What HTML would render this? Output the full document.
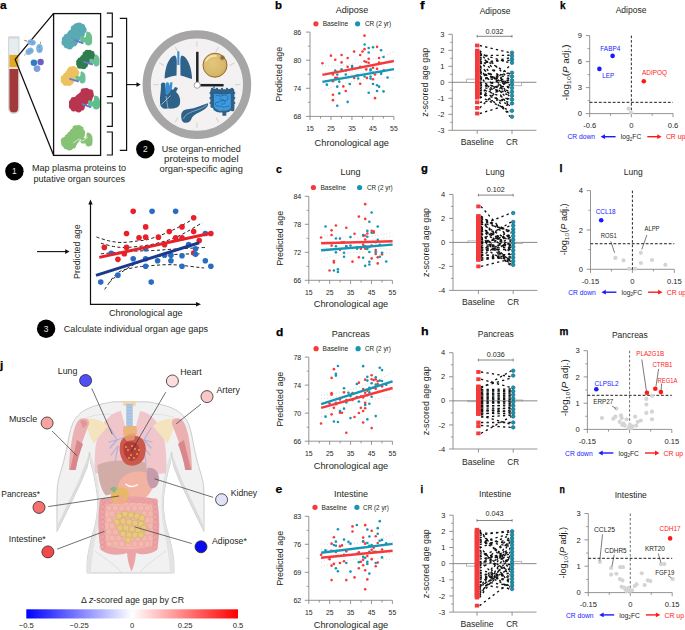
<!DOCTYPE html>
<html><head><meta charset="utf-8"><style>
html,body{margin:0;padding:0;background:#fff;}
svg{display:block;}
text{font-family:"Liberation Sans", sans-serif;}
</style></head><body>
<svg width="685" height="630" viewBox="0 0 685 630">
<rect width="685" height="630" fill="#fff"/>
<text x="275.00" y="9.00" font-size="11" font-weight="bold" fill="#000" stroke="#000" stroke-width="0.25" textLength="7" lengthAdjust="spacingAndGlyphs">b</text>
<text x="351.90" y="12.90" font-size="9" fill="#231f20" text-anchor="middle">Adipose</text>
<circle cx="315.90" cy="23.80" r="2.6" fill="#f63a3b"/>
<text x="322.70" y="26.20" font-size="7" fill="#231f20" textLength="25.40" lengthAdjust="spacingAndGlyphs">Baseline</text>
<circle cx="357.60" cy="23.80" r="2.6" fill="#1596b4"/>
<text x="364.90" y="26.20" font-size="7" fill="#231f20" textLength="26.30" lengthAdjust="spacingAndGlyphs">CR (2 yr)</text>
<line x1="310.00" y1="32.10" x2="310.00" y2="116.40" stroke="#7a7a7a" stroke-width="0.8"/>
<line x1="310.00" y1="116.40" x2="393.90" y2="116.40" stroke="#7a7a7a" stroke-width="0.8"/>
<line x1="306.00" y1="116.40" x2="310.00" y2="116.40" stroke="#7a7a7a" stroke-width="0.8"/>
<text x="301.30" y="119.20" font-size="7.8" fill="#231f20" text-anchor="end" textLength="7.90" lengthAdjust="spacingAndGlyphs">68</text>
<line x1="306.00" y1="88.30" x2="310.00" y2="88.30" stroke="#7a7a7a" stroke-width="0.8"/>
<text x="301.30" y="91.10" font-size="7.8" fill="#231f20" text-anchor="end" textLength="7.90" lengthAdjust="spacingAndGlyphs">74</text>
<line x1="306.00" y1="60.20" x2="310.00" y2="60.20" stroke="#7a7a7a" stroke-width="0.8"/>
<text x="301.30" y="63.00" font-size="7.8" fill="#231f20" text-anchor="end" textLength="7.90" lengthAdjust="spacingAndGlyphs">80</text>
<line x1="306.00" y1="32.10" x2="310.00" y2="32.10" stroke="#7a7a7a" stroke-width="0.8"/>
<text x="301.30" y="34.90" font-size="7.8" fill="#231f20" text-anchor="end" textLength="7.90" lengthAdjust="spacingAndGlyphs">86</text>
<line x1="307.80" y1="102.35" x2="310.00" y2="102.35" stroke="#7a7a7a" stroke-width="0.7"/>
<line x1="307.80" y1="74.25" x2="310.00" y2="74.25" stroke="#7a7a7a" stroke-width="0.7"/>
<line x1="307.80" y1="46.15" x2="310.00" y2="46.15" stroke="#7a7a7a" stroke-width="0.7"/>
<line x1="310.00" y1="116.40" x2="310.00" y2="120.00" stroke="#7a7a7a" stroke-width="0.8"/>
<text x="310.00" y="130.80" font-size="7.8" fill="#231f20" text-anchor="middle" textLength="7.60" lengthAdjust="spacingAndGlyphs">15</text>
<line x1="320.49" y1="116.40" x2="320.49" y2="118.60" stroke="#7a7a7a" stroke-width="0.8"/>
<line x1="330.98" y1="116.40" x2="330.98" y2="120.00" stroke="#7a7a7a" stroke-width="0.8"/>
<text x="330.98" y="130.80" font-size="7.8" fill="#231f20" text-anchor="middle" textLength="7.60" lengthAdjust="spacingAndGlyphs">25</text>
<line x1="341.46" y1="116.40" x2="341.46" y2="118.60" stroke="#7a7a7a" stroke-width="0.8"/>
<line x1="351.95" y1="116.40" x2="351.95" y2="120.00" stroke="#7a7a7a" stroke-width="0.8"/>
<text x="351.95" y="130.80" font-size="7.8" fill="#231f20" text-anchor="middle" textLength="7.60" lengthAdjust="spacingAndGlyphs">35</text>
<line x1="362.44" y1="116.40" x2="362.44" y2="118.60" stroke="#7a7a7a" stroke-width="0.8"/>
<line x1="372.92" y1="116.40" x2="372.92" y2="120.00" stroke="#7a7a7a" stroke-width="0.8"/>
<text x="372.92" y="130.80" font-size="7.8" fill="#231f20" text-anchor="middle" textLength="7.60" lengthAdjust="spacingAndGlyphs">45</text>
<line x1="383.41" y1="116.40" x2="383.41" y2="118.60" stroke="#7a7a7a" stroke-width="0.8"/>
<line x1="393.90" y1="116.40" x2="393.90" y2="120.00" stroke="#7a7a7a" stroke-width="0.8"/>
<text x="393.90" y="130.80" font-size="7.8" fill="#231f20" text-anchor="middle" textLength="7.60" lengthAdjust="spacingAndGlyphs">55</text>
<text x="351.80" y="145.50" font-size="9" fill="#231f20" text-anchor="middle" textLength="74.40" lengthAdjust="spacingAndGlyphs">Chronological age</text>
<text x="281.60" y="74.25" font-size="8.7" fill="#231f20" text-anchor="middle" textLength="55.00" lengthAdjust="spacingAndGlyphs" transform="rotate(-90 281.60 74.25)">Predicted age</text>
<path d="M322.4,65.9 Q358.1,67.0 393.9,52.0" fill="none" stroke="#b8b8b8" stroke-width="0.7" stroke-dasharray="0.8 2.2"/>
<path d="M322.4,83.9 Q358.1,69.0 393.9,70.0" fill="none" stroke="#b8b8b8" stroke-width="0.7" stroke-dasharray="0.8 2.2"/>
<path d="M322.4,72.9 Q358.1,74.5 393.9,60.1" fill="none" stroke="#b8b8b8" stroke-width="0.7" stroke-dasharray="0.8 2.2"/>
<path d="M322.4,90.9 Q358.1,76.5 393.9,78.1" fill="none" stroke="#b8b8b8" stroke-width="0.7" stroke-dasharray="0.8 2.2"/>
<circle cx="322.42" cy="63.32" r="1.3" fill="#f63a3b"/>
<circle cx="330.92" cy="55.63" r="1.3" fill="#f63a3b"/>
<circle cx="335.24" cy="59.68" r="1.3" fill="#f63a3b"/>
<circle cx="341.58" cy="54.96" r="1.3" fill="#f63a3b"/>
<circle cx="341.58" cy="62.38" r="1.3" fill="#f63a3b"/>
<circle cx="347.65" cy="57.93" r="1.3" fill="#f63a3b"/>
<circle cx="347.65" cy="66.83" r="1.3" fill="#f63a3b"/>
<circle cx="354.12" cy="51.59" r="1.3" fill="#f63a3b"/>
<circle cx="360.19" cy="54.96" r="1.3" fill="#f63a3b"/>
<circle cx="362.49" cy="51.59" r="1.3" fill="#f63a3b"/>
<circle cx="364.51" cy="49.16" r="1.3" fill="#f63a3b"/>
<circle cx="364.51" cy="35.67" r="1.3" fill="#f63a3b"/>
<circle cx="364.51" cy="61.30" r="1.3" fill="#f63a3b"/>
<circle cx="366.26" cy="61.97" r="1.3" fill="#f63a3b"/>
<circle cx="368.69" cy="58.74" r="1.3" fill="#f63a3b"/>
<circle cx="368.69" cy="62.78" r="1.3" fill="#f63a3b"/>
<circle cx="377.06" cy="46.86" r="1.3" fill="#f63a3b"/>
<circle cx="379.08" cy="57.93" r="1.3" fill="#f63a3b"/>
<circle cx="379.08" cy="62.65" r="1.3" fill="#f63a3b"/>
<circle cx="377.06" cy="68.85" r="1.3" fill="#f63a3b"/>
<circle cx="373.01" cy="67.77" r="1.3" fill="#f63a3b"/>
<circle cx="366.26" cy="69.39" r="1.3" fill="#f63a3b"/>
<circle cx="366.94" cy="77.89" r="1.3" fill="#f63a3b"/>
<circle cx="360.19" cy="83.69" r="1.3" fill="#f63a3b"/>
<circle cx="354.12" cy="77.89" r="1.3" fill="#f63a3b"/>
<circle cx="343.33" cy="86.39" r="1.3" fill="#f63a3b"/>
<circle cx="345.76" cy="90.98" r="1.3" fill="#f63a3b"/>
<circle cx="332.94" cy="81.26" r="1.3" fill="#f63a3b"/>
<circle cx="332.94" cy="94.76" r="1.3" fill="#f63a3b"/>
<circle cx="332.94" cy="100.15" r="1.3" fill="#f63a3b"/>
<circle cx="335.24" cy="77.89" r="1.3" fill="#f63a3b"/>
<circle cx="337.26" cy="77.89" r="1.3" fill="#f63a3b"/>
<circle cx="332.94" cy="74.52" r="1.3" fill="#f63a3b"/>
<circle cx="375.03" cy="98.13" r="1.3" fill="#f63a3b"/>
<circle cx="383.80" cy="70.20" r="1.3" fill="#f63a3b"/>
<circle cx="373.01" cy="79.24" r="1.3" fill="#f63a3b"/>
<circle cx="375.03" cy="74.52" r="1.3" fill="#f63a3b"/>
<circle cx="356.15" cy="75.87" r="1.3" fill="#f63a3b"/>
<circle cx="364.65" cy="44.44" r="1.3" fill="#1596b4"/>
<circle cx="368.69" cy="47.94" r="1.3" fill="#1596b4"/>
<circle cx="373.01" cy="47.27" r="1.3" fill="#1596b4"/>
<circle cx="368.69" cy="52.53" r="1.3" fill="#1596b4"/>
<circle cx="381.10" cy="50.24" r="1.3" fill="#1596b4"/>
<circle cx="383.53" cy="56.98" r="1.3" fill="#1596b4"/>
<circle cx="335.24" cy="70.47" r="1.3" fill="#1596b4"/>
<circle cx="337.26" cy="74.52" r="1.3" fill="#1596b4"/>
<circle cx="341.58" cy="69.39" r="1.3" fill="#1596b4"/>
<circle cx="345.76" cy="70.47" r="1.3" fill="#1596b4"/>
<circle cx="345.76" cy="74.52" r="1.3" fill="#1596b4"/>
<circle cx="352.10" cy="66.02" r="1.3" fill="#1596b4"/>
<circle cx="352.10" cy="67.10" r="1.3" fill="#1596b4"/>
<circle cx="360.19" cy="66.69" r="1.3" fill="#1596b4"/>
<circle cx="358.17" cy="75.19" r="1.3" fill="#1596b4"/>
<circle cx="358.17" cy="78.57" r="1.3" fill="#1596b4"/>
<circle cx="364.65" cy="76.54" r="1.3" fill="#1596b4"/>
<circle cx="370.58" cy="69.39" r="1.3" fill="#1596b4"/>
<circle cx="370.58" cy="70.47" r="1.3" fill="#1596b4"/>
<circle cx="370.58" cy="76.54" r="1.3" fill="#1596b4"/>
<circle cx="370.58" cy="78.57" r="1.3" fill="#1596b4"/>
<circle cx="373.01" cy="72.90" r="1.3" fill="#1596b4"/>
<circle cx="381.10" cy="72.50" r="1.3" fill="#1596b4"/>
<circle cx="381.10" cy="73.84" r="1.3" fill="#1596b4"/>
<circle cx="387.58" cy="77.49" r="1.3" fill="#1596b4"/>
<circle cx="326.87" cy="84.64" r="1.3" fill="#1596b4"/>
<circle cx="339.28" cy="81.67" r="1.3" fill="#1596b4"/>
<circle cx="337.26" cy="86.66" r="1.3" fill="#1596b4"/>
<circle cx="339.28" cy="93.41" r="1.3" fill="#1596b4"/>
<circle cx="349.81" cy="83.96" r="1.3" fill="#1596b4"/>
<circle cx="347.65" cy="101.91" r="1.3" fill="#1596b4"/>
<circle cx="337.26" cy="105.82" r="1.3" fill="#1596b4"/>
<circle cx="368.69" cy="92.73" r="1.3" fill="#1596b4"/>
<circle cx="373.01" cy="83.96" r="1.3" fill="#1596b4"/>
<circle cx="377.06" cy="85.31" r="1.3" fill="#1596b4"/>
<circle cx="379.08" cy="86.66" r="1.3" fill="#1596b4"/>
<circle cx="377.06" cy="90.98" r="1.3" fill="#1596b4"/>
<circle cx="383.53" cy="91.38" r="1.3" fill="#1596b4"/>
<line x1="322.40" y1="74.90" x2="393.90" y2="61.00" stroke="#f63a3b" stroke-width="2.4"/>
<line x1="322.40" y1="81.90" x2="393.90" y2="69.10" stroke="#1596b4" stroke-width="2.4"/>
<text x="276.00" y="173.00" font-size="11" font-weight="bold" fill="#000" stroke="#000" stroke-width="0.25" textLength="5.8" lengthAdjust="spacingAndGlyphs">c</text>
<text x="350.40" y="175.00" font-size="9" fill="#231f20" text-anchor="middle">Lung</text>
<circle cx="313.40" cy="187.50" r="2.6" fill="#f63a3b"/>
<text x="320.40" y="189.90" font-size="7" fill="#231f20" textLength="25.60" lengthAdjust="spacingAndGlyphs">Baseline</text>
<circle cx="359.60" cy="187.50" r="2.6" fill="#1596b4"/>
<text x="366.90" y="189.90" font-size="7" fill="#231f20" textLength="25.80" lengthAdjust="spacingAndGlyphs">CR (2 yr)</text>
<line x1="308.80" y1="196.30" x2="308.80" y2="280.30" stroke="#7a7a7a" stroke-width="0.8"/>
<line x1="308.80" y1="280.30" x2="392.40" y2="280.30" stroke="#7a7a7a" stroke-width="0.8"/>
<line x1="304.80" y1="280.30" x2="308.80" y2="280.30" stroke="#7a7a7a" stroke-width="0.8"/>
<text x="301.30" y="283.10" font-size="7.8" fill="#231f20" text-anchor="end" textLength="7.90" lengthAdjust="spacingAndGlyphs">66</text>
<line x1="304.80" y1="252.30" x2="308.80" y2="252.30" stroke="#7a7a7a" stroke-width="0.8"/>
<text x="301.30" y="255.10" font-size="7.8" fill="#231f20" text-anchor="end" textLength="7.90" lengthAdjust="spacingAndGlyphs">72</text>
<line x1="304.80" y1="224.30" x2="308.80" y2="224.30" stroke="#7a7a7a" stroke-width="0.8"/>
<text x="301.30" y="227.10" font-size="7.8" fill="#231f20" text-anchor="end" textLength="7.90" lengthAdjust="spacingAndGlyphs">78</text>
<line x1="304.80" y1="196.30" x2="308.80" y2="196.30" stroke="#7a7a7a" stroke-width="0.8"/>
<text x="301.30" y="199.10" font-size="7.8" fill="#231f20" text-anchor="end" textLength="7.90" lengthAdjust="spacingAndGlyphs">84</text>
<line x1="306.60" y1="266.30" x2="308.80" y2="266.30" stroke="#7a7a7a" stroke-width="0.7"/>
<line x1="306.60" y1="238.30" x2="308.80" y2="238.30" stroke="#7a7a7a" stroke-width="0.7"/>
<line x1="306.60" y1="210.30" x2="308.80" y2="210.30" stroke="#7a7a7a" stroke-width="0.7"/>
<line x1="308.80" y1="280.30" x2="308.80" y2="283.90" stroke="#7a7a7a" stroke-width="0.8"/>
<text x="308.80" y="294.70" font-size="7.8" fill="#231f20" text-anchor="middle" textLength="7.60" lengthAdjust="spacingAndGlyphs">15</text>
<line x1="319.25" y1="280.30" x2="319.25" y2="282.50" stroke="#7a7a7a" stroke-width="0.8"/>
<line x1="329.70" y1="280.30" x2="329.70" y2="283.90" stroke="#7a7a7a" stroke-width="0.8"/>
<text x="329.70" y="294.70" font-size="7.8" fill="#231f20" text-anchor="middle" textLength="7.60" lengthAdjust="spacingAndGlyphs">25</text>
<line x1="340.15" y1="280.30" x2="340.15" y2="282.50" stroke="#7a7a7a" stroke-width="0.8"/>
<line x1="350.60" y1="280.30" x2="350.60" y2="283.90" stroke="#7a7a7a" stroke-width="0.8"/>
<text x="350.60" y="294.70" font-size="7.8" fill="#231f20" text-anchor="middle" textLength="7.60" lengthAdjust="spacingAndGlyphs">35</text>
<line x1="361.05" y1="280.30" x2="361.05" y2="282.50" stroke="#7a7a7a" stroke-width="0.8"/>
<line x1="371.50" y1="280.30" x2="371.50" y2="283.90" stroke="#7a7a7a" stroke-width="0.8"/>
<text x="371.50" y="294.70" font-size="7.8" fill="#231f20" text-anchor="middle" textLength="7.60" lengthAdjust="spacingAndGlyphs">45</text>
<line x1="381.95" y1="280.30" x2="381.95" y2="282.50" stroke="#7a7a7a" stroke-width="0.8"/>
<line x1="392.40" y1="280.30" x2="392.40" y2="283.90" stroke="#7a7a7a" stroke-width="0.8"/>
<text x="392.40" y="294.70" font-size="7.8" fill="#231f20" text-anchor="middle" textLength="7.60" lengthAdjust="spacingAndGlyphs">55</text>
<text x="351.00" y="307.00" font-size="9" fill="#231f20" text-anchor="middle" textLength="74.40" lengthAdjust="spacingAndGlyphs">Chronological age</text>
<text x="283.20" y="238.30" font-size="8.7" fill="#231f20" text-anchor="middle" textLength="55.00" lengthAdjust="spacingAndGlyphs" transform="rotate(-90 283.20 238.30)">Predicted age</text>
<path d="M321.1,234.3 Q356.9,241.3 392.6,232.3" fill="none" stroke="#b8b8b8" stroke-width="0.7" stroke-dasharray="0.8 2.2"/>
<path d="M321.1,252.3 Q356.9,243.3 392.6,250.3" fill="none" stroke="#b8b8b8" stroke-width="0.7" stroke-dasharray="0.8 2.2"/>
<path d="M321.1,241.3 Q356.9,246.4 392.6,235.6" fill="none" stroke="#b8b8b8" stroke-width="0.7" stroke-dasharray="0.8 2.2"/>
<path d="M321.1,259.3 Q356.9,248.4 392.6,253.6" fill="none" stroke="#b8b8b8" stroke-width="0.7" stroke-dasharray="0.8 2.2"/>
<circle cx="365.19" cy="204.17" r="1.3" fill="#f63a3b"/>
<circle cx="358.84" cy="216.59" r="1.3" fill="#f63a3b"/>
<circle cx="365.19" cy="218.88" r="1.3" fill="#f63a3b"/>
<circle cx="335.91" cy="225.49" r="1.3" fill="#f63a3b"/>
<circle cx="346.30" cy="227.78" r="1.3" fill="#f63a3b"/>
<circle cx="331.59" cy="230.35" r="1.3" fill="#f63a3b"/>
<circle cx="331.59" cy="235.07" r="1.3" fill="#f63a3b"/>
<circle cx="321.07" cy="237.50" r="1.3" fill="#f63a3b"/>
<circle cx="354.53" cy="233.72" r="1.3" fill="#f63a3b"/>
<circle cx="363.16" cy="235.74" r="1.3" fill="#f63a3b"/>
<circle cx="365.19" cy="235.47" r="1.3" fill="#f63a3b"/>
<circle cx="367.34" cy="233.45" r="1.3" fill="#f63a3b"/>
<circle cx="371.66" cy="230.75" r="1.3" fill="#f63a3b"/>
<circle cx="373.68" cy="231.42" r="1.3" fill="#f63a3b"/>
<circle cx="373.68" cy="232.77" r="1.3" fill="#f63a3b"/>
<circle cx="365.19" cy="239.52" r="1.3" fill="#f63a3b"/>
<circle cx="341.98" cy="242.22" r="1.3" fill="#f63a3b"/>
<circle cx="344.01" cy="242.22" r="1.3" fill="#f63a3b"/>
<circle cx="331.59" cy="245.59" r="1.3" fill="#f63a3b"/>
<circle cx="339.96" cy="249.64" r="1.3" fill="#f63a3b"/>
<circle cx="346.30" cy="246.26" r="1.3" fill="#f63a3b"/>
<circle cx="360.87" cy="248.69" r="1.3" fill="#f63a3b"/>
<circle cx="363.16" cy="244.65" r="1.3" fill="#f63a3b"/>
<circle cx="365.19" cy="248.69" r="1.3" fill="#f63a3b"/>
<circle cx="371.66" cy="245.59" r="1.3" fill="#f63a3b"/>
<circle cx="375.71" cy="250.04" r="1.3" fill="#f63a3b"/>
<circle cx="375.71" cy="253.95" r="1.3" fill="#f63a3b"/>
<circle cx="377.73" cy="257.33" r="1.3" fill="#f63a3b"/>
<circle cx="382.05" cy="254.36" r="1.3" fill="#f63a3b"/>
<circle cx="358.84" cy="257.33" r="1.3" fill="#f63a3b"/>
<circle cx="371.66" cy="258.41" r="1.3" fill="#f63a3b"/>
<circle cx="352.50" cy="261.64" r="1.3" fill="#f63a3b"/>
<circle cx="333.89" cy="261.10" r="1.3" fill="#f63a3b"/>
<circle cx="333.89" cy="262.45" r="1.3" fill="#f63a3b"/>
<circle cx="329.57" cy="270.55" r="1.3" fill="#f63a3b"/>
<circle cx="377.73" cy="263.40" r="1.3" fill="#f63a3b"/>
<circle cx="371.66" cy="212.54" r="1.3" fill="#1596b4"/>
<circle cx="369.37" cy="221.71" r="1.3" fill="#1596b4"/>
<circle cx="325.52" cy="226.57" r="1.3" fill="#1596b4"/>
<circle cx="377.73" cy="226.43" r="1.3" fill="#1596b4"/>
<circle cx="367.34" cy="230.89" r="1.3" fill="#1596b4"/>
<circle cx="371.66" cy="232.77" r="1.3" fill="#1596b4"/>
<circle cx="335.91" cy="238.44" r="1.3" fill="#1596b4"/>
<circle cx="339.96" cy="238.58" r="1.3" fill="#1596b4"/>
<circle cx="350.48" cy="237.09" r="1.3" fill="#1596b4"/>
<circle cx="363.16" cy="235.07" r="1.3" fill="#1596b4"/>
<circle cx="367.34" cy="236.82" r="1.3" fill="#1596b4"/>
<circle cx="377.73" cy="239.92" r="1.3" fill="#1596b4"/>
<circle cx="375.71" cy="242.22" r="1.3" fill="#1596b4"/>
<circle cx="379.76" cy="244.92" r="1.3" fill="#1596b4"/>
<circle cx="335.91" cy="246.26" r="1.3" fill="#1596b4"/>
<circle cx="346.30" cy="246.26" r="1.3" fill="#1596b4"/>
<circle cx="350.48" cy="245.59" r="1.3" fill="#1596b4"/>
<circle cx="357.09" cy="246.94" r="1.3" fill="#1596b4"/>
<circle cx="357.09" cy="248.69" r="1.3" fill="#1596b4"/>
<circle cx="365.19" cy="246.26" r="1.3" fill="#1596b4"/>
<circle cx="367.34" cy="246.94" r="1.3" fill="#1596b4"/>
<circle cx="369.37" cy="246.94" r="1.3" fill="#1596b4"/>
<circle cx="367.34" cy="248.96" r="1.3" fill="#1596b4"/>
<circle cx="335.91" cy="252.34" r="1.3" fill="#1596b4"/>
<circle cx="344.01" cy="252.74" r="1.3" fill="#1596b4"/>
<circle cx="344.01" cy="256.79" r="1.3" fill="#1596b4"/>
<circle cx="369.37" cy="252.07" r="1.3" fill="#1596b4"/>
<circle cx="375.71" cy="252.07" r="1.3" fill="#1596b4"/>
<circle cx="382.05" cy="252.74" r="1.3" fill="#1596b4"/>
<circle cx="363.16" cy="257.73" r="1.3" fill="#1596b4"/>
<circle cx="379.76" cy="256.79" r="1.3" fill="#1596b4"/>
<circle cx="369.37" cy="261.78" r="1.3" fill="#1596b4"/>
<circle cx="369.37" cy="264.48" r="1.3" fill="#1596b4"/>
<circle cx="365.19" cy="265.83" r="1.3" fill="#1596b4"/>
<circle cx="386.23" cy="261.51" r="1.3" fill="#1596b4"/>
<circle cx="333.89" cy="270.55" r="1.3" fill="#1596b4"/>
<circle cx="337.93" cy="269.20" r="1.3" fill="#1596b4"/>
<circle cx="337.93" cy="271.90" r="1.3" fill="#1596b4"/>
<line x1="321.10" y1="243.30" x2="392.60" y2="241.30" stroke="#f63a3b" stroke-width="2.4"/>
<line x1="321.10" y1="250.30" x2="392.60" y2="244.60" stroke="#1596b4" stroke-width="2.4"/>
<text x="276.00" y="335.50" font-size="11" font-weight="bold" fill="#000" stroke="#000" stroke-width="0.25" textLength="7.3" lengthAdjust="spacingAndGlyphs">d</text>
<text x="350.70" y="337.20" font-size="9" fill="#231f20" text-anchor="middle">Pancreas</text>
<circle cx="316.10" cy="348.70" r="2.6" fill="#f63a3b"/>
<text x="322.60" y="351.10" font-size="7" fill="#231f20" textLength="25.60" lengthAdjust="spacingAndGlyphs">Baseline</text>
<circle cx="358.10" cy="348.70" r="2.6" fill="#1596b4"/>
<text x="365.00" y="351.10" font-size="7" fill="#231f20" textLength="25.80" lengthAdjust="spacingAndGlyphs">CR (2 yr)</text>
<line x1="308.80" y1="357.10" x2="308.80" y2="441.20" stroke="#7a7a7a" stroke-width="0.8"/>
<line x1="308.80" y1="441.20" x2="392.40" y2="441.20" stroke="#7a7a7a" stroke-width="0.8"/>
<line x1="304.80" y1="441.20" x2="308.80" y2="441.20" stroke="#7a7a7a" stroke-width="0.8"/>
<text x="301.30" y="444.00" font-size="7.8" fill="#231f20" text-anchor="end" textLength="7.90" lengthAdjust="spacingAndGlyphs">66</text>
<line x1="304.80" y1="413.17" x2="308.80" y2="413.17" stroke="#7a7a7a" stroke-width="0.8"/>
<text x="301.30" y="415.97" font-size="7.8" fill="#231f20" text-anchor="end" textLength="7.90" lengthAdjust="spacingAndGlyphs">70</text>
<line x1="304.80" y1="385.13" x2="308.80" y2="385.13" stroke="#7a7a7a" stroke-width="0.8"/>
<text x="301.30" y="387.93" font-size="7.8" fill="#231f20" text-anchor="end" textLength="7.90" lengthAdjust="spacingAndGlyphs">74</text>
<line x1="304.80" y1="357.10" x2="308.80" y2="357.10" stroke="#7a7a7a" stroke-width="0.8"/>
<text x="301.30" y="359.90" font-size="7.8" fill="#231f20" text-anchor="end" textLength="7.90" lengthAdjust="spacingAndGlyphs">78</text>
<line x1="306.60" y1="427.18" x2="308.80" y2="427.18" stroke="#7a7a7a" stroke-width="0.7"/>
<line x1="306.60" y1="399.15" x2="308.80" y2="399.15" stroke="#7a7a7a" stroke-width="0.7"/>
<line x1="306.60" y1="371.12" x2="308.80" y2="371.12" stroke="#7a7a7a" stroke-width="0.7"/>
<line x1="308.80" y1="441.20" x2="308.80" y2="444.80" stroke="#7a7a7a" stroke-width="0.8"/>
<text x="308.80" y="455.60" font-size="7.8" fill="#231f20" text-anchor="middle" textLength="7.60" lengthAdjust="spacingAndGlyphs">15</text>
<line x1="319.25" y1="441.20" x2="319.25" y2="443.40" stroke="#7a7a7a" stroke-width="0.8"/>
<line x1="329.70" y1="441.20" x2="329.70" y2="444.80" stroke="#7a7a7a" stroke-width="0.8"/>
<text x="329.70" y="455.60" font-size="7.8" fill="#231f20" text-anchor="middle" textLength="7.60" lengthAdjust="spacingAndGlyphs">25</text>
<line x1="340.15" y1="441.20" x2="340.15" y2="443.40" stroke="#7a7a7a" stroke-width="0.8"/>
<line x1="350.60" y1="441.20" x2="350.60" y2="444.80" stroke="#7a7a7a" stroke-width="0.8"/>
<text x="350.60" y="455.60" font-size="7.8" fill="#231f20" text-anchor="middle" textLength="7.60" lengthAdjust="spacingAndGlyphs">35</text>
<line x1="361.05" y1="441.20" x2="361.05" y2="443.40" stroke="#7a7a7a" stroke-width="0.8"/>
<line x1="371.50" y1="441.20" x2="371.50" y2="444.80" stroke="#7a7a7a" stroke-width="0.8"/>
<text x="371.50" y="455.60" font-size="7.8" fill="#231f20" text-anchor="middle" textLength="7.60" lengthAdjust="spacingAndGlyphs">45</text>
<line x1="381.95" y1="441.20" x2="381.95" y2="443.40" stroke="#7a7a7a" stroke-width="0.8"/>
<line x1="392.40" y1="441.20" x2="392.40" y2="444.80" stroke="#7a7a7a" stroke-width="0.8"/>
<text x="392.40" y="455.60" font-size="7.8" fill="#231f20" text-anchor="middle" textLength="7.60" lengthAdjust="spacingAndGlyphs">55</text>
<text x="351.00" y="468.70" font-size="9" fill="#231f20" text-anchor="middle" textLength="74.40" lengthAdjust="spacingAndGlyphs">Chronological age</text>
<text x="283.20" y="399.15" font-size="8.7" fill="#231f20" text-anchor="middle" textLength="55.00" lengthAdjust="spacingAndGlyphs" transform="rotate(-90 283.20 399.15)">Predicted age</text>
<path d="M321.1,398.9 Q356.9,396.9 392.6,379.0" fill="none" stroke="#b8b8b8" stroke-width="0.7" stroke-dasharray="0.8 2.2"/>
<path d="M321.1,416.9 Q356.9,398.9 392.6,397.0" fill="none" stroke="#b8b8b8" stroke-width="0.7" stroke-dasharray="0.8 2.2"/>
<path d="M321.1,395.2 Q356.9,391.8 392.6,372.3" fill="none" stroke="#b8b8b8" stroke-width="0.7" stroke-dasharray="0.8 2.2"/>
<path d="M321.1,413.2 Q356.9,393.8 392.6,390.3" fill="none" stroke="#b8b8b8" stroke-width="0.7" stroke-dasharray="0.8 2.2"/>
<circle cx="333.89" cy="369.14" r="1.3" fill="#f63a3b"/>
<circle cx="331.59" cy="377.91" r="1.3" fill="#f63a3b"/>
<circle cx="331.59" cy="393.16" r="1.3" fill="#f63a3b"/>
<circle cx="331.59" cy="394.77" r="1.3" fill="#f63a3b"/>
<circle cx="344.01" cy="392.35" r="1.3" fill="#f63a3b"/>
<circle cx="352.50" cy="393.16" r="1.3" fill="#f63a3b"/>
<circle cx="358.84" cy="382.63" r="1.3" fill="#f63a3b"/>
<circle cx="365.19" cy="379.66" r="1.3" fill="#f63a3b"/>
<circle cx="371.66" cy="375.21" r="1.3" fill="#f63a3b"/>
<circle cx="371.66" cy="379.26" r="1.3" fill="#f63a3b"/>
<circle cx="373.68" cy="379.93" r="1.3" fill="#f63a3b"/>
<circle cx="375.71" cy="379.26" r="1.3" fill="#f63a3b"/>
<circle cx="377.73" cy="381.28" r="1.3" fill="#f63a3b"/>
<circle cx="377.73" cy="383.98" r="1.3" fill="#f63a3b"/>
<circle cx="373.68" cy="387.76" r="1.3" fill="#f63a3b"/>
<circle cx="375.71" cy="388.70" r="1.3" fill="#f63a3b"/>
<circle cx="382.05" cy="386.41" r="1.3" fill="#f63a3b"/>
<circle cx="363.16" cy="388.97" r="1.3" fill="#f63a3b"/>
<circle cx="365.19" cy="392.75" r="1.3" fill="#f63a3b"/>
<circle cx="367.34" cy="390.73" r="1.3" fill="#f63a3b"/>
<circle cx="367.34" cy="395.18" r="1.3" fill="#f63a3b"/>
<circle cx="363.16" cy="397.47" r="1.3" fill="#f63a3b"/>
<circle cx="360.87" cy="396.53" r="1.3" fill="#f63a3b"/>
<circle cx="352.50" cy="399.90" r="1.3" fill="#f63a3b"/>
<circle cx="346.30" cy="400.17" r="1.3" fill="#f63a3b"/>
<circle cx="339.96" cy="399.50" r="1.3" fill="#f63a3b"/>
<circle cx="329.57" cy="403.54" r="1.3" fill="#f63a3b"/>
<circle cx="333.89" cy="407.86" r="1.3" fill="#f63a3b"/>
<circle cx="335.91" cy="404.22" r="1.3" fill="#f63a3b"/>
<circle cx="339.96" cy="412.72" r="1.3" fill="#f63a3b"/>
<circle cx="341.98" cy="412.72" r="1.3" fill="#f63a3b"/>
<circle cx="331.59" cy="414.34" r="1.3" fill="#f63a3b"/>
<circle cx="321.07" cy="423.51" r="1.3" fill="#f63a3b"/>
<circle cx="354.53" cy="417.03" r="1.3" fill="#f63a3b"/>
<circle cx="358.84" cy="412.99" r="1.3" fill="#f63a3b"/>
<circle cx="363.16" cy="410.96" r="1.3" fill="#f63a3b"/>
<circle cx="365.19" cy="408.26" r="1.3" fill="#f63a3b"/>
<circle cx="360.87" cy="407.86" r="1.3" fill="#f63a3b"/>
<circle cx="365.19" cy="402.87" r="1.3" fill="#f63a3b"/>
<circle cx="363.16" cy="422.43" r="1.3" fill="#f63a3b"/>
<circle cx="371.66" cy="428.10" r="1.3" fill="#f63a3b"/>
<circle cx="346.30" cy="432.82" r="1.3" fill="#f63a3b"/>
<circle cx="337.93" cy="366.04" r="1.3" fill="#1596b4"/>
<circle cx="363.16" cy="366.17" r="1.3" fill="#1596b4"/>
<circle cx="335.91" cy="373.86" r="1.3" fill="#1596b4"/>
<circle cx="335.91" cy="375.62" r="1.3" fill="#1596b4"/>
<circle cx="379.76" cy="367.79" r="1.3" fill="#1596b4"/>
<circle cx="382.05" cy="370.09" r="1.3" fill="#1596b4"/>
<circle cx="367.34" cy="376.83" r="1.3" fill="#1596b4"/>
<circle cx="375.71" cy="377.24" r="1.3" fill="#1596b4"/>
<circle cx="367.34" cy="380.61" r="1.3" fill="#1596b4"/>
<circle cx="379.76" cy="380.61" r="1.3" fill="#1596b4"/>
<circle cx="382.05" cy="381.01" r="1.3" fill="#1596b4"/>
<circle cx="356.82" cy="383.98" r="1.3" fill="#1596b4"/>
<circle cx="371.66" cy="383.31" r="1.3" fill="#1596b4"/>
<circle cx="375.71" cy="384.66" r="1.3" fill="#1596b4"/>
<circle cx="386.23" cy="384.66" r="1.3" fill="#1596b4"/>
<circle cx="344.01" cy="388.30" r="1.3" fill="#1596b4"/>
<circle cx="348.46" cy="392.75" r="1.3" fill="#1596b4"/>
<circle cx="350.48" cy="394.77" r="1.3" fill="#1596b4"/>
<circle cx="350.48" cy="396.12" r="1.3" fill="#1596b4"/>
<circle cx="356.82" cy="397.07" r="1.3" fill="#1596b4"/>
<circle cx="369.37" cy="387.76" r="1.3" fill="#1596b4"/>
<circle cx="369.37" cy="389.38" r="1.3" fill="#1596b4"/>
<circle cx="369.37" cy="392.35" r="1.3" fill="#1596b4"/>
<circle cx="371.66" cy="396.80" r="1.3" fill="#1596b4"/>
<circle cx="358.84" cy="401.52" r="1.3" fill="#1596b4"/>
<circle cx="346.30" cy="402.46" r="1.3" fill="#1596b4"/>
<circle cx="335.91" cy="402.87" r="1.3" fill="#1596b4"/>
<circle cx="365.19" cy="404.89" r="1.3" fill="#1596b4"/>
<circle cx="369.37" cy="403.81" r="1.3" fill="#1596b4"/>
<circle cx="339.96" cy="410.96" r="1.3" fill="#1596b4"/>
<circle cx="344.01" cy="408.67" r="1.3" fill="#1596b4"/>
<circle cx="325.52" cy="416.63" r="1.3" fill="#1596b4"/>
<circle cx="333.89" cy="421.49" r="1.3" fill="#1596b4"/>
<circle cx="337.93" cy="422.03" r="1.3" fill="#1596b4"/>
<circle cx="350.48" cy="418.11" r="1.3" fill="#1596b4"/>
<circle cx="367.34" cy="419.33" r="1.3" fill="#1596b4"/>
<circle cx="375.71" cy="416.09" r="1.3" fill="#1596b4"/>
<line x1="321.10" y1="407.90" x2="392.60" y2="388.00" stroke="#f63a3b" stroke-width="2.4"/>
<line x1="321.10" y1="404.20" x2="392.60" y2="381.30" stroke="#1596b4" stroke-width="2.4"/>
<text x="275.50" y="493.20" font-size="11" font-weight="bold" fill="#000" stroke="#000" stroke-width="0.25" textLength="6.8" lengthAdjust="spacingAndGlyphs">e</text>
<text x="350.90" y="496.80" font-size="9" fill="#231f20" text-anchor="middle">Intestine</text>
<circle cx="315.00" cy="507.40" r="2.6" fill="#f63a3b"/>
<text x="321.60" y="509.80" font-size="7" fill="#231f20" textLength="25.40" lengthAdjust="spacingAndGlyphs">Baseline</text>
<circle cx="356.90" cy="507.40" r="2.6" fill="#1596b4"/>
<text x="363.10" y="509.80" font-size="7" fill="#231f20" textLength="25.70" lengthAdjust="spacingAndGlyphs">CR (2 yr)</text>
<line x1="308.80" y1="516.30" x2="308.80" y2="600.30" stroke="#7a7a7a" stroke-width="0.8"/>
<line x1="308.80" y1="600.30" x2="392.40" y2="600.30" stroke="#7a7a7a" stroke-width="0.8"/>
<line x1="304.80" y1="600.30" x2="308.80" y2="600.30" stroke="#7a7a7a" stroke-width="0.8"/>
<text x="301.30" y="603.10" font-size="7.8" fill="#231f20" text-anchor="end" textLength="7.90" lengthAdjust="spacingAndGlyphs">62</text>
<line x1="304.80" y1="572.30" x2="308.80" y2="572.30" stroke="#7a7a7a" stroke-width="0.8"/>
<text x="301.30" y="575.10" font-size="7.8" fill="#231f20" text-anchor="end" textLength="7.90" lengthAdjust="spacingAndGlyphs">69</text>
<line x1="304.80" y1="544.30" x2="308.80" y2="544.30" stroke="#7a7a7a" stroke-width="0.8"/>
<text x="301.30" y="547.10" font-size="7.8" fill="#231f20" text-anchor="end" textLength="7.90" lengthAdjust="spacingAndGlyphs">76</text>
<line x1="304.80" y1="516.30" x2="308.80" y2="516.30" stroke="#7a7a7a" stroke-width="0.8"/>
<text x="301.30" y="519.10" font-size="7.8" fill="#231f20" text-anchor="end" textLength="7.90" lengthAdjust="spacingAndGlyphs">83</text>
<line x1="306.60" y1="586.30" x2="308.80" y2="586.30" stroke="#7a7a7a" stroke-width="0.7"/>
<line x1="306.60" y1="558.30" x2="308.80" y2="558.30" stroke="#7a7a7a" stroke-width="0.7"/>
<line x1="306.60" y1="530.30" x2="308.80" y2="530.30" stroke="#7a7a7a" stroke-width="0.7"/>
<line x1="308.80" y1="600.30" x2="308.80" y2="603.90" stroke="#7a7a7a" stroke-width="0.8"/>
<text x="308.80" y="614.70" font-size="7.8" fill="#231f20" text-anchor="middle" textLength="7.60" lengthAdjust="spacingAndGlyphs">15</text>
<line x1="319.25" y1="600.30" x2="319.25" y2="602.50" stroke="#7a7a7a" stroke-width="0.8"/>
<line x1="329.70" y1="600.30" x2="329.70" y2="603.90" stroke="#7a7a7a" stroke-width="0.8"/>
<text x="329.70" y="614.70" font-size="7.8" fill="#231f20" text-anchor="middle" textLength="7.60" lengthAdjust="spacingAndGlyphs">25</text>
<line x1="340.15" y1="600.30" x2="340.15" y2="602.50" stroke="#7a7a7a" stroke-width="0.8"/>
<line x1="350.60" y1="600.30" x2="350.60" y2="603.90" stroke="#7a7a7a" stroke-width="0.8"/>
<text x="350.60" y="614.70" font-size="7.8" fill="#231f20" text-anchor="middle" textLength="7.60" lengthAdjust="spacingAndGlyphs">35</text>
<line x1="361.05" y1="600.30" x2="361.05" y2="602.50" stroke="#7a7a7a" stroke-width="0.8"/>
<line x1="371.50" y1="600.30" x2="371.50" y2="603.90" stroke="#7a7a7a" stroke-width="0.8"/>
<text x="371.50" y="614.70" font-size="7.8" fill="#231f20" text-anchor="middle" textLength="7.60" lengthAdjust="spacingAndGlyphs">45</text>
<line x1="381.95" y1="600.30" x2="381.95" y2="602.50" stroke="#7a7a7a" stroke-width="0.8"/>
<line x1="392.40" y1="600.30" x2="392.40" y2="603.90" stroke="#7a7a7a" stroke-width="0.8"/>
<text x="392.40" y="614.70" font-size="7.8" fill="#231f20" text-anchor="middle" textLength="7.60" lengthAdjust="spacingAndGlyphs">55</text>
<text x="351.00" y="628.00" font-size="9" fill="#231f20" text-anchor="middle" textLength="74.40" lengthAdjust="spacingAndGlyphs">Chronological age</text>
<text x="283.20" y="558.30" font-size="8.7" fill="#231f20" text-anchor="middle" textLength="55.00" lengthAdjust="spacingAndGlyphs" transform="rotate(-90 283.20 558.30)">Predicted age</text>
<path d="M321.1,548.8 Q356.9,553.3 392.6,541.8" fill="none" stroke="#b8b8b8" stroke-width="0.7" stroke-dasharray="0.8 2.2"/>
<path d="M321.1,566.8 Q356.9,555.3 392.6,559.8" fill="none" stroke="#b8b8b8" stroke-width="0.7" stroke-dasharray="0.8 2.2"/>
<path d="M321.1,543.8 Q356.9,547.3 392.6,534.9" fill="none" stroke="#b8b8b8" stroke-width="0.7" stroke-dasharray="0.8 2.2"/>
<path d="M321.1,561.8 Q356.9,549.3 392.6,552.9" fill="none" stroke="#b8b8b8" stroke-width="0.7" stroke-dasharray="0.8 2.2"/>
<circle cx="352.50" cy="526.39" r="1.3" fill="#f63a3b"/>
<circle cx="352.50" cy="531.51" r="1.3" fill="#f63a3b"/>
<circle cx="365.19" cy="525.17" r="1.3" fill="#f63a3b"/>
<circle cx="371.66" cy="530.84" r="1.3" fill="#f63a3b"/>
<circle cx="333.89" cy="537.32" r="1.3" fill="#f63a3b"/>
<circle cx="331.59" cy="543.66" r="1.3" fill="#f63a3b"/>
<circle cx="339.96" cy="546.35" r="1.3" fill="#f63a3b"/>
<circle cx="341.98" cy="545.41" r="1.3" fill="#f63a3b"/>
<circle cx="363.16" cy="537.59" r="1.3" fill="#f63a3b"/>
<circle cx="363.16" cy="541.63" r="1.3" fill="#f63a3b"/>
<circle cx="365.19" cy="543.66" r="1.3" fill="#f63a3b"/>
<circle cx="375.71" cy="536.24" r="1.3" fill="#f63a3b"/>
<circle cx="377.73" cy="542.98" r="1.3" fill="#f63a3b"/>
<circle cx="321.07" cy="554.72" r="1.3" fill="#f63a3b"/>
<circle cx="331.59" cy="550.81" r="1.3" fill="#f63a3b"/>
<circle cx="335.91" cy="552.02" r="1.3" fill="#f63a3b"/>
<circle cx="346.30" cy="551.35" r="1.3" fill="#f63a3b"/>
<circle cx="358.84" cy="552.42" r="1.3" fill="#f63a3b"/>
<circle cx="371.66" cy="549.73" r="1.3" fill="#f63a3b"/>
<circle cx="373.68" cy="547.70" r="1.3" fill="#f63a3b"/>
<circle cx="373.68" cy="551.75" r="1.3" fill="#f63a3b"/>
<circle cx="382.05" cy="549.46" r="1.3" fill="#f63a3b"/>
<circle cx="367.34" cy="556.07" r="1.3" fill="#f63a3b"/>
<circle cx="371.66" cy="559.17" r="1.3" fill="#f63a3b"/>
<circle cx="329.57" cy="559.17" r="1.3" fill="#f63a3b"/>
<circle cx="331.59" cy="565.65" r="1.3" fill="#f63a3b"/>
<circle cx="333.89" cy="563.89" r="1.3" fill="#f63a3b"/>
<circle cx="339.96" cy="562.95" r="1.3" fill="#f63a3b"/>
<circle cx="344.01" cy="561.19" r="1.3" fill="#f63a3b"/>
<circle cx="360.87" cy="561.87" r="1.3" fill="#f63a3b"/>
<circle cx="363.16" cy="559.84" r="1.3" fill="#f63a3b"/>
<circle cx="363.16" cy="565.24" r="1.3" fill="#f63a3b"/>
<circle cx="358.84" cy="568.21" r="1.3" fill="#f63a3b"/>
<circle cx="365.19" cy="570.23" r="1.3" fill="#f63a3b"/>
<circle cx="375.71" cy="566.32" r="1.3" fill="#f63a3b"/>
<circle cx="377.73" cy="562.54" r="1.3" fill="#f63a3b"/>
<circle cx="331.59" cy="580.08" r="1.3" fill="#f63a3b"/>
<circle cx="346.30" cy="580.08" r="1.3" fill="#f63a3b"/>
<circle cx="354.53" cy="577.38" r="1.3" fill="#f63a3b"/>
<circle cx="367.34" cy="579.41" r="1.3" fill="#f63a3b"/>
<circle cx="365.19" cy="589.25" r="1.3" fill="#f63a3b"/>
<circle cx="337.93" cy="529.22" r="1.3" fill="#1596b4"/>
<circle cx="356.82" cy="525.04" r="1.3" fill="#1596b4"/>
<circle cx="367.34" cy="529.49" r="1.3" fill="#1596b4"/>
<circle cx="377.73" cy="528.14" r="1.3" fill="#1596b4"/>
<circle cx="379.76" cy="521.13" r="1.3" fill="#1596b4"/>
<circle cx="377.73" cy="533.81" r="1.3" fill="#1596b4"/>
<circle cx="369.37" cy="536.51" r="1.3" fill="#1596b4"/>
<circle cx="335.91" cy="541.63" r="1.3" fill="#1596b4"/>
<circle cx="333.89" cy="545.01" r="1.3" fill="#1596b4"/>
<circle cx="335.91" cy="545.68" r="1.3" fill="#1596b4"/>
<circle cx="344.01" cy="539.61" r="1.3" fill="#1596b4"/>
<circle cx="348.46" cy="541.90" r="1.3" fill="#1596b4"/>
<circle cx="350.48" cy="543.66" r="1.3" fill="#1596b4"/>
<circle cx="363.16" cy="541.23" r="1.3" fill="#1596b4"/>
<circle cx="367.34" cy="542.98" r="1.3" fill="#1596b4"/>
<circle cx="369.37" cy="545.68" r="1.3" fill="#1596b4"/>
<circle cx="371.66" cy="545.01" r="1.3" fill="#1596b4"/>
<circle cx="379.76" cy="540.69" r="1.3" fill="#1596b4"/>
<circle cx="382.05" cy="539.88" r="1.3" fill="#1596b4"/>
<circle cx="386.23" cy="543.39" r="1.3" fill="#1596b4"/>
<circle cx="325.52" cy="550.40" r="1.3" fill="#1596b4"/>
<circle cx="344.01" cy="554.72" r="1.3" fill="#1596b4"/>
<circle cx="356.82" cy="553.77" r="1.3" fill="#1596b4"/>
<circle cx="369.37" cy="551.75" r="1.3" fill="#1596b4"/>
<circle cx="375.71" cy="551.75" r="1.3" fill="#1596b4"/>
<circle cx="382.05" cy="557.42" r="1.3" fill="#1596b4"/>
<circle cx="363.16" cy="556.88" r="1.3" fill="#1596b4"/>
<circle cx="365.19" cy="557.82" r="1.3" fill="#1596b4"/>
<circle cx="346.30" cy="562.95" r="1.3" fill="#1596b4"/>
<circle cx="358.84" cy="562.14" r="1.3" fill="#1596b4"/>
<circle cx="367.34" cy="561.87" r="1.3" fill="#1596b4"/>
<circle cx="367.34" cy="563.89" r="1.3" fill="#1596b4"/>
<circle cx="375.71" cy="562.95" r="1.3" fill="#1596b4"/>
<circle cx="335.91" cy="568.34" r="1.3" fill="#1596b4"/>
<circle cx="337.93" cy="571.31" r="1.3" fill="#1596b4"/>
<circle cx="350.48" cy="571.58" r="1.3" fill="#1596b4"/>
<circle cx="369.37" cy="573.61" r="1.3" fill="#1596b4"/>
<line x1="321.10" y1="557.80" x2="392.60" y2="550.80" stroke="#f63a3b" stroke-width="2.4"/>
<line x1="321.10" y1="552.80" x2="392.60" y2="543.90" stroke="#1596b4" stroke-width="2.4"/>
<text x="420.00" y="9.00" font-size="11" font-weight="bold" fill="#000" stroke="#000" stroke-width="0.25" textLength="4.6" lengthAdjust="spacingAndGlyphs">f</text>
<text x="495.00" y="13.60" font-size="8.5" fill="#231f20" text-anchor="middle">Adipose</text>
<line x1="452.30" y1="34.30" x2="452.30" y2="130.30" stroke="#7a7a7a" stroke-width="0.8"/>
<line x1="452.30" y1="130.30" x2="536.40" y2="130.30" stroke="#7a7a7a" stroke-width="0.8"/>
<line x1="448.30" y1="130.30" x2="452.30" y2="130.30" stroke="#7a7a7a" stroke-width="0.8"/>
<text x="444.40" y="132.90" font-size="7.5" fill="#231f20" text-anchor="end">-3</text>
<line x1="448.30" y1="114.30" x2="452.30" y2="114.30" stroke="#7a7a7a" stroke-width="0.8"/>
<text x="444.40" y="116.90" font-size="7.5" fill="#231f20" text-anchor="end">-2</text>
<line x1="448.30" y1="98.30" x2="452.30" y2="98.30" stroke="#7a7a7a" stroke-width="0.8"/>
<text x="444.40" y="100.90" font-size="7.5" fill="#231f20" text-anchor="end">-1</text>
<line x1="448.30" y1="82.30" x2="452.30" y2="82.30" stroke="#7a7a7a" stroke-width="0.8"/>
<text x="444.40" y="84.90" font-size="7.5" fill="#231f20" text-anchor="end">0</text>
<line x1="448.30" y1="66.30" x2="452.30" y2="66.30" stroke="#7a7a7a" stroke-width="0.8"/>
<text x="444.40" y="68.90" font-size="7.5" fill="#231f20" text-anchor="end">1</text>
<line x1="448.30" y1="50.30" x2="452.30" y2="50.30" stroke="#7a7a7a" stroke-width="0.8"/>
<text x="444.40" y="52.90" font-size="7.5" fill="#231f20" text-anchor="end">2</text>
<line x1="448.30" y1="34.30" x2="452.30" y2="34.30" stroke="#7a7a7a" stroke-width="0.8"/>
<text x="444.40" y="36.90" font-size="7.5" fill="#231f20" text-anchor="end">3</text>
<line x1="450.10" y1="122.30" x2="452.30" y2="122.30" stroke="#7a7a7a" stroke-width="0.7"/>
<line x1="450.10" y1="106.30" x2="452.30" y2="106.30" stroke="#7a7a7a" stroke-width="0.7"/>
<line x1="450.10" y1="90.30" x2="452.30" y2="90.30" stroke="#7a7a7a" stroke-width="0.7"/>
<line x1="450.10" y1="74.30" x2="452.30" y2="74.30" stroke="#7a7a7a" stroke-width="0.7"/>
<line x1="450.10" y1="58.30" x2="452.30" y2="58.30" stroke="#7a7a7a" stroke-width="0.7"/>
<line x1="450.10" y1="42.30" x2="452.30" y2="42.30" stroke="#7a7a7a" stroke-width="0.7"/>
<line x1="477.20" y1="130.30" x2="477.20" y2="133.90" stroke="#7a7a7a" stroke-width="0.8"/>
<line x1="512.00" y1="130.30" x2="512.00" y2="133.90" stroke="#7a7a7a" stroke-width="0.8"/>
<text x="477.20" y="145.30" font-size="8.2" fill="#231f20" text-anchor="middle" textLength="33.00" lengthAdjust="spacingAndGlyphs">Baseline</text>
<text x="512.00" y="145.30" font-size="8.2" fill="#231f20" text-anchor="middle">CR</text>
<text x="428.20" y="82.30" font-size="8.8" fill="#231f20" text-anchor="middle" textLength="69.00" lengthAdjust="spacingAndGlyphs" transform="rotate(-90 428.20 82.30)">z-scored age gap</text>
<line x1="452.30" y1="82.30" x2="536.40" y2="82.30" stroke="#6a6a6a" stroke-width="0.8"/>
<rect x="466.70" y="79.10" width="10.50" height="3.20" fill="#fff" stroke="#8a8a8a" stroke-width="0.6"/>
<rect x="512.00" y="82.30" width="9.50" height="3.52" fill="#fff" stroke="#8a8a8a" stroke-width="0.6"/>
<line x1="479.80" y1="45.50" x2="510.00" y2="52.70" stroke="#111" stroke-width="1.35" stroke-dasharray="2.3 3.2"/>
<line x1="479.80" y1="55.55" x2="510.00" y2="55.26" stroke="#111" stroke-width="1.35" stroke-dasharray="2.3 3.2"/>
<line x1="479.80" y1="63.77" x2="510.00" y2="57.82" stroke="#111" stroke-width="1.35" stroke-dasharray="2.3 3.2"/>
<line x1="479.80" y1="62.13" x2="510.00" y2="60.38" stroke="#111" stroke-width="1.35" stroke-dasharray="2.3 3.2"/>
<line x1="479.80" y1="53.91" x2="510.00" y2="62.94" stroke="#111" stroke-width="1.35" stroke-dasharray="2.3 3.2"/>
<line x1="479.80" y1="95.01" x2="510.00" y2="65.50" stroke="#111" stroke-width="1.35" stroke-dasharray="2.3 3.2"/>
<line x1="479.80" y1="80.21" x2="510.00" y2="72.70" stroke="#111" stroke-width="1.35" stroke-dasharray="2.3 3.2"/>
<line x1="479.80" y1="57.20" x2="510.00" y2="74.13" stroke="#111" stroke-width="1.35" stroke-dasharray="2.3 3.2"/>
<line x1="479.80" y1="78.57" x2="510.00" y2="75.57" stroke="#111" stroke-width="1.35" stroke-dasharray="2.3 3.2"/>
<line x1="479.80" y1="98.30" x2="510.00" y2="77.00" stroke="#111" stroke-width="1.35" stroke-dasharray="2.3 3.2"/>
<line x1="479.80" y1="107.90" x2="510.00" y2="78.43" stroke="#111" stroke-width="1.35" stroke-dasharray="2.3 3.2"/>
<line x1="479.80" y1="50.62" x2="510.00" y2="79.87" stroke="#111" stroke-width="1.35" stroke-dasharray="2.3 3.2"/>
<line x1="479.80" y1="73.64" x2="510.00" y2="81.30" stroke="#111" stroke-width="1.35" stroke-dasharray="2.3 3.2"/>
<line x1="479.80" y1="76.93" x2="510.00" y2="82.73" stroke="#111" stroke-width="1.35" stroke-dasharray="2.3 3.2"/>
<line x1="479.80" y1="71.99" x2="510.00" y2="84.17" stroke="#111" stroke-width="1.35" stroke-dasharray="2.3 3.2"/>
<line x1="479.80" y1="58.84" x2="510.00" y2="85.60" stroke="#111" stroke-width="1.35" stroke-dasharray="2.3 3.2"/>
<line x1="479.80" y1="85.15" x2="510.00" y2="87.03" stroke="#111" stroke-width="1.35" stroke-dasharray="2.3 3.2"/>
<line x1="479.80" y1="67.06" x2="510.00" y2="88.47" stroke="#111" stroke-width="1.35" stroke-dasharray="2.3 3.2"/>
<line x1="479.80" y1="52.26" x2="510.00" y2="89.90" stroke="#111" stroke-width="1.35" stroke-dasharray="2.3 3.2"/>
<line x1="479.80" y1="81.86" x2="510.00" y2="91.33" stroke="#111" stroke-width="1.35" stroke-dasharray="2.3 3.2"/>
<line x1="479.80" y1="86.79" x2="510.00" y2="92.77" stroke="#111" stroke-width="1.35" stroke-dasharray="2.3 3.2"/>
<line x1="479.80" y1="65.42" x2="510.00" y2="94.20" stroke="#111" stroke-width="1.35" stroke-dasharray="2.3 3.2"/>
<line x1="479.80" y1="83.50" x2="510.00" y2="95.63" stroke="#111" stroke-width="1.35" stroke-dasharray="2.3 3.2"/>
<line x1="479.80" y1="60.48" x2="510.00" y2="97.07" stroke="#111" stroke-width="1.35" stroke-dasharray="2.3 3.2"/>
<line x1="479.80" y1="102.30" x2="510.00" y2="98.50" stroke="#111" stroke-width="1.35" stroke-dasharray="2.3 3.2"/>
<line x1="479.80" y1="88.44" x2="510.00" y2="99.93" stroke="#111" stroke-width="1.35" stroke-dasharray="2.3 3.2"/>
<line x1="479.80" y1="70.35" x2="510.00" y2="101.37" stroke="#111" stroke-width="1.35" stroke-dasharray="2.3 3.2"/>
<line x1="479.80" y1="93.37" x2="510.00" y2="102.80" stroke="#111" stroke-width="1.35" stroke-dasharray="2.3 3.2"/>
<line x1="479.80" y1="113.50" x2="510.00" y2="104.23" stroke="#111" stroke-width="1.35" stroke-dasharray="2.3 3.2"/>
<line x1="479.80" y1="90.08" x2="510.00" y2="105.67" stroke="#111" stroke-width="1.35" stroke-dasharray="2.3 3.2"/>
<line x1="479.80" y1="68.71" x2="510.00" y2="107.10" stroke="#111" stroke-width="1.35" stroke-dasharray="2.3 3.2"/>
<line x1="479.80" y1="96.66" x2="510.00" y2="110.78" stroke="#111" stroke-width="1.35" stroke-dasharray="2.3 3.2"/>
<line x1="479.80" y1="91.72" x2="510.00" y2="113.50" stroke="#111" stroke-width="1.35" stroke-dasharray="2.3 3.2"/>
<line x1="479.80" y1="75.28" x2="510.00" y2="116.70" stroke="#111" stroke-width="1.35" stroke-dasharray="2.3 3.2"/>
<rect x="475.05" y="43.60" width="4.30" height="3.80" fill="#f63a3b"/>
<rect x="475.05" y="48.72" width="4.30" height="3.80" fill="#f63a3b"/>
<rect x="475.05" y="49.68" width="4.30" height="3.80" fill="#f63a3b"/>
<rect x="475.05" y="50.64" width="4.30" height="3.80" fill="#f63a3b"/>
<rect x="475.05" y="51.60" width="4.30" height="3.80" fill="#f63a3b"/>
<rect x="475.05" y="52.56" width="4.30" height="3.80" fill="#f63a3b"/>
<rect x="475.05" y="53.52" width="4.30" height="3.80" fill="#f63a3b"/>
<rect x="475.05" y="54.48" width="4.30" height="3.80" fill="#f63a3b"/>
<rect x="475.05" y="55.44" width="4.30" height="3.80" fill="#f63a3b"/>
<rect x="475.05" y="56.40" width="4.30" height="3.80" fill="#f63a3b"/>
<rect x="475.05" y="57.36" width="4.30" height="3.80" fill="#f63a3b"/>
<rect x="475.05" y="58.32" width="4.30" height="3.80" fill="#f63a3b"/>
<rect x="475.05" y="59.28" width="4.30" height="3.80" fill="#f63a3b"/>
<rect x="475.05" y="60.24" width="4.30" height="3.80" fill="#f63a3b"/>
<rect x="475.05" y="61.20" width="4.30" height="3.80" fill="#f63a3b"/>
<rect x="475.05" y="62.16" width="4.30" height="3.80" fill="#f63a3b"/>
<rect x="475.05" y="63.12" width="4.30" height="3.80" fill="#f63a3b"/>
<rect x="475.05" y="64.08" width="4.30" height="3.80" fill="#f63a3b"/>
<rect x="475.05" y="65.04" width="4.30" height="3.80" fill="#f63a3b"/>
<rect x="475.05" y="66.00" width="4.30" height="3.80" fill="#f63a3b"/>
<rect x="475.05" y="66.96" width="4.30" height="3.80" fill="#f63a3b"/>
<rect x="475.05" y="67.92" width="4.30" height="3.80" fill="#f63a3b"/>
<rect x="475.05" y="68.88" width="4.30" height="3.80" fill="#f63a3b"/>
<rect x="475.05" y="69.84" width="4.30" height="3.80" fill="#f63a3b"/>
<rect x="475.05" y="70.80" width="4.30" height="3.80" fill="#f63a3b"/>
<rect x="475.05" y="71.76" width="4.30" height="3.80" fill="#f63a3b"/>
<rect x="475.05" y="72.72" width="4.30" height="3.80" fill="#f63a3b"/>
<rect x="475.05" y="73.68" width="4.30" height="3.80" fill="#f63a3b"/>
<rect x="475.05" y="74.64" width="4.30" height="3.80" fill="#f63a3b"/>
<rect x="475.05" y="75.60" width="4.30" height="3.80" fill="#f63a3b"/>
<rect x="475.05" y="76.56" width="4.30" height="3.80" fill="#f63a3b"/>
<rect x="475.05" y="77.52" width="4.30" height="3.80" fill="#f63a3b"/>
<rect x="475.05" y="78.48" width="4.30" height="3.80" fill="#f63a3b"/>
<rect x="475.05" y="79.44" width="4.30" height="3.80" fill="#f63a3b"/>
<rect x="475.05" y="80.40" width="4.30" height="3.80" fill="#f63a3b"/>
<rect x="475.05" y="81.36" width="4.30" height="3.80" fill="#f63a3b"/>
<rect x="475.05" y="82.32" width="4.30" height="3.80" fill="#f63a3b"/>
<rect x="475.05" y="83.28" width="4.30" height="3.80" fill="#f63a3b"/>
<rect x="475.05" y="84.24" width="4.30" height="3.80" fill="#f63a3b"/>
<rect x="475.05" y="85.20" width="4.30" height="3.80" fill="#f63a3b"/>
<rect x="475.05" y="86.16" width="4.30" height="3.80" fill="#f63a3b"/>
<rect x="475.05" y="87.12" width="4.30" height="3.80" fill="#f63a3b"/>
<rect x="475.05" y="88.08" width="4.30" height="3.80" fill="#f63a3b"/>
<rect x="475.05" y="89.04" width="4.30" height="3.80" fill="#f63a3b"/>
<rect x="475.05" y="90.00" width="4.30" height="3.80" fill="#f63a3b"/>
<rect x="475.05" y="90.96" width="4.30" height="3.80" fill="#f63a3b"/>
<rect x="475.05" y="91.92" width="4.30" height="3.80" fill="#f63a3b"/>
<rect x="475.05" y="92.88" width="4.30" height="3.80" fill="#f63a3b"/>
<rect x="475.05" y="93.84" width="4.30" height="3.80" fill="#f63a3b"/>
<rect x="475.05" y="94.80" width="4.30" height="3.80" fill="#f63a3b"/>
<rect x="475.05" y="95.76" width="4.30" height="3.80" fill="#f63a3b"/>
<rect x="475.05" y="100.40" width="4.30" height="3.80" fill="#f63a3b"/>
<rect x="475.05" y="106.00" width="4.30" height="3.80" fill="#f63a3b"/>
<rect x="475.05" y="111.60" width="4.30" height="3.80" fill="#f63a3b"/>
<circle cx="512.00" cy="52.70" r="1.8" fill="#1596b4" stroke="#0e5a6e" stroke-width="0.6"/>
<circle cx="512.00" cy="56.06" r="1.8" fill="#1596b4" stroke="#0e5a6e" stroke-width="0.6"/>
<circle cx="512.00" cy="59.42" r="1.8" fill="#1596b4" stroke="#0e5a6e" stroke-width="0.6"/>
<circle cx="512.00" cy="62.78" r="1.8" fill="#1596b4" stroke="#0e5a6e" stroke-width="0.6"/>
<circle cx="512.00" cy="72.70" r="1.8" fill="#1596b4" stroke="#0e5a6e" stroke-width="0.6"/>
<circle cx="512.00" cy="76.54" r="1.8" fill="#1596b4" stroke="#0e5a6e" stroke-width="0.6"/>
<circle cx="512.00" cy="80.38" r="1.8" fill="#1596b4" stroke="#0e5a6e" stroke-width="0.6"/>
<circle cx="512.00" cy="84.22" r="1.8" fill="#1596b4" stroke="#0e5a6e" stroke-width="0.6"/>
<circle cx="512.00" cy="88.06" r="1.8" fill="#1596b4" stroke="#0e5a6e" stroke-width="0.6"/>
<circle cx="512.00" cy="91.90" r="1.8" fill="#1596b4" stroke="#0e5a6e" stroke-width="0.6"/>
<circle cx="512.00" cy="95.74" r="1.8" fill="#1596b4" stroke="#0e5a6e" stroke-width="0.6"/>
<circle cx="512.00" cy="99.58" r="1.8" fill="#1596b4" stroke="#0e5a6e" stroke-width="0.6"/>
<circle cx="512.00" cy="103.42" r="1.8" fill="#1596b4" stroke="#0e5a6e" stroke-width="0.6"/>
<circle cx="512.00" cy="110.78" r="1.8" fill="#1596b4" stroke="#0e5a6e" stroke-width="0.6"/>
<circle cx="512.00" cy="116.70" r="1.8" fill="#1596b4" stroke="#0e5a6e" stroke-width="0.6"/>
<line x1="477.20" y1="36.30" x2="512.00" y2="36.30" stroke="#555" stroke-width="0.7"/>
<line x1="477.20" y1="35.00" x2="477.20" y2="37.60" stroke="#555" stroke-width="0.7"/>
<line x1="512.00" y1="35.00" x2="512.00" y2="37.60" stroke="#555" stroke-width="0.7"/>
<text x="494.60" y="33.50" font-size="6.6" fill="#231f20" text-anchor="middle" textLength="18.00" lengthAdjust="spacingAndGlyphs">0.032</text>
<text x="421.00" y="172.00" font-size="11" font-weight="bold" fill="#000" stroke="#000" stroke-width="0.25" textLength="6.9" lengthAdjust="spacingAndGlyphs">g</text>
<text x="495.00" y="175.00" font-size="8.5" fill="#231f20" text-anchor="middle">Lung</text>
<line x1="453.00" y1="194.40" x2="453.00" y2="290.40" stroke="#7a7a7a" stroke-width="0.8"/>
<line x1="453.00" y1="290.40" x2="537.40" y2="290.40" stroke="#7a7a7a" stroke-width="0.8"/>
<line x1="449.00" y1="290.40" x2="453.00" y2="290.40" stroke="#7a7a7a" stroke-width="0.8"/>
<text x="445.10" y="293.00" font-size="7.5" fill="#231f20" text-anchor="end">-4</text>
<line x1="449.00" y1="266.40" x2="453.00" y2="266.40" stroke="#7a7a7a" stroke-width="0.8"/>
<text x="445.10" y="269.00" font-size="7.5" fill="#231f20" text-anchor="end">-2</text>
<line x1="449.00" y1="242.40" x2="453.00" y2="242.40" stroke="#7a7a7a" stroke-width="0.8"/>
<text x="445.10" y="245.00" font-size="7.5" fill="#231f20" text-anchor="end">0</text>
<line x1="449.00" y1="218.40" x2="453.00" y2="218.40" stroke="#7a7a7a" stroke-width="0.8"/>
<text x="445.10" y="221.00" font-size="7.5" fill="#231f20" text-anchor="end">2</text>
<line x1="449.00" y1="194.40" x2="453.00" y2="194.40" stroke="#7a7a7a" stroke-width="0.8"/>
<text x="445.10" y="197.00" font-size="7.5" fill="#231f20" text-anchor="end">4</text>
<line x1="450.80" y1="278.40" x2="453.00" y2="278.40" stroke="#7a7a7a" stroke-width="0.7"/>
<line x1="450.80" y1="254.40" x2="453.00" y2="254.40" stroke="#7a7a7a" stroke-width="0.7"/>
<line x1="450.80" y1="230.40" x2="453.00" y2="230.40" stroke="#7a7a7a" stroke-width="0.7"/>
<line x1="450.80" y1="206.40" x2="453.00" y2="206.40" stroke="#7a7a7a" stroke-width="0.7"/>
<line x1="478.40" y1="290.40" x2="478.40" y2="294.00" stroke="#7a7a7a" stroke-width="0.8"/>
<line x1="513.20" y1="290.40" x2="513.20" y2="294.00" stroke="#7a7a7a" stroke-width="0.8"/>
<text x="478.40" y="305.40" font-size="8.2" fill="#231f20" text-anchor="middle" textLength="33.00" lengthAdjust="spacingAndGlyphs">Baseline</text>
<text x="513.20" y="305.40" font-size="8.2" fill="#231f20" text-anchor="middle">CR</text>
<text x="428.90" y="242.40" font-size="8.8" fill="#231f20" text-anchor="middle" textLength="69.00" lengthAdjust="spacingAndGlyphs" transform="rotate(-90 428.90 242.40)">z-scored age gap</text>
<line x1="453.00" y1="242.40" x2="537.40" y2="242.40" stroke="#6a6a6a" stroke-width="0.8"/>
<rect x="467.90" y="240.96" width="10.50" height="1.44" fill="#fff" stroke="#8a8a8a" stroke-width="0.6"/>
<rect x="513.20" y="242.40" width="9.50" height="1.20" fill="#fff" stroke="#8a8a8a" stroke-width="0.6"/>
<line x1="481.00" y1="224.88" x2="511.20" y2="213.00" stroke="#111" stroke-width="1.35" stroke-dasharray="2.3 3.2"/>
<line x1="481.00" y1="240.10" x2="511.20" y2="222.00" stroke="#111" stroke-width="1.35" stroke-dasharray="2.3 3.2"/>
<line x1="481.00" y1="235.03" x2="511.20" y2="225.60" stroke="#111" stroke-width="1.35" stroke-dasharray="2.3 3.2"/>
<line x1="481.00" y1="251.52" x2="511.20" y2="229.20" stroke="#111" stroke-width="1.35" stroke-dasharray="2.3 3.2"/>
<line x1="481.00" y1="222.34" x2="511.20" y2="231.00" stroke="#111" stroke-width="1.35" stroke-dasharray="2.3 3.2"/>
<line x1="481.00" y1="217.27" x2="511.20" y2="232.07" stroke="#111" stroke-width="1.35" stroke-dasharray="2.3 3.2"/>
<line x1="481.00" y1="218.54" x2="511.20" y2="233.15" stroke="#111" stroke-width="1.35" stroke-dasharray="2.3 3.2"/>
<line x1="481.00" y1="243.91" x2="511.20" y2="234.22" stroke="#111" stroke-width="1.35" stroke-dasharray="2.3 3.2"/>
<line x1="481.00" y1="242.64" x2="511.20" y2="235.29" stroke="#111" stroke-width="1.35" stroke-dasharray="2.3 3.2"/>
<line x1="481.00" y1="256.59" x2="511.20" y2="236.36" stroke="#111" stroke-width="1.35" stroke-dasharray="2.3 3.2"/>
<line x1="481.00" y1="241.37" x2="511.20" y2="237.44" stroke="#111" stroke-width="1.35" stroke-dasharray="2.3 3.2"/>
<line x1="481.00" y1="216.00" x2="511.20" y2="238.51" stroke="#111" stroke-width="1.35" stroke-dasharray="2.3 3.2"/>
<line x1="481.00" y1="231.22" x2="511.20" y2="239.58" stroke="#111" stroke-width="1.35" stroke-dasharray="2.3 3.2"/>
<line x1="481.00" y1="206.40" x2="511.20" y2="240.65" stroke="#111" stroke-width="1.35" stroke-dasharray="2.3 3.2"/>
<line x1="481.00" y1="223.61" x2="511.20" y2="241.73" stroke="#111" stroke-width="1.35" stroke-dasharray="2.3 3.2"/>
<line x1="481.00" y1="252.79" x2="511.20" y2="242.80" stroke="#111" stroke-width="1.35" stroke-dasharray="2.3 3.2"/>
<line x1="481.00" y1="247.71" x2="511.20" y2="243.87" stroke="#111" stroke-width="1.35" stroke-dasharray="2.3 3.2"/>
<line x1="481.00" y1="245.18" x2="511.20" y2="244.95" stroke="#111" stroke-width="1.35" stroke-dasharray="2.3 3.2"/>
<line x1="481.00" y1="227.42" x2="511.20" y2="246.02" stroke="#111" stroke-width="1.35" stroke-dasharray="2.3 3.2"/>
<line x1="481.00" y1="248.98" x2="511.20" y2="247.09" stroke="#111" stroke-width="1.35" stroke-dasharray="2.3 3.2"/>
<line x1="481.00" y1="228.69" x2="511.20" y2="248.16" stroke="#111" stroke-width="1.35" stroke-dasharray="2.3 3.2"/>
<line x1="481.00" y1="250.25" x2="511.20" y2="249.24" stroke="#111" stroke-width="1.35" stroke-dasharray="2.3 3.2"/>
<line x1="481.00" y1="219.81" x2="511.20" y2="250.31" stroke="#111" stroke-width="1.35" stroke-dasharray="2.3 3.2"/>
<line x1="481.00" y1="221.07" x2="511.20" y2="251.38" stroke="#111" stroke-width="1.35" stroke-dasharray="2.3 3.2"/>
<line x1="481.00" y1="229.95" x2="511.20" y2="252.45" stroke="#111" stroke-width="1.35" stroke-dasharray="2.3 3.2"/>
<line x1="481.00" y1="260.40" x2="511.20" y2="253.53" stroke="#111" stroke-width="1.35" stroke-dasharray="2.3 3.2"/>
<line x1="481.00" y1="255.33" x2="511.20" y2="254.60" stroke="#111" stroke-width="1.35" stroke-dasharray="2.3 3.2"/>
<line x1="481.00" y1="226.15" x2="511.20" y2="255.67" stroke="#111" stroke-width="1.35" stroke-dasharray="2.3 3.2"/>
<line x1="481.00" y1="257.86" x2="511.20" y2="256.75" stroke="#111" stroke-width="1.35" stroke-dasharray="2.3 3.2"/>
<line x1="481.00" y1="259.13" x2="511.20" y2="257.82" stroke="#111" stroke-width="1.35" stroke-dasharray="2.3 3.2"/>
<line x1="481.00" y1="266.40" x2="511.20" y2="258.89" stroke="#111" stroke-width="1.35" stroke-dasharray="2.3 3.2"/>
<line x1="481.00" y1="254.06" x2="511.20" y2="259.96" stroke="#111" stroke-width="1.35" stroke-dasharray="2.3 3.2"/>
<line x1="481.00" y1="237.57" x2="511.20" y2="261.04" stroke="#111" stroke-width="1.35" stroke-dasharray="2.3 3.2"/>
<line x1="481.00" y1="233.76" x2="511.20" y2="262.11" stroke="#111" stroke-width="1.35" stroke-dasharray="2.3 3.2"/>
<line x1="481.00" y1="238.83" x2="511.20" y2="263.18" stroke="#111" stroke-width="1.35" stroke-dasharray="2.3 3.2"/>
<line x1="481.00" y1="246.45" x2="511.20" y2="264.25" stroke="#111" stroke-width="1.35" stroke-dasharray="2.3 3.2"/>
<line x1="481.00" y1="232.49" x2="511.20" y2="265.33" stroke="#111" stroke-width="1.35" stroke-dasharray="2.3 3.2"/>
<line x1="481.00" y1="236.30" x2="511.20" y2="266.40" stroke="#111" stroke-width="1.35" stroke-dasharray="2.3 3.2"/>
<rect x="476.25" y="204.50" width="4.30" height="3.80" fill="#f63a3b"/>
<rect x="476.25" y="214.10" width="4.30" height="3.80" fill="#f63a3b"/>
<rect x="476.25" y="214.82" width="4.30" height="3.80" fill="#f63a3b"/>
<rect x="476.25" y="215.54" width="4.30" height="3.80" fill="#f63a3b"/>
<rect x="476.25" y="216.26" width="4.30" height="3.80" fill="#f63a3b"/>
<rect x="476.25" y="216.98" width="4.30" height="3.80" fill="#f63a3b"/>
<rect x="476.25" y="217.70" width="4.30" height="3.80" fill="#f63a3b"/>
<rect x="476.25" y="218.42" width="4.30" height="3.80" fill="#f63a3b"/>
<rect x="476.25" y="219.14" width="4.30" height="3.80" fill="#f63a3b"/>
<rect x="476.25" y="219.86" width="4.30" height="3.80" fill="#f63a3b"/>
<rect x="476.25" y="220.58" width="4.30" height="3.80" fill="#f63a3b"/>
<rect x="476.25" y="221.30" width="4.30" height="3.80" fill="#f63a3b"/>
<rect x="476.25" y="222.02" width="4.30" height="3.80" fill="#f63a3b"/>
<rect x="476.25" y="222.74" width="4.30" height="3.80" fill="#f63a3b"/>
<rect x="476.25" y="223.46" width="4.30" height="3.80" fill="#f63a3b"/>
<rect x="476.25" y="224.18" width="4.30" height="3.80" fill="#f63a3b"/>
<rect x="476.25" y="224.90" width="4.30" height="3.80" fill="#f63a3b"/>
<rect x="476.25" y="225.62" width="4.30" height="3.80" fill="#f63a3b"/>
<rect x="476.25" y="226.34" width="4.30" height="3.80" fill="#f63a3b"/>
<rect x="476.25" y="227.06" width="4.30" height="3.80" fill="#f63a3b"/>
<rect x="476.25" y="227.78" width="4.30" height="3.80" fill="#f63a3b"/>
<rect x="476.25" y="228.50" width="4.30" height="3.80" fill="#f63a3b"/>
<rect x="476.25" y="229.22" width="4.30" height="3.80" fill="#f63a3b"/>
<rect x="476.25" y="229.94" width="4.30" height="3.80" fill="#f63a3b"/>
<rect x="476.25" y="230.66" width="4.30" height="3.80" fill="#f63a3b"/>
<rect x="476.25" y="231.38" width="4.30" height="3.80" fill="#f63a3b"/>
<rect x="476.25" y="232.10" width="4.30" height="3.80" fill="#f63a3b"/>
<rect x="476.25" y="232.82" width="4.30" height="3.80" fill="#f63a3b"/>
<rect x="476.25" y="233.54" width="4.30" height="3.80" fill="#f63a3b"/>
<rect x="476.25" y="234.26" width="4.30" height="3.80" fill="#f63a3b"/>
<rect x="476.25" y="234.98" width="4.30" height="3.80" fill="#f63a3b"/>
<rect x="476.25" y="235.70" width="4.30" height="3.80" fill="#f63a3b"/>
<rect x="476.25" y="236.42" width="4.30" height="3.80" fill="#f63a3b"/>
<rect x="476.25" y="237.14" width="4.30" height="3.80" fill="#f63a3b"/>
<rect x="476.25" y="237.86" width="4.30" height="3.80" fill="#f63a3b"/>
<rect x="476.25" y="238.58" width="4.30" height="3.80" fill="#f63a3b"/>
<rect x="476.25" y="239.30" width="4.30" height="3.80" fill="#f63a3b"/>
<rect x="476.25" y="240.02" width="4.30" height="3.80" fill="#f63a3b"/>
<rect x="476.25" y="240.74" width="4.30" height="3.80" fill="#f63a3b"/>
<rect x="476.25" y="241.46" width="4.30" height="3.80" fill="#f63a3b"/>
<rect x="476.25" y="242.18" width="4.30" height="3.80" fill="#f63a3b"/>
<rect x="476.25" y="242.90" width="4.30" height="3.80" fill="#f63a3b"/>
<rect x="476.25" y="243.62" width="4.30" height="3.80" fill="#f63a3b"/>
<rect x="476.25" y="244.34" width="4.30" height="3.80" fill="#f63a3b"/>
<rect x="476.25" y="245.06" width="4.30" height="3.80" fill="#f63a3b"/>
<rect x="476.25" y="245.78" width="4.30" height="3.80" fill="#f63a3b"/>
<rect x="476.25" y="246.50" width="4.30" height="3.80" fill="#f63a3b"/>
<rect x="476.25" y="247.22" width="4.30" height="3.80" fill="#f63a3b"/>
<rect x="476.25" y="247.94" width="4.30" height="3.80" fill="#f63a3b"/>
<rect x="476.25" y="248.66" width="4.30" height="3.80" fill="#f63a3b"/>
<rect x="476.25" y="249.38" width="4.30" height="3.80" fill="#f63a3b"/>
<rect x="476.25" y="250.10" width="4.30" height="3.80" fill="#f63a3b"/>
<rect x="476.25" y="250.82" width="4.30" height="3.80" fill="#f63a3b"/>
<rect x="476.25" y="251.54" width="4.30" height="3.80" fill="#f63a3b"/>
<rect x="476.25" y="252.26" width="4.30" height="3.80" fill="#f63a3b"/>
<rect x="476.25" y="252.98" width="4.30" height="3.80" fill="#f63a3b"/>
<rect x="476.25" y="253.70" width="4.30" height="3.80" fill="#f63a3b"/>
<rect x="476.25" y="254.42" width="4.30" height="3.80" fill="#f63a3b"/>
<rect x="476.25" y="255.14" width="4.30" height="3.80" fill="#f63a3b"/>
<rect x="476.25" y="255.86" width="4.30" height="3.80" fill="#f63a3b"/>
<rect x="476.25" y="256.58" width="4.30" height="3.80" fill="#f63a3b"/>
<rect x="476.25" y="257.30" width="4.30" height="3.80" fill="#f63a3b"/>
<rect x="476.25" y="258.02" width="4.30" height="3.80" fill="#f63a3b"/>
<rect x="476.25" y="264.50" width="4.30" height="3.80" fill="#f63a3b"/>
<circle cx="513.20" cy="213.00" r="1.8" fill="#1596b4" stroke="#0e5a6e" stroke-width="0.6"/>
<circle cx="513.20" cy="222.00" r="1.8" fill="#1596b4" stroke="#0e5a6e" stroke-width="0.6"/>
<circle cx="513.20" cy="225.60" r="1.8" fill="#1596b4" stroke="#0e5a6e" stroke-width="0.6"/>
<circle cx="513.20" cy="229.20" r="1.8" fill="#1596b4" stroke="#0e5a6e" stroke-width="0.6"/>
<circle cx="513.20" cy="232.44" r="1.8" fill="#1596b4" stroke="#0e5a6e" stroke-width="0.6"/>
<circle cx="513.20" cy="236.04" r="1.8" fill="#1596b4" stroke="#0e5a6e" stroke-width="0.6"/>
<circle cx="513.20" cy="239.64" r="1.8" fill="#1596b4" stroke="#0e5a6e" stroke-width="0.6"/>
<circle cx="513.20" cy="243.24" r="1.8" fill="#1596b4" stroke="#0e5a6e" stroke-width="0.6"/>
<circle cx="513.20" cy="246.84" r="1.8" fill="#1596b4" stroke="#0e5a6e" stroke-width="0.6"/>
<circle cx="513.20" cy="250.44" r="1.8" fill="#1596b4" stroke="#0e5a6e" stroke-width="0.6"/>
<circle cx="513.20" cy="254.04" r="1.8" fill="#1596b4" stroke="#0e5a6e" stroke-width="0.6"/>
<circle cx="513.20" cy="257.64" r="1.8" fill="#1596b4" stroke="#0e5a6e" stroke-width="0.6"/>
<circle cx="513.20" cy="261.24" r="1.8" fill="#1596b4" stroke="#0e5a6e" stroke-width="0.6"/>
<circle cx="513.20" cy="264.84" r="1.8" fill="#1596b4" stroke="#0e5a6e" stroke-width="0.6"/>
<line x1="478.40" y1="195.10" x2="513.20" y2="195.10" stroke="#555" stroke-width="0.7"/>
<line x1="478.40" y1="193.80" x2="478.40" y2="196.40" stroke="#555" stroke-width="0.7"/>
<line x1="513.20" y1="193.80" x2="513.20" y2="196.40" stroke="#555" stroke-width="0.7"/>
<text x="495.80" y="191.80" font-size="6.6" fill="#231f20" text-anchor="middle" textLength="18.00" lengthAdjust="spacingAndGlyphs">0.102</text>
<text x="421.00" y="334.50" font-size="11" font-weight="bold" fill="#000" stroke="#000" stroke-width="0.25" textLength="7.6" lengthAdjust="spacingAndGlyphs">h</text>
<text x="495.70" y="337.40" font-size="8.5" fill="#231f20" text-anchor="middle">Pancreas</text>
<line x1="453.00" y1="352.70" x2="453.00" y2="449.00" stroke="#7a7a7a" stroke-width="0.8"/>
<line x1="453.00" y1="449.00" x2="537.40" y2="449.00" stroke="#7a7a7a" stroke-width="0.8"/>
<line x1="449.00" y1="449.00" x2="453.00" y2="449.00" stroke="#7a7a7a" stroke-width="0.8"/>
<text x="445.10" y="451.60" font-size="7.5" fill="#231f20" text-anchor="end">-4</text>
<line x1="449.00" y1="424.93" x2="453.00" y2="424.93" stroke="#7a7a7a" stroke-width="0.8"/>
<text x="445.10" y="427.53" font-size="7.5" fill="#231f20" text-anchor="end">-2</text>
<line x1="449.00" y1="400.85" x2="453.00" y2="400.85" stroke="#7a7a7a" stroke-width="0.8"/>
<text x="445.10" y="403.45" font-size="7.5" fill="#231f20" text-anchor="end">0</text>
<line x1="449.00" y1="376.77" x2="453.00" y2="376.77" stroke="#7a7a7a" stroke-width="0.8"/>
<text x="445.10" y="379.38" font-size="7.5" fill="#231f20" text-anchor="end">2</text>
<line x1="449.00" y1="352.70" x2="453.00" y2="352.70" stroke="#7a7a7a" stroke-width="0.8"/>
<text x="445.10" y="355.30" font-size="7.5" fill="#231f20" text-anchor="end">4</text>
<line x1="450.80" y1="436.96" x2="453.00" y2="436.96" stroke="#7a7a7a" stroke-width="0.7"/>
<line x1="450.80" y1="412.89" x2="453.00" y2="412.89" stroke="#7a7a7a" stroke-width="0.7"/>
<line x1="450.80" y1="388.81" x2="453.00" y2="388.81" stroke="#7a7a7a" stroke-width="0.7"/>
<line x1="450.80" y1="364.74" x2="453.00" y2="364.74" stroke="#7a7a7a" stroke-width="0.7"/>
<line x1="478.40" y1="449.00" x2="478.40" y2="452.60" stroke="#7a7a7a" stroke-width="0.8"/>
<line x1="513.20" y1="449.00" x2="513.20" y2="452.60" stroke="#7a7a7a" stroke-width="0.8"/>
<text x="478.40" y="464.50" font-size="8.2" fill="#231f20" text-anchor="middle" textLength="33.00" lengthAdjust="spacingAndGlyphs">Baseline</text>
<text x="513.20" y="464.50" font-size="8.2" fill="#231f20" text-anchor="middle">CR</text>
<text x="428.90" y="400.85" font-size="8.8" fill="#231f20" text-anchor="middle" textLength="69.00" lengthAdjust="spacingAndGlyphs" transform="rotate(-90 428.90 400.85)">z-scored age gap</text>
<line x1="453.00" y1="400.85" x2="537.40" y2="400.85" stroke="#6a6a6a" stroke-width="0.8"/>
<rect x="467.90" y="400.85" width="10.50" height="0.96" fill="#fff" stroke="#8a8a8a" stroke-width="0.6"/>
<rect x="513.20" y="400.01" width="9.50" height="0.84" fill="#fff" stroke="#8a8a8a" stroke-width="0.6"/>
<line x1="481.00" y1="388.32" x2="511.20" y2="370.76" stroke="#111" stroke-width="1.35" stroke-dasharray="2.3 3.2"/>
<line x1="481.00" y1="371.96" x2="511.20" y2="376.77" stroke="#111" stroke-width="1.35" stroke-dasharray="2.3 3.2"/>
<line x1="481.00" y1="387.01" x2="511.20" y2="377.98" stroke="#111" stroke-width="1.35" stroke-dasharray="2.3 3.2"/>
<line x1="481.00" y1="379.18" x2="511.20" y2="387.61" stroke="#111" stroke-width="1.35" stroke-dasharray="2.3 3.2"/>
<line x1="481.00" y1="389.62" x2="511.20" y2="388.92" stroke="#111" stroke-width="1.35" stroke-dasharray="2.3 3.2"/>
<line x1="481.00" y1="390.93" x2="511.20" y2="390.24" stroke="#111" stroke-width="1.35" stroke-dasharray="2.3 3.2"/>
<line x1="481.00" y1="392.24" x2="511.20" y2="391.55" stroke="#111" stroke-width="1.35" stroke-dasharray="2.3 3.2"/>
<line x1="481.00" y1="394.86" x2="511.20" y2="392.86" stroke="#111" stroke-width="1.35" stroke-dasharray="2.3 3.2"/>
<line x1="481.00" y1="393.55" x2="511.20" y2="394.17" stroke="#111" stroke-width="1.35" stroke-dasharray="2.3 3.2"/>
<line x1="481.00" y1="396.17" x2="511.20" y2="395.49" stroke="#111" stroke-width="1.35" stroke-dasharray="2.3 3.2"/>
<line x1="481.00" y1="397.47" x2="511.20" y2="396.80" stroke="#111" stroke-width="1.35" stroke-dasharray="2.3 3.2"/>
<line x1="481.00" y1="398.78" x2="511.20" y2="398.11" stroke="#111" stroke-width="1.35" stroke-dasharray="2.3 3.2"/>
<line x1="481.00" y1="400.09" x2="511.20" y2="399.43" stroke="#111" stroke-width="1.35" stroke-dasharray="2.3 3.2"/>
<line x1="481.00" y1="404.02" x2="511.20" y2="400.74" stroke="#111" stroke-width="1.35" stroke-dasharray="2.3 3.2"/>
<line x1="481.00" y1="401.40" x2="511.20" y2="402.05" stroke="#111" stroke-width="1.35" stroke-dasharray="2.3 3.2"/>
<line x1="481.00" y1="402.71" x2="511.20" y2="403.37" stroke="#111" stroke-width="1.35" stroke-dasharray="2.3 3.2"/>
<line x1="481.00" y1="406.63" x2="511.20" y2="404.68" stroke="#111" stroke-width="1.35" stroke-dasharray="2.3 3.2"/>
<line x1="481.00" y1="405.32" x2="511.20" y2="405.99" stroke="#111" stroke-width="1.35" stroke-dasharray="2.3 3.2"/>
<line x1="481.00" y1="411.87" x2="511.20" y2="407.31" stroke="#111" stroke-width="1.35" stroke-dasharray="2.3 3.2"/>
<line x1="481.00" y1="407.94" x2="511.20" y2="408.62" stroke="#111" stroke-width="1.35" stroke-dasharray="2.3 3.2"/>
<line x1="481.00" y1="414.48" x2="511.20" y2="409.93" stroke="#111" stroke-width="1.35" stroke-dasharray="2.3 3.2"/>
<line x1="481.00" y1="410.56" x2="511.20" y2="411.25" stroke="#111" stroke-width="1.35" stroke-dasharray="2.3 3.2"/>
<line x1="481.00" y1="409.25" x2="511.20" y2="412.56" stroke="#111" stroke-width="1.35" stroke-dasharray="2.3 3.2"/>
<line x1="481.00" y1="413.18" x2="511.20" y2="413.87" stroke="#111" stroke-width="1.35" stroke-dasharray="2.3 3.2"/>
<line x1="481.00" y1="417.10" x2="511.20" y2="415.19" stroke="#111" stroke-width="1.35" stroke-dasharray="2.3 3.2"/>
<line x1="481.00" y1="433.35" x2="511.20" y2="416.50" stroke="#111" stroke-width="1.35" stroke-dasharray="2.3 3.2"/>
<line x1="481.00" y1="422.52" x2="511.20" y2="422.52" stroke="#111" stroke-width="1.35" stroke-dasharray="2.3 3.2"/>
<line x1="481.00" y1="415.79" x2="511.20" y2="424.32" stroke="#111" stroke-width="1.35" stroke-dasharray="2.3 3.2"/>
<line x1="481.00" y1="425.53" x2="511.20" y2="427.33" stroke="#111" stroke-width="1.35" stroke-dasharray="2.3 3.2"/>
<rect x="476.25" y="370.06" width="4.30" height="3.80" fill="#f63a3b"/>
<rect x="476.25" y="377.28" width="4.30" height="3.80" fill="#f63a3b"/>
<rect x="476.25" y="384.50" width="4.30" height="3.80" fill="#f63a3b"/>
<rect x="476.25" y="385.11" width="4.30" height="3.80" fill="#f63a3b"/>
<rect x="476.25" y="385.71" width="4.30" height="3.80" fill="#f63a3b"/>
<rect x="476.25" y="386.31" width="4.30" height="3.80" fill="#f63a3b"/>
<rect x="476.25" y="386.91" width="4.30" height="3.80" fill="#f63a3b"/>
<rect x="476.25" y="387.51" width="4.30" height="3.80" fill="#f63a3b"/>
<rect x="476.25" y="388.12" width="4.30" height="3.80" fill="#f63a3b"/>
<rect x="476.25" y="388.72" width="4.30" height="3.80" fill="#f63a3b"/>
<rect x="476.25" y="389.32" width="4.30" height="3.80" fill="#f63a3b"/>
<rect x="476.25" y="389.92" width="4.30" height="3.80" fill="#f63a3b"/>
<rect x="476.25" y="390.52" width="4.30" height="3.80" fill="#f63a3b"/>
<rect x="476.25" y="391.13" width="4.30" height="3.80" fill="#f63a3b"/>
<rect x="476.25" y="391.73" width="4.30" height="3.80" fill="#f63a3b"/>
<rect x="476.25" y="392.33" width="4.30" height="3.80" fill="#f63a3b"/>
<rect x="476.25" y="392.93" width="4.30" height="3.80" fill="#f63a3b"/>
<rect x="476.25" y="393.53" width="4.30" height="3.80" fill="#f63a3b"/>
<rect x="476.25" y="394.14" width="4.30" height="3.80" fill="#f63a3b"/>
<rect x="476.25" y="394.74" width="4.30" height="3.80" fill="#f63a3b"/>
<rect x="476.25" y="395.34" width="4.30" height="3.80" fill="#f63a3b"/>
<rect x="476.25" y="395.94" width="4.30" height="3.80" fill="#f63a3b"/>
<rect x="476.25" y="396.54" width="4.30" height="3.80" fill="#f63a3b"/>
<rect x="476.25" y="397.14" width="4.30" height="3.80" fill="#f63a3b"/>
<rect x="476.25" y="397.75" width="4.30" height="3.80" fill="#f63a3b"/>
<rect x="476.25" y="398.35" width="4.30" height="3.80" fill="#f63a3b"/>
<rect x="476.25" y="398.95" width="4.30" height="3.80" fill="#f63a3b"/>
<rect x="476.25" y="399.55" width="4.30" height="3.80" fill="#f63a3b"/>
<rect x="476.25" y="400.15" width="4.30" height="3.80" fill="#f63a3b"/>
<rect x="476.25" y="400.76" width="4.30" height="3.80" fill="#f63a3b"/>
<rect x="476.25" y="401.36" width="4.30" height="3.80" fill="#f63a3b"/>
<rect x="476.25" y="401.96" width="4.30" height="3.80" fill="#f63a3b"/>
<rect x="476.25" y="402.56" width="4.30" height="3.80" fill="#f63a3b"/>
<rect x="476.25" y="403.16" width="4.30" height="3.80" fill="#f63a3b"/>
<rect x="476.25" y="403.77" width="4.30" height="3.80" fill="#f63a3b"/>
<rect x="476.25" y="404.37" width="4.30" height="3.80" fill="#f63a3b"/>
<rect x="476.25" y="404.97" width="4.30" height="3.80" fill="#f63a3b"/>
<rect x="476.25" y="405.57" width="4.30" height="3.80" fill="#f63a3b"/>
<rect x="476.25" y="406.17" width="4.30" height="3.80" fill="#f63a3b"/>
<rect x="476.25" y="406.77" width="4.30" height="3.80" fill="#f63a3b"/>
<rect x="476.25" y="407.38" width="4.30" height="3.80" fill="#f63a3b"/>
<rect x="476.25" y="407.98" width="4.30" height="3.80" fill="#f63a3b"/>
<rect x="476.25" y="408.58" width="4.30" height="3.80" fill="#f63a3b"/>
<rect x="476.25" y="409.18" width="4.30" height="3.80" fill="#f63a3b"/>
<rect x="476.25" y="409.78" width="4.30" height="3.80" fill="#f63a3b"/>
<rect x="476.25" y="410.39" width="4.30" height="3.80" fill="#f63a3b"/>
<rect x="476.25" y="410.99" width="4.30" height="3.80" fill="#f63a3b"/>
<rect x="476.25" y="411.59" width="4.30" height="3.80" fill="#f63a3b"/>
<rect x="476.25" y="412.19" width="4.30" height="3.80" fill="#f63a3b"/>
<rect x="476.25" y="420.62" width="4.30" height="3.80" fill="#f63a3b"/>
<rect x="476.25" y="424.23" width="4.30" height="3.80" fill="#f63a3b"/>
<rect x="476.25" y="431.45" width="4.30" height="3.80" fill="#f63a3b"/>
<circle cx="513.20" cy="370.76" r="1.8" fill="#1596b4" stroke="#0e5a6e" stroke-width="0.6"/>
<circle cx="513.20" cy="375.57" r="1.8" fill="#1596b4" stroke="#0e5a6e" stroke-width="0.6"/>
<circle cx="513.20" cy="387.61" r="1.8" fill="#1596b4" stroke="#0e5a6e" stroke-width="0.6"/>
<circle cx="513.20" cy="391.22" r="1.8" fill="#1596b4" stroke="#0e5a6e" stroke-width="0.6"/>
<circle cx="513.20" cy="394.83" r="1.8" fill="#1596b4" stroke="#0e5a6e" stroke-width="0.6"/>
<circle cx="513.20" cy="398.44" r="1.8" fill="#1596b4" stroke="#0e5a6e" stroke-width="0.6"/>
<circle cx="513.20" cy="402.05" r="1.8" fill="#1596b4" stroke="#0e5a6e" stroke-width="0.6"/>
<circle cx="513.20" cy="405.67" r="1.8" fill="#1596b4" stroke="#0e5a6e" stroke-width="0.6"/>
<circle cx="513.20" cy="409.28" r="1.8" fill="#1596b4" stroke="#0e5a6e" stroke-width="0.6"/>
<circle cx="513.20" cy="412.89" r="1.8" fill="#1596b4" stroke="#0e5a6e" stroke-width="0.6"/>
<circle cx="513.20" cy="416.50" r="1.8" fill="#1596b4" stroke="#0e5a6e" stroke-width="0.6"/>
<circle cx="513.20" cy="422.52" r="1.8" fill="#1596b4" stroke="#0e5a6e" stroke-width="0.6"/>
<circle cx="513.20" cy="427.33" r="1.8" fill="#1596b4" stroke="#0e5a6e" stroke-width="0.6"/>
<line x1="478.40" y1="360.00" x2="513.20" y2="360.00" stroke="#555" stroke-width="0.7"/>
<line x1="478.40" y1="358.70" x2="478.40" y2="361.30" stroke="#555" stroke-width="0.7"/>
<line x1="513.20" y1="358.70" x2="513.20" y2="361.30" stroke="#555" stroke-width="0.7"/>
<text x="495.80" y="357.20" font-size="6.6" fill="#231f20" text-anchor="middle" textLength="18.00" lengthAdjust="spacingAndGlyphs">0.036</text>
<text x="420.50" y="492.50" font-size="11" font-weight="bold" fill="#000" stroke="#000" stroke-width="0.25" textLength="2.7" lengthAdjust="spacingAndGlyphs">i</text>
<text x="495.10" y="496.60" font-size="8.5" fill="#231f20" text-anchor="middle">Intestine</text>
<line x1="453.20" y1="515.20" x2="453.20" y2="612.10" stroke="#7a7a7a" stroke-width="0.8"/>
<line x1="453.20" y1="612.10" x2="536.50" y2="612.10" stroke="#7a7a7a" stroke-width="0.8"/>
<line x1="449.20" y1="612.10" x2="453.20" y2="612.10" stroke="#7a7a7a" stroke-width="0.8"/>
<text x="445.30" y="614.70" font-size="7.5" fill="#231f20" text-anchor="end">-3</text>
<line x1="449.20" y1="595.95" x2="453.20" y2="595.95" stroke="#7a7a7a" stroke-width="0.8"/>
<text x="445.30" y="598.55" font-size="7.5" fill="#231f20" text-anchor="end">-2</text>
<line x1="449.20" y1="579.80" x2="453.20" y2="579.80" stroke="#7a7a7a" stroke-width="0.8"/>
<text x="445.30" y="582.40" font-size="7.5" fill="#231f20" text-anchor="end">-1</text>
<line x1="449.20" y1="563.65" x2="453.20" y2="563.65" stroke="#7a7a7a" stroke-width="0.8"/>
<text x="445.30" y="566.25" font-size="7.5" fill="#231f20" text-anchor="end">0</text>
<line x1="449.20" y1="547.50" x2="453.20" y2="547.50" stroke="#7a7a7a" stroke-width="0.8"/>
<text x="445.30" y="550.10" font-size="7.5" fill="#231f20" text-anchor="end">1</text>
<line x1="449.20" y1="531.35" x2="453.20" y2="531.35" stroke="#7a7a7a" stroke-width="0.8"/>
<text x="445.30" y="533.95" font-size="7.5" fill="#231f20" text-anchor="end">2</text>
<line x1="449.20" y1="515.20" x2="453.20" y2="515.20" stroke="#7a7a7a" stroke-width="0.8"/>
<text x="445.30" y="517.80" font-size="7.5" fill="#231f20" text-anchor="end">3</text>
<line x1="451.00" y1="604.02" x2="453.20" y2="604.02" stroke="#7a7a7a" stroke-width="0.7"/>
<line x1="451.00" y1="587.88" x2="453.20" y2="587.88" stroke="#7a7a7a" stroke-width="0.7"/>
<line x1="451.00" y1="571.73" x2="453.20" y2="571.73" stroke="#7a7a7a" stroke-width="0.7"/>
<line x1="451.00" y1="555.58" x2="453.20" y2="555.58" stroke="#7a7a7a" stroke-width="0.7"/>
<line x1="451.00" y1="539.43" x2="453.20" y2="539.43" stroke="#7a7a7a" stroke-width="0.7"/>
<line x1="451.00" y1="523.28" x2="453.20" y2="523.28" stroke="#7a7a7a" stroke-width="0.7"/>
<line x1="477.00" y1="612.10" x2="477.00" y2="615.70" stroke="#7a7a7a" stroke-width="0.8"/>
<line x1="512.10" y1="612.10" x2="512.10" y2="615.70" stroke="#7a7a7a" stroke-width="0.8"/>
<text x="477.00" y="627.00" font-size="8.2" fill="#231f20" text-anchor="middle" textLength="33.00" lengthAdjust="spacingAndGlyphs">Baseline</text>
<text x="512.10" y="627.00" font-size="8.2" fill="#231f20" text-anchor="middle">CR</text>
<text x="429.10" y="563.65" font-size="8.8" fill="#231f20" text-anchor="middle" textLength="69.00" lengthAdjust="spacingAndGlyphs" transform="rotate(-90 429.10 563.65)">z-scored age gap</text>
<line x1="453.20" y1="563.65" x2="536.50" y2="563.65" stroke="#6a6a6a" stroke-width="0.8"/>
<rect x="466.50" y="563.65" width="10.50" height="2.42" fill="#fff" stroke="#8a8a8a" stroke-width="0.6"/>
<rect x="512.10" y="561.23" width="9.50" height="2.42" fill="#fff" stroke="#8a8a8a" stroke-width="0.6"/>
<line x1="479.60" y1="535.23" x2="510.10" y2="530.54" stroke="#111" stroke-width="1.35" stroke-dasharray="2.3 3.2"/>
<line x1="479.60" y1="533.40" x2="510.10" y2="532.12" stroke="#111" stroke-width="1.35" stroke-dasharray="2.3 3.2"/>
<line x1="479.60" y1="542.57" x2="510.10" y2="533.69" stroke="#111" stroke-width="1.35" stroke-dasharray="2.3 3.2"/>
<line x1="479.60" y1="548.07" x2="510.10" y2="535.26" stroke="#111" stroke-width="1.35" stroke-dasharray="2.3 3.2"/>
<line x1="479.60" y1="566.40" x2="510.10" y2="536.83" stroke="#111" stroke-width="1.35" stroke-dasharray="2.3 3.2"/>
<line x1="479.60" y1="588.40" x2="510.10" y2="538.41" stroke="#111" stroke-width="1.35" stroke-dasharray="2.3 3.2"/>
<line x1="479.60" y1="544.40" x2="510.10" y2="539.98" stroke="#111" stroke-width="1.35" stroke-dasharray="2.3 3.2"/>
<line x1="479.60" y1="590.23" x2="510.10" y2="541.55" stroke="#111" stroke-width="1.35" stroke-dasharray="2.3 3.2"/>
<line x1="479.60" y1="557.23" x2="510.10" y2="543.12" stroke="#111" stroke-width="1.35" stroke-dasharray="2.3 3.2"/>
<line x1="479.60" y1="537.07" x2="510.10" y2="544.70" stroke="#111" stroke-width="1.35" stroke-dasharray="2.3 3.2"/>
<line x1="479.60" y1="540.73" x2="510.10" y2="546.27" stroke="#111" stroke-width="1.35" stroke-dasharray="2.3 3.2"/>
<line x1="479.60" y1="595.73" x2="510.10" y2="547.84" stroke="#111" stroke-width="1.35" stroke-dasharray="2.3 3.2"/>
<line x1="479.60" y1="562.73" x2="510.10" y2="549.41" stroke="#111" stroke-width="1.35" stroke-dasharray="2.3 3.2"/>
<line x1="479.60" y1="564.57" x2="510.10" y2="550.99" stroke="#111" stroke-width="1.35" stroke-dasharray="2.3 3.2"/>
<line x1="479.60" y1="568.23" x2="510.10" y2="552.56" stroke="#111" stroke-width="1.35" stroke-dasharray="2.3 3.2"/>
<line x1="479.60" y1="559.07" x2="510.10" y2="554.13" stroke="#111" stroke-width="1.35" stroke-dasharray="2.3 3.2"/>
<line x1="479.60" y1="597.57" x2="510.10" y2="555.70" stroke="#111" stroke-width="1.35" stroke-dasharray="2.3 3.2"/>
<line x1="479.60" y1="593.90" x2="510.10" y2="557.28" stroke="#111" stroke-width="1.35" stroke-dasharray="2.3 3.2"/>
<line x1="479.60" y1="538.90" x2="510.10" y2="558.85" stroke="#111" stroke-width="1.35" stroke-dasharray="2.3 3.2"/>
<line x1="479.60" y1="553.57" x2="510.10" y2="560.42" stroke="#111" stroke-width="1.35" stroke-dasharray="2.3 3.2"/>
<line x1="479.60" y1="551.73" x2="510.10" y2="561.99" stroke="#111" stroke-width="1.35" stroke-dasharray="2.3 3.2"/>
<line x1="479.60" y1="582.90" x2="510.10" y2="563.57" stroke="#111" stroke-width="1.35" stroke-dasharray="2.3 3.2"/>
<line x1="479.60" y1="531.57" x2="510.10" y2="565.14" stroke="#111" stroke-width="1.35" stroke-dasharray="2.3 3.2"/>
<line x1="479.60" y1="592.07" x2="510.10" y2="566.71" stroke="#111" stroke-width="1.35" stroke-dasharray="2.3 3.2"/>
<line x1="479.60" y1="586.57" x2="510.10" y2="568.28" stroke="#111" stroke-width="1.35" stroke-dasharray="2.3 3.2"/>
<line x1="479.60" y1="529.74" x2="510.10" y2="569.86" stroke="#111" stroke-width="1.35" stroke-dasharray="2.3 3.2"/>
<line x1="479.60" y1="555.40" x2="510.10" y2="571.43" stroke="#111" stroke-width="1.35" stroke-dasharray="2.3 3.2"/>
<line x1="479.60" y1="579.23" x2="510.10" y2="573.00" stroke="#111" stroke-width="1.35" stroke-dasharray="2.3 3.2"/>
<line x1="479.60" y1="549.90" x2="510.10" y2="574.57" stroke="#111" stroke-width="1.35" stroke-dasharray="2.3 3.2"/>
<line x1="479.60" y1="573.73" x2="510.10" y2="576.14" stroke="#111" stroke-width="1.35" stroke-dasharray="2.3 3.2"/>
<line x1="479.60" y1="570.07" x2="510.10" y2="577.72" stroke="#111" stroke-width="1.35" stroke-dasharray="2.3 3.2"/>
<line x1="479.60" y1="577.40" x2="510.10" y2="579.29" stroke="#111" stroke-width="1.35" stroke-dasharray="2.3 3.2"/>
<line x1="479.60" y1="575.57" x2="510.10" y2="580.86" stroke="#111" stroke-width="1.35" stroke-dasharray="2.3 3.2"/>
<line x1="479.60" y1="605.64" x2="510.10" y2="582.44" stroke="#111" stroke-width="1.35" stroke-dasharray="2.3 3.2"/>
<line x1="479.60" y1="546.23" x2="510.10" y2="584.01" stroke="#111" stroke-width="1.35" stroke-dasharray="2.3 3.2"/>
<line x1="479.60" y1="581.07" x2="510.10" y2="585.58" stroke="#111" stroke-width="1.35" stroke-dasharray="2.3 3.2"/>
<line x1="479.60" y1="571.90" x2="510.10" y2="587.15" stroke="#111" stroke-width="1.35" stroke-dasharray="2.3 3.2"/>
<line x1="479.60" y1="584.73" x2="510.10" y2="588.73" stroke="#111" stroke-width="1.35" stroke-dasharray="2.3 3.2"/>
<line x1="479.60" y1="560.90" x2="510.10" y2="590.30" stroke="#111" stroke-width="1.35" stroke-dasharray="2.3 3.2"/>
<rect x="474.85" y="527.84" width="4.30" height="3.80" fill="#f63a3b"/>
<rect x="474.85" y="528.64" width="4.30" height="3.80" fill="#f63a3b"/>
<rect x="474.85" y="529.45" width="4.30" height="3.80" fill="#f63a3b"/>
<rect x="474.85" y="530.26" width="4.30" height="3.80" fill="#f63a3b"/>
<rect x="474.85" y="531.07" width="4.30" height="3.80" fill="#f63a3b"/>
<rect x="474.85" y="531.87" width="4.30" height="3.80" fill="#f63a3b"/>
<rect x="474.85" y="532.68" width="4.30" height="3.80" fill="#f63a3b"/>
<rect x="474.85" y="533.49" width="4.30" height="3.80" fill="#f63a3b"/>
<rect x="474.85" y="534.30" width="4.30" height="3.80" fill="#f63a3b"/>
<rect x="474.85" y="535.10" width="4.30" height="3.80" fill="#f63a3b"/>
<rect x="474.85" y="535.91" width="4.30" height="3.80" fill="#f63a3b"/>
<rect x="474.85" y="536.72" width="4.30" height="3.80" fill="#f63a3b"/>
<rect x="474.85" y="537.53" width="4.30" height="3.80" fill="#f63a3b"/>
<rect x="474.85" y="538.33" width="4.30" height="3.80" fill="#f63a3b"/>
<rect x="474.85" y="539.14" width="4.30" height="3.80" fill="#f63a3b"/>
<rect x="474.85" y="539.95" width="4.30" height="3.80" fill="#f63a3b"/>
<rect x="474.85" y="540.76" width="4.30" height="3.80" fill="#f63a3b"/>
<rect x="474.85" y="541.56" width="4.30" height="3.80" fill="#f63a3b"/>
<rect x="474.85" y="542.37" width="4.30" height="3.80" fill="#f63a3b"/>
<rect x="474.85" y="543.18" width="4.30" height="3.80" fill="#f63a3b"/>
<rect x="474.85" y="543.99" width="4.30" height="3.80" fill="#f63a3b"/>
<rect x="474.85" y="544.79" width="4.30" height="3.80" fill="#f63a3b"/>
<rect x="474.85" y="545.60" width="4.30" height="3.80" fill="#f63a3b"/>
<rect x="474.85" y="546.41" width="4.30" height="3.80" fill="#f63a3b"/>
<rect x="474.85" y="547.22" width="4.30" height="3.80" fill="#f63a3b"/>
<rect x="474.85" y="548.02" width="4.30" height="3.80" fill="#f63a3b"/>
<rect x="474.85" y="548.83" width="4.30" height="3.80" fill="#f63a3b"/>
<rect x="474.85" y="549.64" width="4.30" height="3.80" fill="#f63a3b"/>
<rect x="474.85" y="550.45" width="4.30" height="3.80" fill="#f63a3b"/>
<rect x="474.85" y="551.25" width="4.30" height="3.80" fill="#f63a3b"/>
<rect x="474.85" y="552.06" width="4.30" height="3.80" fill="#f63a3b"/>
<rect x="474.85" y="552.87" width="4.30" height="3.80" fill="#f63a3b"/>
<rect x="474.85" y="553.68" width="4.30" height="3.80" fill="#f63a3b"/>
<rect x="474.85" y="554.48" width="4.30" height="3.80" fill="#f63a3b"/>
<rect x="474.85" y="555.29" width="4.30" height="3.80" fill="#f63a3b"/>
<rect x="474.85" y="556.10" width="4.30" height="3.80" fill="#f63a3b"/>
<rect x="474.85" y="556.91" width="4.30" height="3.80" fill="#f63a3b"/>
<rect x="474.85" y="557.71" width="4.30" height="3.80" fill="#f63a3b"/>
<rect x="474.85" y="558.52" width="4.30" height="3.80" fill="#f63a3b"/>
<rect x="474.85" y="559.33" width="4.30" height="3.80" fill="#f63a3b"/>
<rect x="474.85" y="560.14" width="4.30" height="3.80" fill="#f63a3b"/>
<rect x="474.85" y="560.94" width="4.30" height="3.80" fill="#f63a3b"/>
<rect x="474.85" y="561.75" width="4.30" height="3.80" fill="#f63a3b"/>
<rect x="474.85" y="562.56" width="4.30" height="3.80" fill="#f63a3b"/>
<rect x="474.85" y="563.37" width="4.30" height="3.80" fill="#f63a3b"/>
<rect x="474.85" y="564.17" width="4.30" height="3.80" fill="#f63a3b"/>
<rect x="474.85" y="564.98" width="4.30" height="3.80" fill="#f63a3b"/>
<rect x="474.85" y="565.79" width="4.30" height="3.80" fill="#f63a3b"/>
<rect x="474.85" y="566.60" width="4.30" height="3.80" fill="#f63a3b"/>
<rect x="474.85" y="567.40" width="4.30" height="3.80" fill="#f63a3b"/>
<rect x="474.85" y="568.21" width="4.30" height="3.80" fill="#f63a3b"/>
<rect x="474.85" y="569.02" width="4.30" height="3.80" fill="#f63a3b"/>
<rect x="474.85" y="569.83" width="4.30" height="3.80" fill="#f63a3b"/>
<rect x="474.85" y="570.63" width="4.30" height="3.80" fill="#f63a3b"/>
<rect x="474.85" y="571.44" width="4.30" height="3.80" fill="#f63a3b"/>
<rect x="474.85" y="572.25" width="4.30" height="3.80" fill="#f63a3b"/>
<rect x="474.85" y="573.06" width="4.30" height="3.80" fill="#f63a3b"/>
<rect x="474.85" y="573.86" width="4.30" height="3.80" fill="#f63a3b"/>
<rect x="474.85" y="574.67" width="4.30" height="3.80" fill="#f63a3b"/>
<rect x="474.85" y="575.48" width="4.30" height="3.80" fill="#f63a3b"/>
<rect x="474.85" y="576.29" width="4.30" height="3.80" fill="#f63a3b"/>
<rect x="474.85" y="577.09" width="4.30" height="3.80" fill="#f63a3b"/>
<rect x="474.85" y="577.90" width="4.30" height="3.80" fill="#f63a3b"/>
<rect x="474.85" y="578.71" width="4.30" height="3.80" fill="#f63a3b"/>
<rect x="474.85" y="579.52" width="4.30" height="3.80" fill="#f63a3b"/>
<rect x="474.85" y="580.32" width="4.30" height="3.80" fill="#f63a3b"/>
<rect x="474.85" y="581.13" width="4.30" height="3.80" fill="#f63a3b"/>
<rect x="474.85" y="581.94" width="4.30" height="3.80" fill="#f63a3b"/>
<rect x="474.85" y="582.75" width="4.30" height="3.80" fill="#f63a3b"/>
<rect x="474.85" y="583.55" width="4.30" height="3.80" fill="#f63a3b"/>
<rect x="474.85" y="584.36" width="4.30" height="3.80" fill="#f63a3b"/>
<rect x="474.85" y="585.17" width="4.30" height="3.80" fill="#f63a3b"/>
<rect x="474.85" y="585.98" width="4.30" height="3.80" fill="#f63a3b"/>
<rect x="474.85" y="586.78" width="4.30" height="3.80" fill="#f63a3b"/>
<rect x="474.85" y="587.59" width="4.30" height="3.80" fill="#f63a3b"/>
<rect x="474.85" y="588.40" width="4.30" height="3.80" fill="#f63a3b"/>
<rect x="474.85" y="589.21" width="4.30" height="3.80" fill="#f63a3b"/>
<rect x="474.85" y="590.01" width="4.30" height="3.80" fill="#f63a3b"/>
<rect x="474.85" y="590.82" width="4.30" height="3.80" fill="#f63a3b"/>
<rect x="474.85" y="591.63" width="4.30" height="3.80" fill="#f63a3b"/>
<rect x="474.85" y="592.44" width="4.30" height="3.80" fill="#f63a3b"/>
<rect x="474.85" y="593.24" width="4.30" height="3.80" fill="#f63a3b"/>
<rect x="474.85" y="594.05" width="4.30" height="3.80" fill="#f63a3b"/>
<rect x="474.85" y="594.86" width="4.30" height="3.80" fill="#f63a3b"/>
<rect x="474.85" y="595.67" width="4.30" height="3.80" fill="#f63a3b"/>
<rect x="474.85" y="603.74" width="4.30" height="3.80" fill="#f63a3b"/>
<circle cx="512.10" cy="531.35" r="1.8" fill="#1596b4" stroke="#0e5a6e" stroke-width="0.6"/>
<circle cx="512.10" cy="534.74" r="1.8" fill="#1596b4" stroke="#0e5a6e" stroke-width="0.6"/>
<circle cx="512.10" cy="538.13" r="1.8" fill="#1596b4" stroke="#0e5a6e" stroke-width="0.6"/>
<circle cx="512.10" cy="541.52" r="1.8" fill="#1596b4" stroke="#0e5a6e" stroke-width="0.6"/>
<circle cx="512.10" cy="544.92" r="1.8" fill="#1596b4" stroke="#0e5a6e" stroke-width="0.6"/>
<circle cx="512.10" cy="548.31" r="1.8" fill="#1596b4" stroke="#0e5a6e" stroke-width="0.6"/>
<circle cx="512.10" cy="551.70" r="1.8" fill="#1596b4" stroke="#0e5a6e" stroke-width="0.6"/>
<circle cx="512.10" cy="555.09" r="1.8" fill="#1596b4" stroke="#0e5a6e" stroke-width="0.6"/>
<circle cx="512.10" cy="558.48" r="1.8" fill="#1596b4" stroke="#0e5a6e" stroke-width="0.6"/>
<circle cx="512.10" cy="561.87" r="1.8" fill="#1596b4" stroke="#0e5a6e" stroke-width="0.6"/>
<circle cx="512.10" cy="565.27" r="1.8" fill="#1596b4" stroke="#0e5a6e" stroke-width="0.6"/>
<circle cx="512.10" cy="568.66" r="1.8" fill="#1596b4" stroke="#0e5a6e" stroke-width="0.6"/>
<circle cx="512.10" cy="572.05" r="1.8" fill="#1596b4" stroke="#0e5a6e" stroke-width="0.6"/>
<circle cx="512.10" cy="575.44" r="1.8" fill="#1596b4" stroke="#0e5a6e" stroke-width="0.6"/>
<circle cx="512.10" cy="578.83" r="1.8" fill="#1596b4" stroke="#0e5a6e" stroke-width="0.6"/>
<circle cx="512.10" cy="582.22" r="1.8" fill="#1596b4" stroke="#0e5a6e" stroke-width="0.6"/>
<circle cx="512.10" cy="585.61" r="1.8" fill="#1596b4" stroke="#0e5a6e" stroke-width="0.6"/>
<circle cx="512.10" cy="589.01" r="1.8" fill="#1596b4" stroke="#0e5a6e" stroke-width="0.6"/>
<line x1="477.00" y1="520.50" x2="512.10" y2="520.50" stroke="#555" stroke-width="0.7"/>
<line x1="477.00" y1="519.20" x2="477.00" y2="521.80" stroke="#555" stroke-width="0.7"/>
<line x1="512.10" y1="519.20" x2="512.10" y2="521.80" stroke="#555" stroke-width="0.7"/>
<text x="494.55" y="516.20" font-size="6.6" fill="#231f20" text-anchor="middle" textLength="18.00" lengthAdjust="spacingAndGlyphs">0.043</text>
<text x="560.00" y="9.00" font-size="11" font-weight="bold" fill="#000" stroke="#000" stroke-width="0.25" textLength="5.6" lengthAdjust="spacingAndGlyphs">k</text>
<text x="631.00" y="12.80" font-size="8.5" fill="#231f20" text-anchor="middle">Adipose</text>
<line x1="589.70" y1="35.60" x2="589.70" y2="113.60" stroke="#7a7a7a" stroke-width="0.8"/>
<line x1="589.70" y1="113.60" x2="673.00" y2="113.60" stroke="#7a7a7a" stroke-width="0.8"/>
<line x1="585.90" y1="113.60" x2="589.70" y2="113.60" stroke="#7a7a7a" stroke-width="0.8"/>
<text x="582.10" y="116.30" font-size="7.6" fill="#231f20" text-anchor="end">0</text>
<line x1="585.90" y1="87.60" x2="589.70" y2="87.60" stroke="#7a7a7a" stroke-width="0.8"/>
<text x="582.10" y="90.30" font-size="7.6" fill="#231f20" text-anchor="end">3</text>
<line x1="585.90" y1="61.60" x2="589.70" y2="61.60" stroke="#7a7a7a" stroke-width="0.8"/>
<text x="582.10" y="64.30" font-size="7.6" fill="#231f20" text-anchor="end">6</text>
<line x1="585.90" y1="35.60" x2="589.70" y2="35.60" stroke="#7a7a7a" stroke-width="0.8"/>
<text x="582.10" y="38.30" font-size="7.6" fill="#231f20" text-anchor="end">9</text>
<line x1="587.50" y1="100.60" x2="589.70" y2="100.60" stroke="#7a7a7a" stroke-width="0.7"/>
<line x1="587.50" y1="74.60" x2="589.70" y2="74.60" stroke="#7a7a7a" stroke-width="0.7"/>
<line x1="587.50" y1="48.60" x2="589.70" y2="48.60" stroke="#7a7a7a" stroke-width="0.7"/>
<line x1="589.70" y1="113.60" x2="589.70" y2="117.20" stroke="#7a7a7a" stroke-width="0.8"/>
<line x1="610.53" y1="113.60" x2="610.53" y2="115.80" stroke="#7a7a7a" stroke-width="0.8"/>
<line x1="631.35" y1="113.60" x2="631.35" y2="117.20" stroke="#7a7a7a" stroke-width="0.8"/>
<line x1="652.17" y1="113.60" x2="652.17" y2="115.80" stroke="#7a7a7a" stroke-width="0.8"/>
<line x1="673.00" y1="113.60" x2="673.00" y2="117.20" stroke="#7a7a7a" stroke-width="0.8"/>
<text x="589.70" y="127.90" font-size="7.6" fill="#231f20" text-anchor="middle">-0.6</text>
<text x="631.35" y="127.90" font-size="7.6" fill="#231f20" text-anchor="middle">0</text>
<text x="673.00" y="127.90" font-size="7.6" fill="#231f20" text-anchor="middle">0.6</text>
<line x1="631.35" y1="35.60" x2="631.35" y2="113.60" stroke="#1a1a1a" stroke-width="0.95" stroke-dasharray="2.6 1.9"/>
<line x1="589.70" y1="102.33" x2="673.00" y2="102.33" stroke="#111" stroke-width="0.95" stroke-dasharray="2.8 1.8"/>
<circle cx="628.60" cy="108.70" r="2.1" fill="#d4d4d4"/>
<circle cx="631.00" cy="112.50" r="2.1" fill="#d4d4d4"/>
<circle cx="612.60" cy="55.90" r="2.3" fill="#1a1aff"/>
<circle cx="599.40" cy="68.90" r="2.3" fill="#1a1aff"/>
<circle cx="643.80" cy="81.30" r="2.3" fill="#ff1a1a"/>
<text x="610.30" y="50.90" font-size="7" fill="#1a1aff" text-anchor="middle" textLength="20.00" lengthAdjust="spacingAndGlyphs">FABP4</text>
<text x="608.30" y="78.10" font-size="7" fill="#1a1aff" text-anchor="middle" textLength="12.00" lengthAdjust="spacingAndGlyphs">LEP</text>
<text x="654.50" y="75.30" font-size="7" fill="#ff1a1a" text-anchor="middle" textLength="25.00" lengthAdjust="spacingAndGlyphs">ADIPOQ</text>
<text x="569.30" y="72.40" font-size="9.00" fill="#231f20" text-anchor="middle" textLength="56" lengthAdjust="spacingAndGlyphs" transform="rotate(-90 569.30 72.40)">-log<tspan font-size="6.2" dy="2">10</tspan><tspan dy="-2">(</tspan><tspan font-style="italic">P</tspan> adj.)</text>
<text x="567.40" y="139.30" font-size="7.5" fill="#1a1aff" textLength="27.60" lengthAdjust="spacingAndGlyphs">CR down</text>
<line x1="615.60" y1="136.70" x2="603.90" y2="136.70" stroke="#1a1aff" stroke-width="1.4"/>
<path d="M600.6,136.7 L605.0,134.3 L605.0,139.1 Z" fill="#1a1aff"/>
<text x="620.70" y="139.30" font-size="7.3" fill="#231f20" textLength="20.6" lengthAdjust="spacingAndGlyphs">log<tspan font-size="5" dy="1.6">2</tspan><tspan dy="-1.6">FC</tspan></text>
<line x1="647.30" y1="136.70" x2="658.40" y2="136.70" stroke="#ff1a1a" stroke-width="1.4"/>
<path d="M661.7,136.7 L657.3,134.3 L657.3,139.1 Z" fill="#ff1a1a"/>
<text x="665.90" y="139.30" font-size="7.5" fill="#ff1a1a" textLength="19.50" lengthAdjust="spacingAndGlyphs">CR up</text>
<text x="559.50" y="172.00" font-size="11" font-weight="bold" fill="#000" stroke="#000" stroke-width="0.25" textLength="3.0" lengthAdjust="spacingAndGlyphs">l</text>
<text x="633.20" y="175.20" font-size="8.5" fill="#231f20" text-anchor="middle">Lung</text>
<line x1="590.50" y1="190.60" x2="590.50" y2="269.30" stroke="#7a7a7a" stroke-width="0.8"/>
<line x1="590.50" y1="269.30" x2="674.30" y2="269.30" stroke="#7a7a7a" stroke-width="0.8"/>
<line x1="586.70" y1="269.30" x2="590.50" y2="269.30" stroke="#7a7a7a" stroke-width="0.8"/>
<text x="582.90" y="272.00" font-size="7.6" fill="#231f20" text-anchor="end">0</text>
<line x1="586.70" y1="229.95" x2="590.50" y2="229.95" stroke="#7a7a7a" stroke-width="0.8"/>
<text x="582.90" y="232.65" font-size="7.6" fill="#231f20" text-anchor="end">2</text>
<line x1="586.70" y1="190.60" x2="590.50" y2="190.60" stroke="#7a7a7a" stroke-width="0.8"/>
<text x="582.90" y="193.30" font-size="7.6" fill="#231f20" text-anchor="end">4</text>
<line x1="588.30" y1="249.62" x2="590.50" y2="249.62" stroke="#7a7a7a" stroke-width="0.7"/>
<line x1="588.30" y1="210.28" x2="590.50" y2="210.28" stroke="#7a7a7a" stroke-width="0.7"/>
<line x1="590.50" y1="269.30" x2="590.50" y2="272.90" stroke="#7a7a7a" stroke-width="0.8"/>
<line x1="611.45" y1="269.30" x2="611.45" y2="271.50" stroke="#7a7a7a" stroke-width="0.8"/>
<line x1="632.40" y1="269.30" x2="632.40" y2="272.90" stroke="#7a7a7a" stroke-width="0.8"/>
<line x1="653.35" y1="269.30" x2="653.35" y2="271.50" stroke="#7a7a7a" stroke-width="0.8"/>
<line x1="674.30" y1="269.30" x2="674.30" y2="272.90" stroke="#7a7a7a" stroke-width="0.8"/>
<text x="590.50" y="283.60" font-size="7.6" fill="#231f20" text-anchor="middle">-0.15</text>
<text x="632.40" y="283.60" font-size="7.6" fill="#231f20" text-anchor="middle">0</text>
<text x="674.30" y="283.60" font-size="7.6" fill="#231f20" text-anchor="middle">0.15</text>
<line x1="632.40" y1="190.60" x2="632.40" y2="269.30" stroke="#1a1a1a" stroke-width="0.95" stroke-dasharray="2.6 1.9"/>
<line x1="590.50" y1="243.72" x2="674.30" y2="243.72" stroke="#111" stroke-width="0.95" stroke-dasharray="2.8 1.8"/>
<circle cx="615.40" cy="257.90" r="2.1" fill="#d4d4d4"/>
<circle cx="623.50" cy="260.40" r="2.1" fill="#d4d4d4"/>
<circle cx="629.10" cy="268.80" r="2.1" fill="#d4d4d4"/>
<circle cx="635.00" cy="268.80" r="2.1" fill="#d4d4d4"/>
<circle cx="640.80" cy="252.80" r="2.1" fill="#d4d4d4"/>
<circle cx="640.80" cy="263.00" r="2.1" fill="#d4d4d4"/>
<circle cx="652.00" cy="260.00" r="2.1" fill="#d4d4d4"/>
<circle cx="665.40" cy="264.80" r="2.1" fill="#d4d4d4"/>
<circle cx="601.20" cy="220.30" r="2.3" fill="#1a1aff"/>
<line x1="610.80" y1="241.40" x2="614.60" y2="252.80" stroke="#222" stroke-width="0.6"/>
<line x1="646.90" y1="235.00" x2="641.80" y2="249.50" stroke="#222" stroke-width="0.6"/>
<text x="605.70" y="214.00" font-size="7" fill="#1a1aff" text-anchor="middle" textLength="20.00" lengthAdjust="spacingAndGlyphs">CCL18</text>
<text x="608.80" y="238.40" font-size="7" fill="#231f20" text-anchor="middle" textLength="16.00" lengthAdjust="spacingAndGlyphs">ROS1</text>
<text x="652.00" y="231.30" font-size="7" fill="#231f20" text-anchor="middle" textLength="15.00" lengthAdjust="spacingAndGlyphs">ALPP</text>
<text x="567.06" y="229.35" font-size="8.36" fill="#231f20" text-anchor="middle" textLength="52" lengthAdjust="spacingAndGlyphs" transform="rotate(-90 567.06 229.35)">-log<tspan font-size="6.2" dy="2">10</tspan><tspan dy="-2">(</tspan><tspan font-style="italic">P</tspan> adj.)</text>
<text x="568.20" y="294.80" font-size="7.5" fill="#1a1aff" textLength="27.60" lengthAdjust="spacingAndGlyphs">CR down</text>
<line x1="616.40" y1="292.20" x2="604.70" y2="292.20" stroke="#1a1aff" stroke-width="1.4"/>
<path d="M601.4,292.2 L605.8,289.8 L605.8,294.6 Z" fill="#1a1aff"/>
<text x="621.50" y="294.80" font-size="7.3" fill="#231f20" textLength="20.6" lengthAdjust="spacingAndGlyphs">log<tspan font-size="5" dy="1.6">2</tspan><tspan dy="-1.6">FC</tspan></text>
<line x1="648.10" y1="292.20" x2="659.20" y2="292.20" stroke="#ff1a1a" stroke-width="1.4"/>
<path d="M662.5,292.2 L658.1,289.8 L658.1,294.6 Z" fill="#ff1a1a"/>
<text x="666.70" y="294.80" font-size="7.5" fill="#ff1a1a" textLength="19.50" lengthAdjust="spacingAndGlyphs">CR up</text>
<text x="559.50" y="334.50" font-size="11" font-weight="bold" fill="#000" stroke="#000" stroke-width="0.25" textLength="8.9" lengthAdjust="spacingAndGlyphs">m</text>
<text x="629.90" y="337.60" font-size="8.5" fill="#231f20" text-anchor="middle">Pancreas</text>
<line x1="587.40" y1="350.70" x2="587.40" y2="429.40" stroke="#7a7a7a" stroke-width="0.8"/>
<line x1="587.40" y1="429.40" x2="671.80" y2="429.40" stroke="#7a7a7a" stroke-width="0.8"/>
<line x1="583.60" y1="429.40" x2="587.40" y2="429.40" stroke="#7a7a7a" stroke-width="0.8"/>
<text x="579.80" y="432.10" font-size="7.6" fill="#231f20" text-anchor="end">0</text>
<line x1="583.60" y1="403.17" x2="587.40" y2="403.17" stroke="#7a7a7a" stroke-width="0.8"/>
<text x="579.80" y="405.87" font-size="7.6" fill="#231f20" text-anchor="end">1</text>
<line x1="583.60" y1="376.93" x2="587.40" y2="376.93" stroke="#7a7a7a" stroke-width="0.8"/>
<text x="579.80" y="379.63" font-size="7.6" fill="#231f20" text-anchor="end">2</text>
<line x1="583.60" y1="350.70" x2="587.40" y2="350.70" stroke="#7a7a7a" stroke-width="0.8"/>
<text x="579.80" y="353.40" font-size="7.6" fill="#231f20" text-anchor="end">3</text>
<line x1="585.20" y1="416.28" x2="587.40" y2="416.28" stroke="#7a7a7a" stroke-width="0.7"/>
<line x1="585.20" y1="390.05" x2="587.40" y2="390.05" stroke="#7a7a7a" stroke-width="0.7"/>
<line x1="585.20" y1="363.82" x2="587.40" y2="363.82" stroke="#7a7a7a" stroke-width="0.7"/>
<line x1="587.40" y1="429.40" x2="587.40" y2="433.00" stroke="#7a7a7a" stroke-width="0.8"/>
<line x1="608.50" y1="429.40" x2="608.50" y2="431.60" stroke="#7a7a7a" stroke-width="0.8"/>
<line x1="629.60" y1="429.40" x2="629.60" y2="433.00" stroke="#7a7a7a" stroke-width="0.8"/>
<line x1="650.70" y1="429.40" x2="650.70" y2="431.60" stroke="#7a7a7a" stroke-width="0.8"/>
<line x1="671.80" y1="429.40" x2="671.80" y2="433.00" stroke="#7a7a7a" stroke-width="0.8"/>
<text x="587.40" y="443.70" font-size="7.6" fill="#231f20" text-anchor="middle">-0.15</text>
<text x="629.60" y="443.70" font-size="7.6" fill="#231f20" text-anchor="middle">0</text>
<text x="671.80" y="443.70" font-size="7.6" fill="#231f20" text-anchor="middle">0.15</text>
<line x1="629.60" y1="350.70" x2="629.60" y2="429.40" stroke="#666" stroke-width="0.95" stroke-dasharray="2.6 1.9"/>
<line x1="587.40" y1="395.30" x2="671.80" y2="395.30" stroke="#111" stroke-width="0.95" stroke-dasharray="2.8 1.8"/>
<circle cx="646.38" cy="398.92" r="2.1" fill="#d4d4d4"/>
<circle cx="646.38" cy="404.51" r="2.1" fill="#d4d4d4"/>
<circle cx="646.38" cy="412.90" r="2.1" fill="#d4d4d4"/>
<circle cx="651.97" cy="395.87" r="2.1" fill="#d4d4d4"/>
<circle cx="651.97" cy="411.63" r="2.1" fill="#d4d4d4"/>
<circle cx="651.97" cy="419.25" r="2.1" fill="#d4d4d4"/>
<circle cx="616.40" cy="408.58" r="2.1" fill="#d4d4d4"/>
<circle cx="615.39" cy="416.71" r="2.1" fill="#d4d4d4"/>
<circle cx="620.98" cy="415.44" r="2.1" fill="#d4d4d4"/>
<circle cx="621.74" cy="417.98" r="2.1" fill="#d4d4d4"/>
<circle cx="613.35" cy="418.74" r="2.1" fill="#d4d4d4"/>
<circle cx="601.92" cy="417.98" r="2.1" fill="#d4d4d4"/>
<circle cx="623.52" cy="423.57" r="2.1" fill="#d4d4d4"/>
<circle cx="626.57" cy="419.25" r="2.1" fill="#d4d4d4"/>
<circle cx="628.60" cy="428.14" r="2.1" fill="#d4d4d4"/>
<circle cx="631.14" cy="428.14" r="2.1" fill="#d4d4d4"/>
<circle cx="635.20" cy="416.71" r="2.1" fill="#d4d4d4"/>
<circle cx="637.74" cy="421.79" r="2.1" fill="#d4d4d4"/>
<circle cx="640.79" cy="420.52" r="2.1" fill="#d4d4d4"/>
<circle cx="636.22" cy="425.60" r="2.1" fill="#d4d4d4"/>
<circle cx="632.41" cy="426.36" r="2.1" fill="#d4d4d4"/>
<circle cx="624.79" cy="425.60" r="2.1" fill="#d4d4d4"/>
<circle cx="619.71" cy="421.79" r="2.1" fill="#d4d4d4"/>
<circle cx="622.25" cy="424.84" r="2.1" fill="#d4d4d4"/>
<circle cx="629.87" cy="424.84" r="2.1" fill="#d4d4d4"/>
<circle cx="596.30" cy="389.30" r="2.3" fill="#1a1aff"/>
<circle cx="646.90" cy="392.80" r="2.3" fill="#ff1a1a"/>
<circle cx="655.30" cy="388.80" r="2.3" fill="#ff1a1a"/>
<circle cx="660.90" cy="392.10" r="2.3" fill="#ff1a1a"/>
<line x1="641.80" y1="359.50" x2="646.40" y2="390.80" stroke="#222" stroke-width="0.6"/>
<line x1="658.60" y1="368.90" x2="656.00" y2="386.20" stroke="#222" stroke-width="0.6"/>
<line x1="661.60" y1="383.70" x2="661.10" y2="390.30" stroke="#222" stroke-width="0.6"/>
<line x1="612.10" y1="406.00" x2="615.90" y2="408.60" stroke="#222" stroke-width="0.6"/>
<text x="606.50" y="385.50" font-size="7" fill="#1a1aff" text-anchor="middle" textLength="24.00" lengthAdjust="spacingAndGlyphs">CLPSL2</text>
<text x="650.20" y="356.30" font-size="7" fill="#ff1a1a" text-anchor="middle" textLength="28.00" lengthAdjust="spacingAndGlyphs">PLA2G1B</text>
<text x="662.40" y="366.70" font-size="7" fill="#ff1a1a" text-anchor="middle" textLength="20.00" lengthAdjust="spacingAndGlyphs">CTRB1</text>
<text x="667.50" y="383.20" font-size="7" fill="#ff1a1a" text-anchor="middle" textLength="20.00" lengthAdjust="spacingAndGlyphs">REG1A</text>
<text x="603.20" y="404.10" font-size="7" fill="#231f20" text-anchor="middle" textLength="20.00" lengthAdjust="spacingAndGlyphs">ERP27</text>
<text x="567.53" y="387.75" font-size="9.16" fill="#231f20" text-anchor="middle" textLength="57" lengthAdjust="spacingAndGlyphs" transform="rotate(-90 567.53 387.75)">-log<tspan font-size="6.2" dy="2">10</tspan><tspan dy="-2">(</tspan><tspan font-style="italic">P</tspan> adj.)</text>
<text x="565.10" y="455.60" font-size="7.5" fill="#1a1aff" textLength="27.60" lengthAdjust="spacingAndGlyphs">CR down</text>
<line x1="613.30" y1="453.00" x2="601.60" y2="453.00" stroke="#1a1aff" stroke-width="1.4"/>
<path d="M598.3,453.0 L602.7,450.6 L602.7,455.4 Z" fill="#1a1aff"/>
<text x="618.40" y="455.60" font-size="7.3" fill="#231f20" textLength="20.6" lengthAdjust="spacingAndGlyphs">log<tspan font-size="5" dy="1.6">2</tspan><tspan dy="-1.6">FC</tspan></text>
<line x1="645.00" y1="453.00" x2="656.10" y2="453.00" stroke="#ff1a1a" stroke-width="1.4"/>
<path d="M659.4,453.0 L655.0,450.6 L655.0,455.4 Z" fill="#ff1a1a"/>
<text x="663.60" y="455.60" font-size="7.5" fill="#ff1a1a" textLength="19.50" lengthAdjust="spacingAndGlyphs">CR up</text>
<text x="559.50" y="493.20" font-size="11" font-weight="bold" fill="#000" stroke="#000" stroke-width="0.25" textLength="5.4" lengthAdjust="spacingAndGlyphs">n</text>
<text x="630.80" y="497.60" font-size="8.5" fill="#231f20" text-anchor="middle">Intestine</text>
<line x1="588.30" y1="513.50" x2="588.30" y2="592.60" stroke="#7a7a7a" stroke-width="0.8"/>
<line x1="588.30" y1="592.60" x2="672.20" y2="592.60" stroke="#7a7a7a" stroke-width="0.8"/>
<line x1="584.50" y1="592.60" x2="588.30" y2="592.60" stroke="#7a7a7a" stroke-width="0.8"/>
<text x="580.70" y="595.30" font-size="7.6" fill="#231f20" text-anchor="end">0</text>
<line x1="584.50" y1="566.23" x2="588.30" y2="566.23" stroke="#7a7a7a" stroke-width="0.8"/>
<text x="580.70" y="568.93" font-size="7.6" fill="#231f20" text-anchor="end">1</text>
<line x1="584.50" y1="539.87" x2="588.30" y2="539.87" stroke="#7a7a7a" stroke-width="0.8"/>
<text x="580.70" y="542.57" font-size="7.6" fill="#231f20" text-anchor="end">2</text>
<line x1="584.50" y1="513.50" x2="588.30" y2="513.50" stroke="#7a7a7a" stroke-width="0.8"/>
<text x="580.70" y="516.20" font-size="7.6" fill="#231f20" text-anchor="end">3</text>
<line x1="586.10" y1="579.42" x2="588.30" y2="579.42" stroke="#7a7a7a" stroke-width="0.7"/>
<line x1="586.10" y1="553.05" x2="588.30" y2="553.05" stroke="#7a7a7a" stroke-width="0.7"/>
<line x1="586.10" y1="526.68" x2="588.30" y2="526.68" stroke="#7a7a7a" stroke-width="0.7"/>
<line x1="588.30" y1="592.60" x2="588.30" y2="596.20" stroke="#7a7a7a" stroke-width="0.8"/>
<line x1="609.27" y1="592.60" x2="609.27" y2="594.80" stroke="#7a7a7a" stroke-width="0.8"/>
<line x1="630.25" y1="592.60" x2="630.25" y2="596.20" stroke="#7a7a7a" stroke-width="0.8"/>
<line x1="651.23" y1="592.60" x2="651.23" y2="594.80" stroke="#7a7a7a" stroke-width="0.8"/>
<line x1="672.20" y1="592.60" x2="672.20" y2="596.20" stroke="#7a7a7a" stroke-width="0.8"/>
<text x="588.30" y="606.90" font-size="7.6" fill="#231f20" text-anchor="middle">-0.15</text>
<text x="630.25" y="606.90" font-size="7.6" fill="#231f20" text-anchor="middle">0</text>
<text x="672.20" y="606.90" font-size="7.6" fill="#231f20" text-anchor="middle">0.15</text>
<line x1="630.25" y1="513.50" x2="630.25" y2="592.60" stroke="#666" stroke-width="0.95" stroke-dasharray="2.6 1.9"/>
<line x1="588.30" y1="558.32" x2="672.20" y2="558.32" stroke="#111" stroke-width="0.95" stroke-dasharray="2.8 1.8"/>
<circle cx="611.10" cy="574.54" r="2.1" fill="#d4d4d4"/>
<circle cx="616.34" cy="573.75" r="2.1" fill="#d4d4d4"/>
<circle cx="620.27" cy="567.20" r="2.1" fill="#d4d4d4"/>
<circle cx="622.89" cy="567.20" r="2.1" fill="#d4d4d4"/>
<circle cx="619.75" cy="578.99" r="2.1" fill="#d4d4d4"/>
<circle cx="622.37" cy="580.30" r="2.1" fill="#d4d4d4"/>
<circle cx="621.58" cy="586.86" r="2.1" fill="#d4d4d4"/>
<circle cx="624.20" cy="587.64" r="2.1" fill="#d4d4d4"/>
<circle cx="625.51" cy="589.48" r="2.1" fill="#d4d4d4"/>
<circle cx="628.13" cy="588.17" r="2.1" fill="#d4d4d4"/>
<circle cx="630.23" cy="590.79" r="2.1" fill="#d4d4d4"/>
<circle cx="626.82" cy="591.31" r="2.1" fill="#d4d4d4"/>
<circle cx="632.06" cy="590.26" r="2.1" fill="#d4d4d4"/>
<circle cx="634.69" cy="586.07" r="2.1" fill="#d4d4d4"/>
<circle cx="636.52" cy="584.23" r="2.1" fill="#d4d4d4"/>
<circle cx="641.76" cy="573.23" r="2.1" fill="#d4d4d4"/>
<circle cx="644.64" cy="585.02" r="2.1" fill="#d4d4d4"/>
<circle cx="647.79" cy="580.30" r="2.1" fill="#d4d4d4"/>
<circle cx="650.41" cy="581.09" r="2.1" fill="#d4d4d4"/>
<circle cx="660.89" cy="564.06" r="2.1" fill="#d4d4d4"/>
<circle cx="664.30" cy="564.06" r="2.1" fill="#d4d4d4"/>
<circle cx="672.68" cy="578.99" r="2.1" fill="#d4d4d4"/>
<circle cx="599.83" cy="561.96" r="2.1" fill="#d4d4d4"/>
<circle cx="611.10" cy="567.99" r="2.1" fill="#d4d4d4"/>
<circle cx="670.10" cy="538.40" r="2.3" fill="#ff1a1a"/>
<line x1="602.50" y1="534.40" x2="599.80" y2="560.60" stroke="#222" stroke-width="0.6"/>
<line x1="614.20" y1="554.60" x2="611.90" y2="566.70" stroke="#222" stroke-width="0.6"/>
<line x1="658.30" y1="553.60" x2="660.90" y2="562.50" stroke="#222" stroke-width="0.6"/>
<line x1="668.00" y1="575.50" x2="671.50" y2="578.00" stroke="#222" stroke-width="0.6"/>
<text x="670.10" y="531.00" font-size="7" fill="#ff1a1a" text-anchor="middle" textLength="21.00" lengthAdjust="spacingAndGlyphs">CDH17</text>
<text x="604.50" y="532.30" font-size="7" fill="#231f20" text-anchor="middle" textLength="21.00" lengthAdjust="spacingAndGlyphs">CCL25</text>
<text x="615.60" y="552.80" font-size="7" fill="#231f20" text-anchor="middle" textLength="22.00" lengthAdjust="spacingAndGlyphs">CDHR5</text>
<text x="654.90" y="550.70" font-size="7" fill="#231f20" text-anchor="middle" textLength="20.00" lengthAdjust="spacingAndGlyphs">KRT20</text>
<text x="664.80" y="575.00" font-size="7" fill="#231f20" text-anchor="middle" textLength="19.00" lengthAdjust="spacingAndGlyphs">FGF19</text>
<text x="565.90" y="552.65" font-size="8.28" fill="#231f20" text-anchor="middle" textLength="51.5" lengthAdjust="spacingAndGlyphs" transform="rotate(-90 565.90 552.65)">-log<tspan font-size="6.2" dy="2">10</tspan><tspan dy="-2">(</tspan><tspan font-style="italic">P</tspan> adj.)</text>
<text x="566.00" y="617.50" font-size="7.5" fill="#1a1aff" textLength="27.60" lengthAdjust="spacingAndGlyphs">CR down</text>
<line x1="614.20" y1="614.90" x2="602.50" y2="614.90" stroke="#1a1aff" stroke-width="1.4"/>
<path d="M599.2,614.9 L603.6,612.5 L603.6,617.3 Z" fill="#1a1aff"/>
<text x="619.30" y="617.50" font-size="7.3" fill="#231f20" textLength="20.6" lengthAdjust="spacingAndGlyphs">log<tspan font-size="5" dy="1.6">2</tspan><tspan dy="-1.6">FC</tspan></text>
<line x1="645.90" y1="614.90" x2="657.00" y2="614.90" stroke="#ff1a1a" stroke-width="1.4"/>
<path d="M660.3,614.9 L655.9,612.5 L655.9,617.3 Z" fill="#ff1a1a"/>
<text x="664.50" y="617.50" font-size="7.5" fill="#ff1a1a" textLength="19.50" lengthAdjust="spacingAndGlyphs">CR up</text>
<text x="0.00" y="9.30" font-size="11" font-weight="bold" fill="#000" stroke="#000" stroke-width="0.25" textLength="6.6" lengthAdjust="spacingAndGlyphs">a</text>
<path d="M8.6,37 L19,37 L19,108.3 Q19,113.4 13.8,113.4 Q8.6,113.4 8.6,108.3 Z" fill="#e6edf0" stroke="#c6cacc" stroke-width="0.8"/>
<rect x="8.30" y="36.50" width="11.00" height="2.20" fill="#d5d9db"/>
<rect x="9.40" y="54.90" width="8.80" height="12.30" fill="#e2a821"/>
<rect x="9.40" y="67.20" width="8.80" height="1.80" fill="#f6e4d0"/>
<path d="M9.4,69 L18.2,69 L18.2,108 Q18.2,112.6 13.8,112.6 Q9.4,112.6 9.4,108 Z" fill="#a3383a"/>
<path d="M53.6,13.4 L15.2,59.4 L53.6,155.3" fill="none" stroke="#111" stroke-width="1.3" stroke-linejoin="miter"/>
<rect x="53.60" y="13.60" width="47.00" height="141.80" fill="none" stroke="#111" stroke-width="1.3"/>
<ellipse cx="31.7" cy="42.4" rx="4.2" ry="3" fill="#7fb2de" transform="rotate(15 31.7 42.4)"/>
<ellipse cx="29.6" cy="51.3" rx="4.3" ry="3.2" fill="#7fb2de" transform="rotate(-30 29.6 51.3)"/>
<ellipse cx="39.5" cy="48.6" rx="3.3" ry="4.5" fill="#7fb2de"/>
<circle cx="30.50" cy="41.80" r="0.8" fill="#5a98d0"/>
<circle cx="32.80" cy="43.00" r="0.8" fill="#5a98d0"/>
<circle cx="28.80" cy="51.80" r="0.8" fill="#5a98d0"/>
<circle cx="30.80" cy="50.50" r="0.8" fill="#5a98d0"/>
<circle cx="39.20" cy="47.00" r="0.8" fill="#5a98d0"/>
<circle cx="39.80" cy="50.30" r="0.8" fill="#5a98d0"/>
<circle cx="33.90" cy="62.80" r="3.2" fill="#2f7cc2"/>
<circle cx="40.60" cy="62.00" r="3.2" fill="#6b5fc4"/>
<circle cx="37.00" cy="68.60" r="3.4" fill="#7f9fdc"/>
<line x1="24.30" y1="40.30" x2="27.20" y2="41.20" stroke="#e05050" stroke-width="1.0"/>
<line x1="40.30" y1="43.80" x2="40.50" y2="41.80" stroke="#5ab05a" stroke-width="1.0"/>
<line x1="24.00" y1="55.50" x2="26.00" y2="53.80" stroke="#e0a040" stroke-width="1.0"/>
<circle cx="78.30" cy="30.70" r="6.88" fill="#5aaab3"/>
<circle cx="83.21" cy="29.98" r="3.40846024216234" fill="#5aaab3"/>
<circle cx="81.74" cy="34.27" r="3.053041415443653" fill="#5aaab3"/>
<circle cx="79.17" cy="35.58" r="3.169694638873243" fill="#5aaab3"/>
<circle cx="75.56" cy="34.84" r="3.373234010681308" fill="#5aaab3"/>
<circle cx="73.97" cy="33.13" r="2.917008485913204" fill="#5aaab3"/>
<circle cx="73.91" cy="28.39" r="3.1596602407430323" fill="#5aaab3"/>
<circle cx="76.28" cy="26.17" r="2.9012636320106666" fill="#5aaab3"/>
<circle cx="79.05" cy="25.80" r="3.33292401940447" fill="#5aaab3"/>
<circle cx="81.73" cy="27.12" r="3.4671624173323536" fill="#5aaab3"/>
<circle cx="69.50" cy="41.10" r="6.88" fill="#5aaab3"/>
<circle cx="74.38" cy="42.00" r="3.4686964922356096" fill="#5aaab3"/>
<circle cx="73.80" cy="43.57" r="2.9509231970953533" fill="#5aaab3"/>
<circle cx="69.70" cy="46.06" r="3.341581993441114" fill="#5aaab3"/>
<circle cx="66.73" cy="45.22" r="3.0848818745534867" fill="#5aaab3"/>
<circle cx="64.77" cy="42.60" r="3.264081040184503" fill="#5aaab3"/>
<circle cx="64.90" cy="39.25" r="2.9950297221528834" fill="#5aaab3"/>
<circle cx="66.90" cy="36.87" r="3.136119092123223" fill="#5aaab3"/>
<circle cx="70.79" cy="36.31" r="3.496891737769846" fill="#5aaab3"/>
<circle cx="73.81" cy="38.64" r="3.2265062284575925" fill="#5aaab3"/>
<circle cx="73.90" cy="35.90" r="7.2" fill="#5aaab3"/>
<path d="M87.1,31.5 C90.1,31.5 92.1,34.5 92.1,37.5 L92.1,41.5 C92.1,44.5 90.1,45.5 88.1,45.5 C86.1,45.5 85.1,43.5 85.1,42.5 L82.1,42.5 C80.1,42.5 80.1,40.5 80.1,39.5 L80.1,37.5 C80.1,36.5 81.1,36.0 82.1,36.5 L85.1,37.5 L86.1,35.5 C86.1,33.5 86.1,31.5 87.1,31.5 Z" fill="#6cc08e"/>
<line x1="74.60" y1="40.18" x2="82.60" y2="43.12" stroke="#6a7ad0" stroke-width="1.8" stroke-linecap="round"/>
<circle cx="88.50" cy="56.00" r="5.5040000000000004" fill="#2f7c4c"/>
<circle cx="92.45" cy="55.58" r="2.5865375351775715" fill="#2f7c4c"/>
<circle cx="91.67" cy="58.39" r="2.6223520231577173" fill="#2f7c4c"/>
<circle cx="88.99" cy="59.94" r="2.299317315543888" fill="#2f7c4c"/>
<circle cx="87.22" cy="59.76" r="2.7624814492578764" fill="#2f7c4c"/>
<circle cx="84.92" cy="57.71" r="2.4005985766280182" fill="#2f7c4c"/>
<circle cx="85.11" cy="53.94" r="2.542158104513469" fill="#2f7c4c"/>
<circle cx="87.00" cy="52.33" r="2.5458119252196014" fill="#2f7c4c"/>
<circle cx="89.41" cy="52.14" r="2.3503698544141147" fill="#2f7c4c"/>
<circle cx="91.67" cy="53.62" r="2.7808271842859784" fill="#2f7c4c"/>
<circle cx="82.30" cy="63.00" r="5.5040000000000004" fill="#2f7c4c"/>
<circle cx="86.25" cy="62.58" r="2.32189962053843" fill="#2f7c4c"/>
<circle cx="85.44" cy="65.42" r="2.3529833624814467" fill="#2f7c4c"/>
<circle cx="83.65" cy="66.73" r="2.5009546086910452" fill="#2f7c4c"/>
<circle cx="79.77" cy="66.06" r="2.7402714108974857" fill="#2f7c4c"/>
<circle cx="78.45" cy="63.95" r="2.393156905414191" fill="#2f7c4c"/>
<circle cx="78.59" cy="61.59" r="2.4260095860648705" fill="#2f7c4c"/>
<circle cx="79.88" cy="59.85" r="2.3237099754589186" fill="#2f7c4c"/>
<circle cx="82.54" cy="59.04" r="2.8164853788568367" fill="#2f7c4c"/>
<circle cx="85.65" cy="60.87" r="2.7439914080213947" fill="#2f7c4c"/>
<circle cx="85.40" cy="59.50" r="5.760000000000001" fill="#2f7c4c"/>
<path d="M95.3,54.5 C97.8,54.5 99.5,57.1 99.5,59.6 L99.5,63.1 C99.5,65.6 97.8,66.5 96.2,66.5 C94.5,66.5 93.7,64.8 93.7,63.9 L91.2,63.9 C89.5,63.9 89.5,62.2 89.5,61.4 L89.5,59.6 C89.5,58.8 90.3,58.4 91.2,58.8 L93.7,59.6 L94.5,57.9 C94.5,56.2 94.5,54.5 95.3,54.5 Z" fill="#6cc096"/>
<line x1="84.00" y1="61.94" x2="92.00" y2="64.46" stroke="#6a7ad0" stroke-width="1.8" stroke-linecap="round"/>
<circle cx="72.60" cy="72.50" r="5.59" fill="#ebc25e"/>
<circle cx="76.63" cy="72.70" r="2.745072193556438" fill="#ebc25e"/>
<circle cx="75.36" cy="75.44" r="2.86547017026623" fill="#ebc25e"/>
<circle cx="72.92" cy="76.52" r="2.85339499799925" fill="#ebc25e"/>
<circle cx="71.27" cy="76.31" r="2.5793735926268635" fill="#ebc25e"/>
<circle cx="68.63" cy="73.19" r="2.6893847318821544" fill="#ebc25e"/>
<circle cx="69.08" cy="70.53" r="2.3679235787918866" fill="#ebc25e"/>
<circle cx="70.54" cy="69.04" r="2.447943699571898" fill="#ebc25e"/>
<circle cx="73.37" cy="68.54" r="2.6443647127568606" fill="#ebc25e"/>
<circle cx="75.13" cy="69.36" r="2.430037880278309" fill="#ebc25e"/>
<circle cx="67.60" cy="79.20" r="5.848" fill="#ebc25e"/>
<circle cx="71.79" cy="79.69" r="2.9131724253918363" fill="#ebc25e"/>
<circle cx="70.85" cy="81.89" r="2.576972889766795" fill="#ebc25e"/>
<circle cx="69.14" cy="83.12" r="2.817691137730261" fill="#ebc25e"/>
<circle cx="65.54" cy="82.88" r="2.875838381058736" fill="#ebc25e"/>
<circle cx="63.72" cy="80.84" r="2.8820839015627944" fill="#ebc25e"/>
<circle cx="63.52" cy="78.12" r="2.901149289897562" fill="#ebc25e"/>
<circle cx="65.84" cy="75.37" r="2.668403864699182" fill="#ebc25e"/>
<circle cx="68.40" cy="75.06" r="2.8292310447732074" fill="#ebc25e"/>
<circle cx="70.47" cy="76.11" r="2.7521690992989707" fill="#ebc25e"/>
<circle cx="70.10" cy="75.85" r="5.985" fill="#ebc25e"/>
<path d="M81.3,71.5 C83.8,71.5 85.5,74.1 85.5,76.6 L85.5,80.1 C85.5,82.6 83.8,83.5 82.2,83.5 C80.5,83.5 79.7,81.8 79.7,80.9 L77.2,80.9 C75.5,80.9 75.5,79.2 75.5,78.4 L75.5,76.6 C75.5,75.8 76.3,75.4 77.2,75.8 L79.7,76.6 L80.5,74.9 C80.5,73.2 80.5,71.5 81.3,71.5 Z" fill="#6cc096"/>
<line x1="70.00" y1="78.94" x2="78.00" y2="81.46" stroke="#6a7ad0" stroke-width="1.8" stroke-linecap="round"/>
<circle cx="86.30" cy="95.50" r="6.536" fill="#b7354f"/>
<circle cx="91.00" cy="95.17" r="2.8305095043547013" fill="#b7354f"/>
<circle cx="89.72" cy="98.74" r="2.7834617720005257" fill="#b7354f"/>
<circle cx="87.05" cy="100.15" r="2.9594133501475515" fill="#b7354f"/>
<circle cx="84.70" cy="99.93" r="3.0444614399136523" fill="#b7354f"/>
<circle cx="82.24" cy="97.90" r="3.0001874101974315" fill="#b7354f"/>
<circle cx="81.66" cy="94.67" r="2.794427808006319" fill="#b7354f"/>
<circle cx="83.82" cy="91.49" r="3.236111274803223" fill="#b7354f"/>
<circle cx="86.41" cy="90.79" r="2.8739433787642086" fill="#b7354f"/>
<circle cx="90.06" cy="92.66" r="3.3086253654742035" fill="#b7354f"/>
<circle cx="77.00" cy="104.50" r="7.052" fill="#b7354f"/>
<circle cx="82.05" cy="103.95" r="3.5573770215006295" fill="#b7354f"/>
<circle cx="81.34" cy="107.15" r="3.4028901537229643" fill="#b7354f"/>
<circle cx="78.70" cy="109.29" r="3.1284645909574507" fill="#b7354f"/>
<circle cx="73.64" cy="108.31" r="3.1056385791333474" fill="#b7354f"/>
<circle cx="72.13" cy="105.97" r="3.2554802576634376" fill="#b7354f"/>
<circle cx="72.19" cy="102.85" r="3.2769896163335064" fill="#b7354f"/>
<circle cx="73.94" cy="100.44" r="3.478312764179783" fill="#b7354f"/>
<circle cx="77.05" cy="99.42" r="3.120509775693823" fill="#b7354f"/>
<circle cx="80.20" cy="100.55" r="3.1400604766019184" fill="#b7354f"/>
<circle cx="81.65" cy="100.00" r="7.109999999999999" fill="#b7354f"/>
<path d="M95.0,95.5 C98.0,95.5 100.0,98.5 100.0,101.5 L100.0,105.5 C100.0,108.5 98.0,109.5 96.0,109.5 C94.0,109.5 93.0,107.5 93.0,106.5 L90.0,106.5 C88.0,106.5 88.0,104.5 88.0,103.5 L88.0,101.5 C88.0,100.5 89.0,100.0 90.0,100.5 L93.0,101.5 L94.0,99.5 C94.0,97.5 94.0,95.5 95.0,95.5 Z" fill="#5dbf8c"/>
<line x1="82.50" y1="104.18" x2="90.50" y2="107.12" stroke="#6a7ad0" stroke-width="1.8" stroke-linecap="round"/>
<circle cx="77.50" cy="132.50" r="6.536" fill="#86c274"/>
<circle cx="82.21" cy="132.43" r="2.9639871588370252" fill="#86c274"/>
<circle cx="81.51" cy="134.98" r="3.259937109991805" fill="#86c274"/>
<circle cx="79.21" cy="136.89" r="3.041669248031325" fill="#86c274"/>
<circle cx="74.53" cy="136.16" r="2.7884887883098006" fill="#86c274"/>
<circle cx="73.04" cy="134.02" r="3.109990025610171" fill="#86c274"/>
<circle cx="72.85" cy="131.72" r="2.9674117626372616" fill="#86c274"/>
<circle cx="75.48" cy="128.24" r="3.0112125522700155" fill="#86c274"/>
<circle cx="78.73" cy="127.95" r="2.8342942969579754" fill="#86c274"/>
<circle cx="80.77" cy="129.11" r="2.806568516786809" fill="#86c274"/>
<circle cx="69.30" cy="142.00" r="7.052" fill="#86c274"/>
<circle cx="74.38" cy="142.15" r="3.2373334328050687" fill="#86c274"/>
<circle cx="73.09" cy="145.39" r="3.103658939283701" fill="#86c274"/>
<circle cx="69.55" cy="147.08" r="3.474153323520067" fill="#86c274"/>
<circle cx="66.49" cy="146.24" r="3.0761377339112914" fill="#86c274"/>
<circle cx="64.51" cy="143.70" r="3.1766636869732556" fill="#86c274"/>
<circle cx="64.37" cy="140.75" r="3.5516901454875467" fill="#86c274"/>
<circle cx="67.68" cy="137.18" r="3.0067338294702597" fill="#86c274"/>
<circle cx="70.89" cy="137.17" r="3.341914366580911" fill="#86c274"/>
<circle cx="73.04" cy="138.55" r="3.150170930744029" fill="#86c274"/>
<circle cx="73.40" cy="137.25" r="7.109999999999999" fill="#86c274"/>
<path d="M87.5,132.5 C90.5,132.5 92.5,135.5 92.5,138.5 L92.5,142.5 C92.5,145.5 90.5,146.5 88.5,146.5 C86.5,146.5 85.5,144.5 85.5,143.5 L82.5,143.5 C80.5,143.5 80.5,141.5 80.5,140.5 L80.5,138.5 C80.5,137.5 81.5,137.0 82.5,137.5 L85.5,138.5 L86.5,136.5 C86.5,134.5 86.5,132.5 87.5,132.5 Z" fill="#86c274"/>
<path d="M73,143 L79,139 L83,141 L88,137" fill="none" stroke="#fff" stroke-width="0.6"/>
<path d="M106.8,13.2 L112.3,13.2 L112.3,36.8 L106.8,36.8" fill="none" stroke="#111" stroke-width="1.2"/>
<path d="M106.8,43.2 L112.3,43.2 L112.3,66.6 L106.8,66.6" fill="none" stroke="#111" stroke-width="1.2"/>
<path d="M106.8,72.9 L112.3,72.9 L112.3,96.6 L106.8,96.6" fill="none" stroke="#111" stroke-width="1.2"/>
<path d="M106.8,103 L112.3,103 L112.3,126.3 L106.8,126.3" fill="none" stroke="#111" stroke-width="1.2"/>
<path d="M106.8,132 L112.3,132 L112.3,155 L106.8,155" fill="none" stroke="#111" stroke-width="1.2"/>
<path d="M119.8,18.3 L126.6,18.3 L126.6,150.4 L119.8,150.4" fill="none" stroke="#111" stroke-width="1.2"/>
<line x1="126.60" y1="84.60" x2="137.50" y2="84.60" stroke="#111" stroke-width="1.1"/>
<path d="M140.6,84.6 L136.5,82.3 L136.5,86.9 Z" fill="#111"/>
<circle cx="196.90" cy="84.60" r="50.2" fill="#f3f1f1" stroke="#a6a6a6" stroke-width="8.2"/>
<line x1="196.90" y1="46.60" x2="196.90" y2="41.10" stroke="#d6d4d4" stroke-width="1.1"/>
<line x1="215.90" y1="51.69" x2="218.65" y2="46.93" stroke="#d6d4d4" stroke-width="1.1"/>
<line x1="229.81" y1="65.60" x2="234.57" y2="62.85" stroke="#d6d4d4" stroke-width="1.1"/>
<line x1="234.90" y1="84.60" x2="240.40" y2="84.60" stroke="#d6d4d4" stroke-width="1.1"/>
<line x1="229.81" y1="103.60" x2="234.57" y2="106.35" stroke="#d6d4d4" stroke-width="1.1"/>
<line x1="215.90" y1="117.51" x2="218.65" y2="122.27" stroke="#d6d4d4" stroke-width="1.1"/>
<line x1="196.90" y1="122.60" x2="196.90" y2="128.10" stroke="#d6d4d4" stroke-width="1.1"/>
<line x1="177.90" y1="117.51" x2="175.15" y2="122.27" stroke="#d6d4d4" stroke-width="1.1"/>
<line x1="163.99" y1="103.60" x2="159.23" y2="106.35" stroke="#d6d4d4" stroke-width="1.1"/>
<line x1="158.90" y1="84.60" x2="153.40" y2="84.60" stroke="#d6d4d4" stroke-width="1.1"/>
<line x1="163.99" y1="65.60" x2="159.23" y2="62.85" stroke="#d6d4d4" stroke-width="1.1"/>
<line x1="177.90" y1="51.69" x2="175.15" y2="46.93" stroke="#d6d4d4" stroke-width="1.1"/>
<path d="M174.5,55.5 C171,56 167.5,62 166,68 C165,72 164.5,76 164.7,78.6 C168,77.5 172,76 176.5,75.5 L176.8,62 C176.8,58 176,55.5 174.5,55.5 Z" fill="#2f6289"/>
<path d="M182,55.5 C185.5,56 189,62 190.5,68 C191.5,72 192,76 192,79 C188.5,78 184.5,76.5 180.5,75.5 L180.3,62 C180.3,58 180.8,55.5 182,55.5 Z" fill="#2f6289"/>
<line x1="178.35" y1="51.30" x2="178.35" y2="65.00" stroke="#3a8fd2" stroke-width="2.1"/>
<defs><radialGradient id="adg" cx="0.4" cy="0.4" r="0.65"><stop offset="0" stop-color="#e2c67c"/><stop offset="0.8" stop-color="#d6b86a"/><stop offset="1" stop-color="#c8a45a"/></radialGradient><radialGradient id="ads" cx="0.5" cy="0.5" r="0.5"><stop offset="0" stop-color="#7a4a20"/><stop offset="1" stop-color="#7a4a20" stop-opacity="0"/></radialGradient></defs>
<circle cx="215.00" cy="65.20" r="12.0" fill="url(#adg)" stroke="#9a6a30" stroke-width="1.0"/>
<circle cx="222.30" cy="57.80" r="3.2" fill="url(#ads)"/>
<path d="M206,61 C208,57 212,55.5 216,56" stroke="#f4e6b8" stroke-width="1.6" fill="none" stroke-linecap="round"/>
<path d="M161,86 C160,83 163,81.5 165,83 L166,90 C168,88 171,88 173,90 L175,87 L178,88 L176,92 C180,95 181,101 179.5,105 C177.5,108.5 172,109 168,108.5 L165,108.8 C162,108.5 160,106 160,102 C159.5,97 161,92 161,86 Z" fill="#2f6289"/>
<path d="M165.5,94 L165.5,84 C166,82 168,81.5 169,83 L169.5,86 L170.5,82 L172.5,82.5 L172,88 C171,91 169,93 167.5,95 Z" fill="#3a8fd2"/>
<line x1="161.50" y1="104.50" x2="170.50" y2="95.50" stroke="#e8eef4" stroke-width="0.6"/>
<line x1="168.00" y1="108.50" x2="166.00" y2="96.00" stroke="#e8eef4" stroke-width="0.5"/>
<path d="M181.2,115 C181.5,111 184.5,109.3 189,109 C195,108.3 201,105.5 207.6,103.2 C209,104.6 207.5,107.6 203,110.2 C198,113 194,114.5 192,117.5 C191,121 188.5,123.2 185,122.8 C182,122.3 181,119 181.2,115 Z" fill="#2f6289"/>
<path d="M183.5,119 C185,114 191,112 197,110 C201.5,108.5 204.5,106.8 206.8,104.8" fill="none" stroke="#d5e4f0" stroke-width="0.5"/>
<rect x="213.60" y="92.80" width="17.40" height="17.60" fill="#3d9ae0"/>
<path d="M215.5,96 C217.5,94 220,97.5 223,95.5 C226,93.8 229,96.5 227.5,99.5 C226,102 222,99.5 219.5,101.5 C217,103.5 215,101 215.5,104.5 C216,107.5 220,105 222.5,107 C225,108.5 228,104.5 229.5,107" fill="none" stroke="#1f5f93" stroke-width="0.7"/>
<path d="M219,98.5 C221,100 224,98.5 225,101.5 C226,104 223,104.5 221,103.8" fill="none" stroke="#1f5f93" stroke-width="0.6"/>
<path d="M210.3,92 C210.3,89 212,88.3 214,88.6 C218,89.6 226,89.6 231,88.4 C233.5,87.9 234.6,89.5 234.4,92 L234.4,109.5 C234.4,111.5 232,112 230.8,110.5 L230.8,93.8 C226,94.6 218,94.6 214,93.8 L214,106 C214,108 212,109 210.5,107 Z" fill="#2f6289"/>
<path d="M213.6,105.5 C215,109.8 219,110.8 222,110.3 L226.5,110.3 C228.5,110.3 230,109.3 230.9,107.8 L230.9,110.2 C229.6,112 227.8,112.4 226.3,112.4 L226.3,115.8 L222.4,115.8 L222.4,112.4 C218,112.8 214,111.3 213,108.2 Z" fill="#2f6289"/>
<circle cx="212.00" cy="88.80" r="1.1" fill="#2f6289"/>
<circle cx="217.00" cy="88.80" r="1.1" fill="#2f6289"/>
<circle cx="222.00" cy="88.80" r="1.1" fill="#2f6289"/>
<circle cx="227.00" cy="88.80" r="1.1" fill="#2f6289"/>
<circle cx="232.00" cy="88.80" r="1.1" fill="#2f6289"/>
<circle cx="210.40" cy="93.00" r="1.0" fill="#2f6289"/>
<circle cx="234.40" cy="93.00" r="1.0" fill="#2f6289"/>
<circle cx="210.40" cy="98.00" r="1.0" fill="#2f6289"/>
<circle cx="234.40" cy="98.00" r="1.0" fill="#2f6289"/>
<circle cx="210.40" cy="103.00" r="1.0" fill="#2f6289"/>
<circle cx="234.40" cy="103.00" r="1.0" fill="#2f6289"/>
<circle cx="214.00" cy="87.30" r="1.1" fill="#3a8fd2"/>
<line x1="197.30" y1="85.20" x2="197.30" y2="51.80" stroke="#222" stroke-width="2.5"/>
<line x1="197.30" y1="85.20" x2="223.60" y2="85.20" stroke="#222" stroke-width="2.5"/>
<circle cx="197.20" cy="85.20" r="3.1" fill="#fff" stroke="#9a9a9a" stroke-width="0.9"/>
<circle cx="14.40" cy="171.20" r="9.2" fill="#000"/>
<text x="14.40" y="174.20" font-size="8.4" fill="#e6e6e6" text-anchor="middle">1</text>
<circle cx="145.30" cy="149.20" r="9.2" fill="#000"/>
<text x="145.30" y="152.20" font-size="8.4" fill="#e6e6e6" text-anchor="middle">2</text>
<circle cx="46.10" cy="328.70" r="9.2" fill="#000"/>
<text x="46.10" y="331.70" font-size="8.4" fill="#e6e6e6" text-anchor="middle">3</text>
<text x="79.00" y="171.30" font-size="9.2" fill="#231f20" text-anchor="middle" textLength="94.00" lengthAdjust="spacingAndGlyphs">Map plasma proteins to</text>
<text x="79.30" y="181.50" font-size="9.2" fill="#231f20" text-anchor="middle" textLength="91.50" lengthAdjust="spacingAndGlyphs">putative organ sources</text>
<text x="201.30" y="152.20" font-size="9.2" fill="#231f20" text-anchor="middle" textLength="79.20" lengthAdjust="spacingAndGlyphs">Use organ-enriched</text>
<text x="201.30" y="162.30" font-size="9.2" fill="#231f20" text-anchor="middle" textLength="74.50" lengthAdjust="spacingAndGlyphs">proteins to model</text>
<text x="201.20" y="172.40" font-size="9.2" fill="#231f20" text-anchor="middle" textLength="83.50" lengthAdjust="spacingAndGlyphs">organ-specific aging</text>
<line x1="37.00" y1="251.60" x2="66.50" y2="251.60" stroke="#111" stroke-width="1.1"/>
<path d="M69.5,251.6 L65.2,249.3 L65.2,253.9 Z" fill="#111"/>
<path d="M90.5,203 L90.5,304.3 L197.5,304.3" fill="none" stroke="#111" stroke-width="1.2"/>
<path d="M90.5,199.5 L88.3,204.5 L92.7,204.5 Z" fill="#111"/>
<path d="M201,304.3 L196,302.1 L196,306.5 Z" fill="#111"/>
<text x="109.00" y="316.00" font-size="9.2" fill="#231f20" textLength="73.60" lengthAdjust="spacingAndGlyphs">Chronological age</text>
<text x="80.20" y="251.60" font-size="9.2" fill="#231f20" text-anchor="middle" textLength="54.60" lengthAdjust="spacingAndGlyphs" transform="rotate(-90 80.20 251.60)">Predicted age</text>
<text x="63.80" y="332.00" font-size="9.2" fill="#231f20" textLength="144.20" lengthAdjust="spacingAndGlyphs">Calculate individual organ age gaps</text>
<path d="M96.4,237.0 C98.4,237.6 104.1,239.7 108.2,240.7 C112.4,241.6 116.2,242.4 121.0,242.5 C125.9,242.5 132.6,241.6 137.4,241.0 C142.3,240.4 144.4,240.6 150.2,238.8 C156.0,237.1 164.5,234.0 172.1,230.4 C179.7,226.9 191.9,219.8 195.8,217.7" fill="none" stroke="#222" stroke-width="1.0" stroke-dasharray="3.2 2.4"/>
<path d="M100.9,243.2 C103.1,243.8 109.5,245.8 113.7,246.5 C118.0,247.2 120.4,247.7 126.5,247.4 C132.6,247.1 142.0,246.3 150.2,244.7 C158.4,243.0 167.1,241.0 175.8,237.4 C184.4,233.7 197.8,225.2 202.2,222.8" fill="none" stroke="#222" stroke-width="1.0" stroke-dasharray="3.2 2.4"/>
<path d="M100.9,253.8 C103.7,253.6 111.6,252.8 117.4,252.3 C123.2,251.9 129.5,251.4 135.6,251.1 C141.7,250.8 147.8,250.8 153.9,250.5 C160.0,250.2 163.4,249.8 172.1,249.2 C180.8,248.7 200.2,247.7 205.9,247.4" fill="none" stroke="#222" stroke-width="1.0" stroke-dasharray="3.2 2.4"/>
<path d="M104.6,289.4 C106.7,286.6 112.8,276.5 117.4,273.0 C121.9,269.4 127.4,269.2 132.0,268.0 C136.5,266.9 138.1,266.8 144.7,266.2 C151.4,265.7 162.2,264.4 172.1,264.7 C182.0,265.0 198.7,267.5 204.1,268.0" fill="none" stroke="#222" stroke-width="1.0" stroke-dasharray="3.2 2.4"/>
<path d="M109.2,282.6 C110.8,281.2 115.1,276.8 119.2,273.9 C123.3,270.9 128.6,267.3 133.8,264.7 C139.0,262.2 143.8,260.0 150.2,258.4 C156.6,256.7 163.9,255.5 172.1,254.7 C180.3,253.9 194.9,253.9 199.5,253.8" fill="none" stroke="#222" stroke-width="1.0" stroke-dasharray="3.2 2.4"/>
<circle cx="133.19" cy="211.36" r="2.8" fill="#e8202a"/>
<circle cx="145.67" cy="226.89" r="2.8" fill="#e8202a"/>
<circle cx="126.53" cy="233.55" r="2.8" fill="#e8202a"/>
<circle cx="139.02" cy="237.71" r="2.8" fill="#e8202a"/>
<circle cx="145.67" cy="237.16" r="2.8" fill="#e8202a"/>
<circle cx="104.34" cy="247.42" r="2.8" fill="#e8202a"/>
<circle cx="126.53" cy="247.42" r="2.8" fill="#e8202a"/>
<circle cx="124.31" cy="253.80" r="2.8" fill="#e8202a"/>
<circle cx="117.93" cy="259.35" r="2.8" fill="#e8202a"/>
<circle cx="158.43" cy="237.16" r="2.8" fill="#e8202a"/>
<circle cx="169.25" cy="231.61" r="2.8" fill="#e8202a"/>
<circle cx="182.01" cy="226.89" r="2.8" fill="#e8202a"/>
<circle cx="193.66" cy="217.74" r="2.8" fill="#e8202a"/>
<circle cx="193.66" cy="231.61" r="2.8" fill="#e8202a"/>
<circle cx="199.21" cy="240.49" r="2.8" fill="#e8202a"/>
<circle cx="182.01" cy="237.71" r="2.8" fill="#e8202a"/>
<circle cx="175.63" cy="237.71" r="2.8" fill="#e8202a"/>
<circle cx="164.54" cy="244.65" r="2.8" fill="#e8202a"/>
<circle cx="193.66" cy="252.97" r="2.8" fill="#e8202a"/>
<circle cx="210.86" cy="233.55" r="2.8" fill="#e8202a"/>
<circle cx="152.05" cy="211.36" r="2.8" fill="#2a6cc0"/>
<circle cx="175.63" cy="211.36" r="2.8" fill="#2a6cc0"/>
<circle cx="100.74" cy="282.09" r="2.8" fill="#2a6cc0"/>
<circle cx="117.93" cy="275.16" r="2.8" fill="#2a6cc0"/>
<circle cx="151.22" cy="282.09" r="2.8" fill="#2a6cc0"/>
<circle cx="111.28" cy="253.25" r="2.8" fill="#2a6cc0"/>
<circle cx="133.19" cy="258.79" r="2.8" fill="#2a6cc0"/>
<circle cx="145.67" cy="248.81" r="2.8" fill="#2a6cc0"/>
<circle cx="145.67" cy="258.79" r="2.8" fill="#2a6cc0"/>
<circle cx="145.67" cy="266.28" r="2.8" fill="#2a6cc0"/>
<circle cx="157.60" cy="260.74" r="2.8" fill="#2a6cc0"/>
<circle cx="164.54" cy="255.19" r="2.8" fill="#2a6cc0"/>
<circle cx="170.92" cy="255.19" r="2.8" fill="#2a6cc0"/>
<circle cx="170.92" cy="260.74" r="2.8" fill="#2a6cc0"/>
<circle cx="182.01" cy="255.74" r="2.8" fill="#2a6cc0"/>
<circle cx="182.01" cy="266.28" r="2.8" fill="#2a6cc0"/>
<circle cx="188.67" cy="244.65" r="2.8" fill="#2a6cc0"/>
<circle cx="195.60" cy="248.81" r="2.8" fill="#2a6cc0"/>
<circle cx="195.60" cy="254.36" r="2.8" fill="#2a6cc0"/>
<circle cx="205.31" cy="233.55" r="2.8" fill="#2a6cc0"/>
<circle cx="205.31" cy="260.74" r="2.8" fill="#2a6cc0"/>
<circle cx="210.86" cy="266.28" r="2.8" fill="#2a6cc0"/>
<line x1="99.30" y1="257.40" x2="211.70" y2="233.00" stroke="#e8202a" stroke-width="3"/>
<line x1="96.00" y1="275.40" x2="199.20" y2="242.70" stroke="#1b3a8c" stroke-width="3"/>
<text x="0.00" y="369.00" font-size="11" font-weight="bold" fill="#000" stroke="#000" stroke-width="0.25" textLength="3.3" lengthAdjust="spacingAndGlyphs">j</text>
<path d="M113.0,401.8 C110.5,402.3 102.5,403.7 98.0,405.0 C93.5,406.3 89.4,407.7 86.0,409.5 C82.6,411.3 79.8,413.6 77.5,416.0 C75.2,418.4 73.8,421.0 72.5,424.0 C71.2,427.0 70.4,430.2 69.5,434.0 C68.6,437.8 68.0,442.3 67.0,447.0 C66.0,451.7 64.9,456.5 63.5,462.0 C62.1,467.5 59.6,474.5 58.5,480.0 C57.4,485.5 57.2,486.4 57.0,495.0 C56.8,503.6 57.0,525.4 57.0,531.5 L70.0,505.0 L81.0,482.0 L87.5,466.0 L89.5,452.0 C89.7,453.7 89.8,458.0 90.5,462.0 C91.2,466.0 92.8,469.7 94.0,476.0 C95.2,482.3 97.3,492.5 97.6,500.0 C97.9,507.5 97.1,514.3 96.0,521.0 C94.9,527.7 92.4,533.8 91.0,540.0 C89.6,546.2 88.2,552.5 87.5,558.0 C86.8,563.5 87.1,570.5 87.0,573.0 L174.0,573.0 C173.9,570.5 174.2,563.5 173.5,558.0 C172.8,552.5 171.4,546.2 170.0,540.0 C168.6,533.8 166.1,527.7 165.0,521.0 C163.9,514.3 163.1,507.5 163.4,500.0 C163.7,492.5 165.8,482.3 167.0,476.0 C168.2,469.7 169.8,466.0 170.5,462.0 C171.2,458.0 171.3,453.7 171.5,452.0 L173.5,466.0 L180.0,482.0 L191.0,505.0 L204.0,531.5 C204.0,525.4 204.2,503.6 204.0,495.0 C203.8,486.4 203.6,485.5 202.5,480.0 C201.4,474.5 198.9,467.5 197.5,462.0 C196.1,456.5 195.0,451.7 194.0,447.0 C193.0,442.3 192.4,437.8 191.5,434.0 C190.6,430.2 189.8,427.0 188.5,424.0 C187.2,421.0 185.8,418.4 183.5,416.0 C181.2,413.6 178.4,411.3 175.0,409.5 C171.6,407.7 167.5,406.3 163.0,405.0 C158.5,403.7 150.5,402.3 148.0,401.8 Z" fill="#f1f1f1" stroke="#b9b9b9" stroke-width="0.7"/>
<path d="M89.5,452.0 C89.7,453.7 89.8,458.0 90.5,462.0 C91.2,466.0 92.8,469.7 94.0,476.0 C95.2,482.3 97.3,492.5 97.6,500.0 C97.9,507.5 97.1,514.3 96.0,521.0 C94.9,527.7 92.4,533.8 91.0,540.0 C89.6,546.2 88.2,552.5 87.5,558.0 C86.8,563.5 87.1,570.5 87.0,573.0 L91,573 C91.5,560 94,545 98,525 C100.5,510 100,495 97,478 C95,466 92,458 89.5,452 Z" fill="#e3e3e3"/>
<path d="M171.5,452.0 C171.3,453.7 171.2,458.0 170.5,462.0 C169.8,466.0 168.2,469.7 167.0,476.0 C165.8,482.3 163.7,492.5 163.4,500.0 C163.1,507.5 163.9,514.3 165.0,521.0 C166.1,527.7 168.6,533.8 170.0,540.0 C171.4,546.2 172.8,552.5 173.5,558.0 C174.2,563.5 173.9,570.5 174.0,573.0 L170,573 C169.5,560 167,545 163,525 C160.5,510 161,495 164,478 C166,466 169,458 171.5,452 Z" fill="#e3e3e3"/>
<path d="M57,531.5 L70,505 L81,482 L87.5,466 L89.5,452 L86,462 L79,480 L68,503 L58,524 Z" fill="#dcdcdc"/>
<path d="M204,531.5 L191,505 L180,482 L173.5,466 L171.5,452 L175,462 L182,480 L193,503 L203,524 Z" fill="#dcdcdc"/>
<path d="M86,418 C96,414 110,413 122,416" fill="none" stroke="#d0d0d0" stroke-width="0.5"/>
<path d="M175,418 C165,414 151,413 139,416" fill="none" stroke="#d0d0d0" stroke-width="0.5"/>
<path d="M95,551 C103,557 113,563 121,572" fill="none" stroke="#d6d6d6" stroke-width="0.7"/>
<path d="M166,551 C158,557 148,563 140,572" fill="none" stroke="#d6d6d6" stroke-width="0.7"/>
<path d="M121,411 C112,412 104,420 99,432 C95,443 94,458 95,473 C104,475 116,474 124,470 L126,430 Z" fill="#f0c6cb"/>
<path d="M140,411 C149,412 157,420 162,432 C166,443 167,458 166,473 C157,475 145,474 137,470 L135,430 Z" fill="#f0c6cb"/>
<path d="M84,419 C92,417 102,420 108,426 C104,431 98,437 94,444 C90,437 87,428 84,419 Z" fill="#f3e4bd"/>
<path d="M177,419 C169,417 159,420 153,426 C157,431 163,437 167,444 C171,437 174,428 177,419 Z" fill="#f3e4bd"/>
<path d="M80,419 C85,417 90,419 89,424 C86,432 82,442 79,452 C77.5,460 76.5,466 76,470 L69,470 C69,460 70.5,446 73,434 C75,426 77,421 80,419 Z" fill="#eab0b2"/>
<path d="M181,419 C176,417 171,419 172,424 C175,432 179,442 182,452 C183.5,460 184.5,466 185,470 L192,470 C192,460 190.5,446 188,434 C186,426 184,421 181,419 Z" fill="#eab0b2"/>
<path d="M77,440 C75,450 72,460 70,470 L75.5,470 C77,462 80,452 83,444 Z" fill="#d8878a"/>
<path d="M184,440 C186,450 189,460 191,470 L185.5,470 C184,462 181,452 178,444 Z" fill="#d8878a"/>
<path d="M80,421 C84,419 88,421 87,425 L83,428 Z" fill="#e09090" opacity="0.8"/>
<path d="M125,437 L117,440 L109,442 M117,440 L113,433 M110,448 L117,440 M111,455 L118,446 M118,446 L115,462 M113,433 L110,428" fill="none" stroke="#aab4dc" stroke-width="1.2" stroke-linecap="round" stroke-linejoin="round"/>
<path d="M136,437 L144,440 L152,442 M144,440 L148,433 M151,448 L144,440 M150,455 L143,446 M143,446 L146,462 M148,433 L151,428" fill="none" stroke="#aab4dc" stroke-width="1.2" stroke-linecap="round" stroke-linejoin="round"/>
<path d="M123,401.5 L136,401.5 L135.5,406 L123.5,406 Z" fill="#f2d4a8"/>
<rect x="126.30" y="404.00" width="6.40" height="24.00" fill="#a4bede"/>
<line x1="126.30" y1="406.00" x2="132.70" y2="406.00" stroke="#cbdaee" stroke-width="0.6"/>
<line x1="126.30" y1="409.00" x2="132.70" y2="409.00" stroke="#cbdaee" stroke-width="0.6"/>
<line x1="126.30" y1="412.00" x2="132.70" y2="412.00" stroke="#cbdaee" stroke-width="0.6"/>
<line x1="126.30" y1="415.00" x2="132.70" y2="415.00" stroke="#cbdaee" stroke-width="0.6"/>
<line x1="126.30" y1="418.00" x2="132.70" y2="418.00" stroke="#cbdaee" stroke-width="0.6"/>
<line x1="126.30" y1="421.00" x2="132.70" y2="421.00" stroke="#cbdaee" stroke-width="0.6"/>
<line x1="126.30" y1="424.00" x2="132.70" y2="424.00" stroke="#cbdaee" stroke-width="0.6"/>
<line x1="126.30" y1="427.00" x2="132.70" y2="427.00" stroke="#cbdaee" stroke-width="0.6"/>
<path d="M124,426 C122,430 123,438 127,440 L133,440 C137,438 138,430 136,426 Z" fill="#eab47c"/>
<path d="M97.5,465 C108,459.5 130,459.5 146,462.5 L147,472 C138,484 122,492 106,495.5 C100.5,490 98,478 97.5,465 Z" fill="#d2aca7"/>
<path d="M124,476 C133,470 147,470 152,477 C155,486 151,496 141,500 C130,502 120,499 117,494 C117.5,486 119,480 124,476 Z" fill="#f3b3a3"/>
<path d="M125.5,484 C129,487 134,487 138,484.5" fill="none" stroke="#fff" stroke-width="1.3"/>
<path d="M147.5,468 C153.5,466.5 159,471 159,479 C159,485 155,489 151.5,488.5 C147.5,486.5 145.5,476 147.5,468 Z" fill="#c49cac"/>
<path d="M121,441 C124,435 134,434 141,438 C147,442 147,453 143,460 C139,466 131,467 126,464 C120,460 118,448 121,441 Z" fill="#cc5a4c"/>
<path d="M124,444 C128,440 136,441 139,447 C141,454 137,461 131,461 C126,460 122,452 124,444 Z" fill="#b43c3a"/>
<circle cx="128.00" cy="450.00" r="1.1" fill="#e09a3c"/>
<circle cx="131.00" cy="455.00" r="1.1" fill="#e09a3c"/>
<circle cx="135.00" cy="449.00" r="1.1" fill="#e09a3c"/>
<circle cx="129.00" cy="458.00" r="1.1" fill="#e09a3c"/>
<circle cx="134.00" cy="458.00" r="1.1" fill="#e09a3c"/>
<circle cx="132.00" cy="446.00" r="1.1" fill="#e09a3c"/>
<circle cx="137.00" cy="454.00" r="1.1" fill="#e09a3c"/>
<circle cx="126.00" cy="447.00" r="1.1" fill="#e09a3c"/>
<circle cx="139.00" cy="450.00" r="1.1" fill="#e09a3c"/>
<path d="M124,438 C126,434 132,432 136,434 L134,440 L127,441 Z" fill="#e8a070" opacity="0.8"/>
<path d="M100,500 C112,495 148,495 157,500 C160,515 160,535 157,550 C150,555 141,555 136,553 C135.5,560 134,566 131.5,571.5 C129,566 127.5,560 127,553 C118,556 107,555 101,550 C97.5,535 97.5,515 100,500 Z" fill="#eca5a7"/>
<path d="M106,505 C118,502 142,502 152,505 C154,518 154,535 152,546 C140,550 120,550 107,546 C105,535 105,518 106,505 Z" fill="#f4b8ae"/>
<circle cx="102.20" cy="502.00" r="2.5" fill="none" stroke="#e08e92" stroke-width="0.45"/>
<circle cx="155.30" cy="502.00" r="2.5" fill="none" stroke="#e08e92" stroke-width="0.45"/>
<circle cx="102.20" cy="507.00" r="2.5" fill="none" stroke="#e08e92" stroke-width="0.45"/>
<circle cx="155.30" cy="507.00" r="2.5" fill="none" stroke="#e08e92" stroke-width="0.45"/>
<circle cx="102.20" cy="512.00" r="2.5" fill="none" stroke="#e08e92" stroke-width="0.45"/>
<circle cx="155.30" cy="512.00" r="2.5" fill="none" stroke="#e08e92" stroke-width="0.45"/>
<circle cx="102.20" cy="517.00" r="2.5" fill="none" stroke="#e08e92" stroke-width="0.45"/>
<circle cx="155.30" cy="517.00" r="2.5" fill="none" stroke="#e08e92" stroke-width="0.45"/>
<circle cx="102.20" cy="522.00" r="2.5" fill="none" stroke="#e08e92" stroke-width="0.45"/>
<circle cx="155.30" cy="522.00" r="2.5" fill="none" stroke="#e08e92" stroke-width="0.45"/>
<circle cx="102.20" cy="527.00" r="2.5" fill="none" stroke="#e08e92" stroke-width="0.45"/>
<circle cx="155.30" cy="527.00" r="2.5" fill="none" stroke="#e08e92" stroke-width="0.45"/>
<circle cx="102.20" cy="532.00" r="2.5" fill="none" stroke="#e08e92" stroke-width="0.45"/>
<circle cx="155.30" cy="532.00" r="2.5" fill="none" stroke="#e08e92" stroke-width="0.45"/>
<circle cx="102.20" cy="537.00" r="2.5" fill="none" stroke="#e08e92" stroke-width="0.45"/>
<circle cx="155.30" cy="537.00" r="2.5" fill="none" stroke="#e08e92" stroke-width="0.45"/>
<circle cx="102.20" cy="542.00" r="2.5" fill="none" stroke="#e08e92" stroke-width="0.45"/>
<circle cx="155.30" cy="542.00" r="2.5" fill="none" stroke="#e08e92" stroke-width="0.45"/>
<circle cx="102.20" cy="547.00" r="2.5" fill="none" stroke="#e08e92" stroke-width="0.45"/>
<circle cx="155.30" cy="547.00" r="2.5" fill="none" stroke="#e08e92" stroke-width="0.45"/>
<circle cx="104.00" cy="500.80" r="2.3" fill="none" stroke="#e08e92" stroke-width="0.45"/>
<circle cx="110.40" cy="500.80" r="2.3" fill="none" stroke="#e08e92" stroke-width="0.45"/>
<circle cx="116.80" cy="500.80" r="2.3" fill="none" stroke="#e08e92" stroke-width="0.45"/>
<circle cx="123.20" cy="500.80" r="2.3" fill="none" stroke="#e08e92" stroke-width="0.45"/>
<circle cx="129.60" cy="500.80" r="2.3" fill="none" stroke="#e08e92" stroke-width="0.45"/>
<circle cx="136.00" cy="500.80" r="2.3" fill="none" stroke="#e08e92" stroke-width="0.45"/>
<circle cx="142.40" cy="500.80" r="2.3" fill="none" stroke="#e08e92" stroke-width="0.45"/>
<circle cx="148.80" cy="500.80" r="2.3" fill="none" stroke="#e08e92" stroke-width="0.45"/>
<circle cx="155.20" cy="500.80" r="2.3" fill="none" stroke="#e08e92" stroke-width="0.45"/>
<path d="M111,492 C114,487 121,486 127,489 C130,492 129,499 125,503 C120,506 113,503 111,498 Z" fill="#e6b868"/>
<circle cx="121.00" cy="500.00" r="4" fill="#f0a890"/>
<path d="M110,489 C112,486 116,486 117,489 L114,493 Z" fill="#86b58e"/>
<circle cx="109.00" cy="508.00" r="3.1" fill="none" stroke="#e3a09c" stroke-width="0.5"/>
<circle cx="115.40" cy="508.00" r="3.1" fill="none" stroke="#e3a09c" stroke-width="0.5"/>
<circle cx="121.80" cy="508.00" r="3.1" fill="none" stroke="#e3a09c" stroke-width="0.5"/>
<circle cx="128.20" cy="508.00" r="3.1" fill="none" stroke="#e3a09c" stroke-width="0.5"/>
<circle cx="134.60" cy="508.00" r="3.1" fill="none" stroke="#e3a09c" stroke-width="0.5"/>
<circle cx="141.00" cy="508.00" r="3.1" fill="none" stroke="#e3a09c" stroke-width="0.5"/>
<circle cx="147.40" cy="508.00" r="3.1" fill="none" stroke="#e3a09c" stroke-width="0.5"/>
<circle cx="112.20" cy="514.00" r="3.1" fill="none" stroke="#e3a09c" stroke-width="0.5"/>
<circle cx="118.60" cy="514.00" r="3.1" fill="none" stroke="#e3a09c" stroke-width="0.5"/>
<circle cx="125.00" cy="514.00" r="3.1" fill="none" stroke="#e3a09c" stroke-width="0.5"/>
<circle cx="131.40" cy="514.00" r="3.1" fill="none" stroke="#e3a09c" stroke-width="0.5"/>
<circle cx="137.80" cy="514.00" r="3.1" fill="none" stroke="#e3a09c" stroke-width="0.5"/>
<circle cx="144.20" cy="514.00" r="3.1" fill="none" stroke="#e3a09c" stroke-width="0.5"/>
<circle cx="150.60" cy="514.00" r="3.1" fill="none" stroke="#e3a09c" stroke-width="0.5"/>
<circle cx="109.00" cy="520.00" r="3.1" fill="none" stroke="#e3a09c" stroke-width="0.5"/>
<circle cx="115.40" cy="520.00" r="3.1" fill="none" stroke="#e3a09c" stroke-width="0.5"/>
<circle cx="121.80" cy="520.00" r="3.1" fill="none" stroke="#e3a09c" stroke-width="0.5"/>
<circle cx="128.20" cy="520.00" r="3.1" fill="none" stroke="#e3a09c" stroke-width="0.5"/>
<circle cx="134.60" cy="520.00" r="3.1" fill="none" stroke="#e3a09c" stroke-width="0.5"/>
<circle cx="141.00" cy="520.00" r="3.1" fill="none" stroke="#e3a09c" stroke-width="0.5"/>
<circle cx="147.40" cy="520.00" r="3.1" fill="none" stroke="#e3a09c" stroke-width="0.5"/>
<circle cx="112.20" cy="526.00" r="3.1" fill="none" stroke="#e3a09c" stroke-width="0.5"/>
<circle cx="118.60" cy="526.00" r="3.1" fill="none" stroke="#e3a09c" stroke-width="0.5"/>
<circle cx="125.00" cy="526.00" r="3.1" fill="none" stroke="#e3a09c" stroke-width="0.5"/>
<circle cx="131.40" cy="526.00" r="3.1" fill="none" stroke="#e3a09c" stroke-width="0.5"/>
<circle cx="137.80" cy="526.00" r="3.1" fill="none" stroke="#e3a09c" stroke-width="0.5"/>
<circle cx="144.20" cy="526.00" r="3.1" fill="none" stroke="#e3a09c" stroke-width="0.5"/>
<circle cx="150.60" cy="526.00" r="3.1" fill="none" stroke="#e3a09c" stroke-width="0.5"/>
<circle cx="109.00" cy="532.00" r="3.1" fill="none" stroke="#e3a09c" stroke-width="0.5"/>
<circle cx="115.40" cy="532.00" r="3.1" fill="none" stroke="#e3a09c" stroke-width="0.5"/>
<circle cx="121.80" cy="532.00" r="3.1" fill="none" stroke="#e3a09c" stroke-width="0.5"/>
<circle cx="128.20" cy="532.00" r="3.1" fill="none" stroke="#e3a09c" stroke-width="0.5"/>
<circle cx="134.60" cy="532.00" r="3.1" fill="none" stroke="#e3a09c" stroke-width="0.5"/>
<circle cx="141.00" cy="532.00" r="3.1" fill="none" stroke="#e3a09c" stroke-width="0.5"/>
<circle cx="147.40" cy="532.00" r="3.1" fill="none" stroke="#e3a09c" stroke-width="0.5"/>
<circle cx="112.20" cy="538.00" r="3.1" fill="none" stroke="#e3a09c" stroke-width="0.5"/>
<circle cx="118.60" cy="538.00" r="3.1" fill="none" stroke="#e3a09c" stroke-width="0.5"/>
<circle cx="125.00" cy="538.00" r="3.1" fill="none" stroke="#e3a09c" stroke-width="0.5"/>
<circle cx="131.40" cy="538.00" r="3.1" fill="none" stroke="#e3a09c" stroke-width="0.5"/>
<circle cx="137.80" cy="538.00" r="3.1" fill="none" stroke="#e3a09c" stroke-width="0.5"/>
<circle cx="144.20" cy="538.00" r="3.1" fill="none" stroke="#e3a09c" stroke-width="0.5"/>
<circle cx="150.60" cy="538.00" r="3.1" fill="none" stroke="#e3a09c" stroke-width="0.5"/>
<circle cx="109.00" cy="544.00" r="3.1" fill="none" stroke="#e3a09c" stroke-width="0.5"/>
<circle cx="115.40" cy="544.00" r="3.1" fill="none" stroke="#e3a09c" stroke-width="0.5"/>
<circle cx="121.80" cy="544.00" r="3.1" fill="none" stroke="#e3a09c" stroke-width="0.5"/>
<circle cx="128.20" cy="544.00" r="3.1" fill="none" stroke="#e3a09c" stroke-width="0.5"/>
<circle cx="134.60" cy="544.00" r="3.1" fill="none" stroke="#e3a09c" stroke-width="0.5"/>
<circle cx="141.00" cy="544.00" r="3.1" fill="none" stroke="#e3a09c" stroke-width="0.5"/>
<circle cx="147.40" cy="544.00" r="3.1" fill="none" stroke="#e3a09c" stroke-width="0.5"/>
<circle cx="119.00" cy="516.00" r="3.1" fill="#e8c980" stroke="#cea85c" stroke-width="0.5"/>
<circle cx="125.00" cy="514.00" r="3.1" fill="#e8c980" stroke="#cea85c" stroke-width="0.5"/>
<circle cx="131.00" cy="515.00" r="3.1" fill="#e8c980" stroke="#cea85c" stroke-width="0.5"/>
<circle cx="137.00" cy="516.00" r="3.1" fill="#e8c980" stroke="#cea85c" stroke-width="0.5"/>
<circle cx="142.00" cy="518.00" r="3.1" fill="#e8c980" stroke="#cea85c" stroke-width="0.5"/>
<circle cx="117.00" cy="522.00" r="3.1" fill="#e8c980" stroke="#cea85c" stroke-width="0.5"/>
<circle cx="123.00" cy="521.00" r="3.1" fill="#e8c980" stroke="#cea85c" stroke-width="0.5"/>
<circle cx="129.00" cy="522.00" r="3.1" fill="#e8c980" stroke="#cea85c" stroke-width="0.5"/>
<circle cx="135.00" cy="523.00" r="3.1" fill="#e8c980" stroke="#cea85c" stroke-width="0.5"/>
<circle cx="141.00" cy="524.00" r="3.1" fill="#e8c980" stroke="#cea85c" stroke-width="0.5"/>
<circle cx="120.00" cy="528.00" r="3.1" fill="#e8c980" stroke="#cea85c" stroke-width="0.5"/>
<circle cx="126.00" cy="528.00" r="3.1" fill="#e8c980" stroke="#cea85c" stroke-width="0.5"/>
<circle cx="132.00" cy="529.00" r="3.1" fill="#e8c980" stroke="#cea85c" stroke-width="0.5"/>
<circle cx="138.00" cy="530.00" r="3.1" fill="#e8c980" stroke="#cea85c" stroke-width="0.5"/>
<circle cx="144.00" cy="528.00" r="3.1" fill="#e8c980" stroke="#cea85c" stroke-width="0.5"/>
<circle cx="123.00" cy="534.00" r="3.1" fill="#e8c980" stroke="#cea85c" stroke-width="0.5"/>
<circle cx="129.00" cy="535.00" r="3.1" fill="#e8c980" stroke="#cea85c" stroke-width="0.5"/>
<circle cx="135.00" cy="535.00" r="3.1" fill="#e8c980" stroke="#cea85c" stroke-width="0.5"/>
<circle cx="141.00" cy="535.00" r="3.1" fill="#e8c980" stroke="#cea85c" stroke-width="0.5"/>
<circle cx="128.00" cy="540.00" r="3.1" fill="#e8c980" stroke="#cea85c" stroke-width="0.5"/>
<line x1="91.80" y1="388.50" x2="112.30" y2="434.40" stroke="#333" stroke-width="0.7"/>
<line x1="52.20" y1="431.00" x2="76.70" y2="455.60" stroke="#333" stroke-width="0.7"/>
<line x1="165.70" y1="392.20" x2="131.20" y2="451.50" stroke="#333" stroke-width="0.7"/>
<line x1="200.90" y1="404.20" x2="176.20" y2="423.80" stroke="#333" stroke-width="0.7"/>
<line x1="213.00" y1="497.30" x2="154.50" y2="478.80" stroke="#333" stroke-width="0.7"/>
<line x1="48.20" y1="506.60" x2="119.00" y2="496.00" stroke="#333" stroke-width="0.7"/>
<line x1="57.00" y1="549.20" x2="104.40" y2="531.30" stroke="#333" stroke-width="0.7"/>
<line x1="191.70" y1="543.50" x2="135.00" y2="527.00" stroke="#333" stroke-width="0.7"/>
<circle cx="85.60" cy="380.50" r="6.0" fill="#4f4ff5" stroke="#2a2a2a" stroke-width="0.8"/>
<circle cx="47.10" cy="423.00" r="6.0" fill="#f9a2a2" stroke="#2a2a2a" stroke-width="0.8"/>
<circle cx="172.40" cy="381.00" r="6.0" fill="#fddcdc" stroke="#2a2a2a" stroke-width="0.8"/>
<circle cx="207.00" cy="396.60" r="6.0" fill="#fbc6c6" stroke="#2a2a2a" stroke-width="0.8"/>
<circle cx="221.60" cy="499.70" r="6.0" fill="#e1e1f8" stroke="#2a2a2a" stroke-width="0.8"/>
<circle cx="39.00" cy="507.40" r="6.0" fill="#f77070" stroke="#2a2a2a" stroke-width="0.8"/>
<circle cx="47.90" cy="551.90" r="6.0" fill="#f24a4a" stroke="#2a2a2a" stroke-width="0.8"/>
<circle cx="201.00" cy="546.80" r="6.0" fill="#0b0bf0" stroke="#2a2a2a" stroke-width="0.8"/>
<text x="67.60" y="374.00" font-size="8.2" fill="#231f20" text-anchor="middle" textLength="19.60" lengthAdjust="spacingAndGlyphs">Lung</text>
<text x="23.00" y="422.00" font-size="8.2" fill="#231f20" text-anchor="middle" textLength="28.20" lengthAdjust="spacingAndGlyphs">Muscle</text>
<text x="191.00" y="375.00" font-size="8.2" fill="#231f20" text-anchor="middle" textLength="21.50" lengthAdjust="spacingAndGlyphs">Heart</text>
<text x="228.20" y="393.00" font-size="8.2" fill="#231f20" text-anchor="middle" textLength="23.50" lengthAdjust="spacingAndGlyphs">Artery</text>
<text x="230.70" y="495.80" font-size="8.2" fill="#231f20" textLength="26.50" lengthAdjust="spacingAndGlyphs">Kidney</text>
<text x="20.70" y="497.00" font-size="8.2" fill="#231f20" text-anchor="middle" textLength="38.80" lengthAdjust="spacingAndGlyphs">Pancreas*</text>
<text x="27.30" y="542.00" font-size="8.2" fill="#231f20" text-anchor="middle" textLength="37.00" lengthAdjust="spacingAndGlyphs">Intestine*</text>
<text x="229.40" y="544.00" font-size="8.2" fill="#231f20" text-anchor="middle" textLength="34.80" lengthAdjust="spacingAndGlyphs">Adipose*</text>
<defs><linearGradient id="cb" x1="0" x2="1" y1="0" y2="0"><stop offset="0" stop-color="#0000ff"/><stop offset="0.5" stop-color="#ffffff"/><stop offset="1" stop-color="#ff0000"/></linearGradient></defs>
<rect x="26.30" y="609.30" width="211.70" height="9.20" fill="url(#cb)"/>
<text x="132.6" y="603" font-size="8.2" fill="#231f20" text-anchor="middle" textLength="103" lengthAdjust="spacingAndGlyphs">Δ <tspan font-style="italic">z</tspan>-scored age gap by CR</text>
<text x="26.30" y="627.70" font-size="7.6" fill="#231f20" text-anchor="middle">−0.5</text>
<text x="79.20" y="627.70" font-size="7.6" fill="#231f20" text-anchor="middle">−0.25</text>
<text x="132.20" y="627.70" font-size="7.6" fill="#231f20" text-anchor="middle">0</text>
<text x="185.10" y="627.70" font-size="7.6" fill="#231f20" text-anchor="middle">0.25</text>
<text x="238.00" y="627.70" font-size="7.6" fill="#231f20" text-anchor="middle">0.5</text>
</svg>
</body></html>
